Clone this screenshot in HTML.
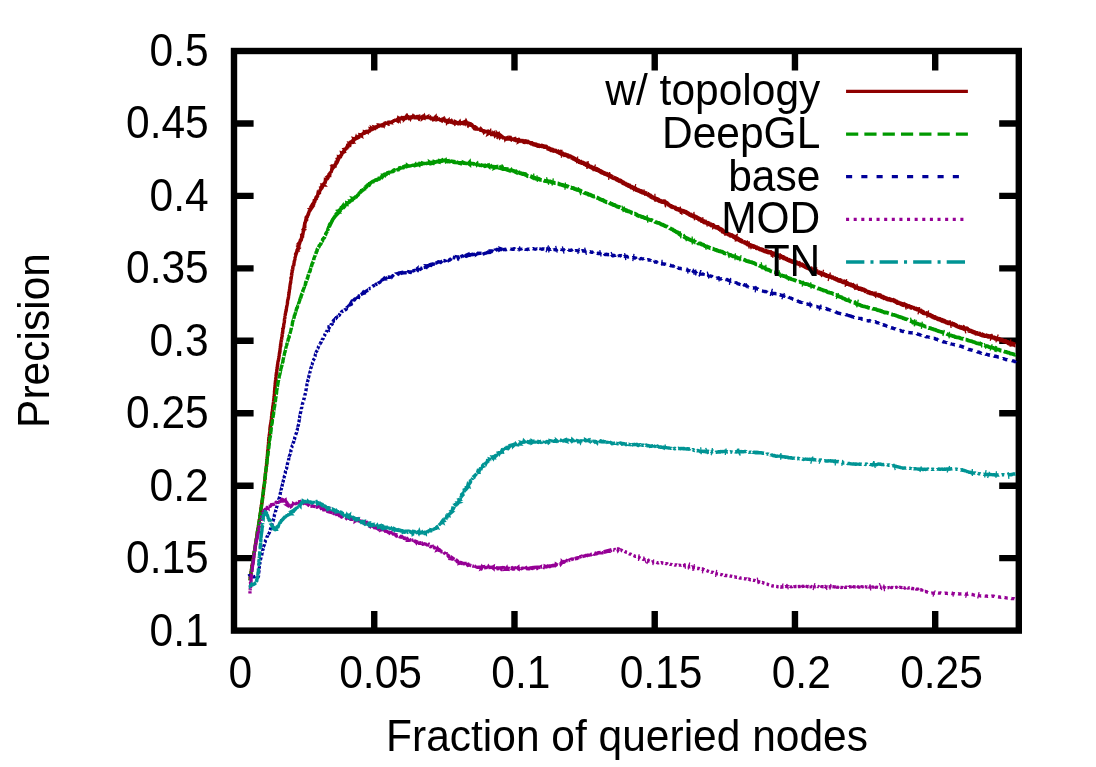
<!DOCTYPE html>
<html><head><meta charset="utf-8"><title>plot</title>
<style>
html,body{margin:0;padding:0;background:#fff;}
svg{display:block;will-change:transform}
text{font-family:"Liberation Sans",sans-serif;font-size:42.5px;fill:#000}
</style></head><body>
<svg width="1096" height="767" viewBox="0 0 1096 767">
<rect width="1096" height="767" fill="#fff"/>

<g stroke="#000" stroke-width="6.4" fill="none" stroke-linecap="butt">
<rect x="234.0" y="51.0" width="784.80" height="579.60"/>
<path d="M234.0,558.15h19.6 M1018.8,558.15h-19.6"/>
<path d="M234.0,485.70h19.6 M1018.8,485.70h-19.6"/>
<path d="M234.0,413.25h19.6 M1018.8,413.25h-19.6"/>
<path d="M234.0,340.80h19.6 M1018.8,340.80h-19.6"/>
<path d="M234.0,268.35h19.6 M1018.8,268.35h-19.6"/>
<path d="M234.0,195.90h19.6 M1018.8,195.90h-19.6"/>
<path d="M234.0,123.45h19.6 M1018.8,123.45h-19.6"/>
<path d="M374.24,630.6v-19.6 M374.24,51.0v19.6"/>
<path d="M514.48,630.6v-19.6 M514.48,51.0v19.6"/>
<path d="M654.72,630.6v-19.6 M654.72,51.0v19.6"/>
<path d="M794.96,630.6v-19.6 M794.96,51.0v19.6"/>
<path d="M935.20,630.6v-19.6 M935.20,51.0v19.6"/>
</g>
<text transform="translate(208.7,645.60) scale(1,1.08)" text-anchor="end">0.1</text>
<text transform="translate(208.7,573.15) scale(1,1.08)" text-anchor="end">0.15</text>
<text transform="translate(208.7,500.70) scale(1,1.08)" text-anchor="end">0.2</text>
<text transform="translate(208.7,428.25) scale(1,1.08)" text-anchor="end">0.25</text>
<text transform="translate(208.7,355.80) scale(1,1.08)" text-anchor="end">0.3</text>
<text transform="translate(208.7,283.35) scale(1,1.08)" text-anchor="end">0.35</text>
<text transform="translate(208.7,210.90) scale(1,1.08)" text-anchor="end">0.4</text>
<text transform="translate(208.7,138.45) scale(1,1.08)" text-anchor="end">0.45</text>
<text transform="translate(208.7,66.00) scale(1,1.08)" text-anchor="end">0.5</text>
<text transform="translate(240.30,688.0) scale(1,1.08)" text-anchor="middle">0</text>
<text transform="translate(380.54,688.0) scale(1,1.08)" text-anchor="middle">0.05</text>
<text transform="translate(520.78,688.0) scale(1,1.08)" text-anchor="middle">0.1</text>
<text transform="translate(661.02,688.0) scale(1,1.08)" text-anchor="middle">0.15</text>
<text transform="translate(801.26,688.0) scale(1,1.08)" text-anchor="middle">0.2</text>
<text transform="translate(941.50,688.0) scale(1,1.08)" text-anchor="middle">0.25</text>
<text transform="translate(627.0,751.3) scale(1,1.035)" text-anchor="middle">Fraction of queried nodes</text>
<text transform="translate(48.9,340.5) rotate(-90) scale(1,1.035)" text-anchor="middle">Precision</text>
<text transform="translate(820.3,105.2) scale(1,1.035)" text-anchor="end">w/ topology</text>
<g stroke="#8f0000" stroke-width="3.3" fill="none" stroke-linejoin="bevel">
<path d="M846.06,91.4H967.9"/>
<path d="M250,580l.2-1.9l0,.7l-.1-.7l0-.5l.4-.3l-.4,1.1l.1-1.1l-.1,1l0-.5l.1-.6l.3-.4l-.1-.3l.1-.7l0-.6l.1-.4l0,.4l.1-.2l.1-.9l0,0l.4-1.5l-.2,.3l.2,.2l-.2,.3l0-.4l-.1,.1l.2-1.3l.1,.6l0-1.1l.5-1.6l-.4,.7l-.1,.6l.1-1.2l.2,.7l0-1.1l0-.3l.3-1.1l-.1-.1l0-.5l.3-1l-.1,.1l.1-.5l-.3,.6l.1-1.1l.3,1.1l-.2-.4l.2-1.8l.1,1.2l0-.6l.2-.3l.1-1.2l-.3,1.6l.4-1.1l-.1-.3l.1-.3l.2-.5l.3-1.7l-.2,1.2l.1-1.4l-.1-.4l.3,.7l-.2,.5l.1-1.7l-.1-.4l.3-.2l-.4,.6l.2-.8l0-.3l.4-.8l-.3,1.9l.1-1.5l.3-.7l-.1-1.2l0,.1l.3-.5l-.2-.3l.1-.1l0-1.1l.1,.4l0-.3l.1-.5l-.1,.2l.1-1.2l0,.6l.2-2l-.2,.6l.4,.5l-.1-.6l.2-1.1l-.1,.3l.1,.1l-.1-.2l.4-.7l-.2,.2l-.1,.5l.6-2.1l-.2-.1l0-.1l0-.1l.1-1l-.2,.7l.2-.7l-.2,.3l.5-1l0,0l0-1.5l0,.8l.1-.1l0-.5l.1,.2l0-1.9l0,.5l.1-.5l.2-1l0,.9l-.1-.2l0-.7l.1-1l.1-.4l.4,.4l-.2-.5l.2-1l-.1,0l-.1,.7l.3-.5l-.2,.4l0-1.5l.2-.4l-.1,.3l.2-1.1l.2-1l0,1.6l.1-1.4l0-1.2l.1-.2l-.2,1l.2-1.3l.1,0l0-.5l.1-.8l-.2,.5l.1,.2l0-1.4l0,0l0-.2l.3-.3l0,.3l-.2,.3l.2-1.1l.2-1l-.1,.7l.2-2.1l-.2,1l.2,.4l0-1.2l.2,.6l.1-1.2l-.2-.9l.4-.3l-.2,.2l.3-.2l-.2-.2l.1-.9l0,.4l.3-.6l.1-.4l-.3,.4l.4-1l-.1,.8l0-1.7l.1,.4l0,.2l-.2-.9l.4-.8l-.3,.6l.4-1.2l-.3,1l.1-.9l0-.5l0,.1l.4-1.6l0,.8l-.1-.5l.3-1.2l-.3,0l.3-.9l0-.1l.1-.7l.1,.3l-.3,1.2l.3-.9l.2-1.7l-.4,1.6l.2-1.3l.4,0l.1-1.7l-.3,.3l.3-.8l-.1,1.1l.1-1.9l-.2,.6l.2-1.2l-.1,1.2l.1-1.2l.4-.7l-.2,.1l.2,.4l-.1-1.8l.1,.3l.2-1.7l-.4,2.6l.2-.6l.1-1l.1-.9l-.1,.5l0-.6l.2-.3l-.1,.4l.2-1.2l0,0l.3-1.8l-.2,1.1l0-.7l.4-1.2l-.2,1l-.1-.4l-.1,.2l.1-1.2l.3-.8l.1,0l-.3,1.5l.4-1.7l.1-.6l-.3,.4l.1,.1l0-1.5l.3-1.2l-.1,1.5l.1-.3l-.1-.4l.5-1.8l-.3,.5l0-.7l.5-1.1l-.2,1l0-.7l0-.1l.1,.4l-.1-.1l.1-1l-.1-.3l.2-1.3l.1,.2l.1,.4l.2-1.1l-.4,.7l.3-.3l-.2,.5l.2-1.3l.3-2.2l-.2,.9l-.1-.1l.1,.1l.1-.8l-.1,0l.1-.9l.4,.4l-.1-.5l-.1-.6l.3-1.1l-.1,.2l.1-1l-.1,1.8l0-1.5l.2,.1l-.2-.9l.3-.3l-.2,1l0-1.3l.4-.4l-.1-.8l-.1-.4l.3-.7l-.2,.6l0-.9l0-.2l.1-1.7l.2,2.4l-.2-1l.3-.7l-.3,.3l.1-1.5l.2-.5l-.1,.1l.1-.2l-.1,.4l.1-1.1l.3,.3l.1-1.3l0,.5l-.2,.4l.1-.2l.1-.8l.2-1.7l-.1-.1l.1,.9l-.1-.3l.1-.7l0,.2l.2,.3l0-1.6l-.1-.6l-.1,1.8l.3-1.9l0-.4l.1,.3l.1-.4l-.3,.4l.4-3.4l.2-.4l-.3,2.5l0-2.4l.1-.5l-.1,1.4l.1-.1l.1-1.2l0-.2l.3-.9l-.1,.2l-.1-.4l-.1,.8l.2-1.8l.1,.4l.1-.8l-.1,.8l-.1-.9l0,0l.2-.9l-.2,.6l.1-1.5l.3,.1l.1-1.5l-.1,.9l0-.2l-.1,0l0,.2l.2-1.4l.1-.4l0-.3l.1-1l0,.5l0-.7l.1-.3l-.1,0l.1,1.1l.1-1.7l-.1,.5l.1-1.5l.1-.4l.1-1l.1-.4l0-.2l0,.5l0-.6l-.3,.1l.2,.1l.3-.8l-.1-1.4l-.2,.8l.1,1.1l.1-2.2l0-.3l.3-1.4l-.1,.9l0,.2l.1-1.8l-.1,1.1l.2-1.5l.1-.2l-.2,.3l0,0l.2-.7l-.1,.2l.3-1.6l-.3,2.2l.1-1.7l-.1-.9l.2,.2l0-.5l0-.3l0,.8l.1-.6l0-1.8l.1-.3l.1,.8l0,0l0,.5l-.2-.9l.3-2.5l-.2,2.7l.1-2.3l0,0l.1-2l.1,1.3l-.1,.1l-.2-.4l.3-1l.1,.2l-.3,.4l.3-2.1l0-.2l.2-1l-.3,1.3l.2-.8l-.1,1.2l.2-1.2l.1-1.5l-.1,.8l-.1,.3l.2-2.2l0,.8l0-.3l.2-1.4l-.3,.5l.2,.1l0,0l-.2-.2l.4-1.4l-.1-.3l-.1,.8l.3-1.2l.1-.2l-.2,0l0-.4l0-.6l.1-.2l.1-.2l0-.7l0-1.3l-.1,1.3l.2-.8l-.2-.1l.2,.1l0-1.8l.1-.3l0,1.3l.2-2.3l-.2,1.5l.2-.7l0,0l-.1-.7l.3-.9l-.1,.9l-.2-.8l.1-.1l.2-1.1l0,1l-.1-1.2l.2-.6l.1-.8l0-.4l.2,.1l-.1,.1l0-.3l-.1-.2l-.1,.6l.7-2.5l-.2,.8l-.1-.3l.1,0l-.1-1.6l-.1,.8l.3-1.3l-.2,1l.1-2.1l0,.7l.1-.1l.1-.1l-.1-1.1l0,.6l0-.7l.1-.7l.4-1.6l-.3,.3l0,1l0-.8l.2-.3l0-.3l-.1,.5l.2-1l0-.6l.1,.7l-.3,.7l.6-3.3l-.3,.5l.1,.1l.1,.4l0-.6l.2-.9l.1-.3l.2-.4l-.4,.5l.3-1.6l-.1,1.1l.3-1l0-1.1l-.1-.1l.2,0l-.1-.2l-.1,.7l.2-1.6l.1-.8l-.2,1.2l.3-1.3l-.3,.3l.2-.9l.1-.1l.2-.9l.1-.3l-.3,.5l.1-.6l-.1-.1l.2-.4l0,.3l0-2.1l.2,.7l-.2,0l.1-.9l.3-1.1l-.3,1l.3-1l-.2,1.5l0-1.1l.2-.2l.2-1.4l-.1-.3l-.1-.4l.1,.5l.4-2l-.1,0l0,.3l.1,.2l-.2-.3l.2,.6l.1-1.6l0-.1l-.1,0l.1-.4l0,.3l.1-.7l0-1.3l0,0l.3-.2l-.1-.3l.1-1.2l-.1,.7l.3-.6l-.1-.5l.3-.7l-.1-.2l0,.3l-.3,1.2l.2-1.5l.1-.2l.1-1.7l-.1,1l0-1.4l.1,.7l.2-1.1l0-.1l0-1.1l.3-.3l-.2-.6l-.1,1.4l-.1-.3l.3-1.3l.1,.1l-.1-.8l-.1-.5l.1,.7l-.2,.9l.4-1.9l-.1,.2l-.1,.3l.2-1.4l0-.6l0-.6l.2,.2l-.1-.4l.1,.4l-.1-.2l-.2,.4l.3-.8l0-1l.1-.7l-.2-.3l.1,1l.1-.5l0-1l.1-.8l0,0l0,.6l0-1.3l.3-1.3l-.1,.3l-.1,.4l0-1.1l.2-.2l0-.4l-.1,.2l0,.6l.2-1.6l0-.1l-.1-.3l0-.2l.2-1.3l.1,.1l-.1,.2l-.1-.7l0,.6l.1-.2l-.2,.2l.4-1.7l-.1-1.3l.1,.5l.2-.5l0-1.1l0,.2l-.2,1l.1-.1l.1-1.4l-.1,.1l.2-.5l.2-.5l-.2,.4l.2-.8l-.3,1l.2-1.3l.2-1.2l.1-.5l-.2,.1l.2-.1l-.1-.3l-.2,.1l.3-.8l.3-1.4l-.5,2.2l.2-.8l.3-2.6l0,.3l.1-.4l-.1,.8l-.2-.1l.1,0l.3-.7l.2-1.4l-.1,.1l.2-1.1l0,.6l-.4,.4l.3-.8l0-1l.3-.7l-.1,.6l-.1,.1l.1-.5l0-.5l.3-.4l.1-1.3l-.2,.5l-.3,1.1l.6-2.4l.1,1.1l-.1-.9l-.2,.7l.1-.7l.1-.3l-.1-.7l.3-1l-.1,1.3l.2-1.9l-.1,.7l0-.5l.2-1.3l0,.2l-.1-.2l.2-.9l.2-.6l-.3,1.1l0-.4l.4,.3l-.2-1.3l.6-1.1l-.1,0l-.2-.1l-.1-.5l0,0l.3-.1l-.3,1.1l.5-1.6l.1-1.6l.2-.7l-.1,.7l-.2,.4l0-.3l.3-.9l.3-1l-.4,1.2l.2-.6l0-.4l.1-.5l-.1,0l.1-.9l.2-.2l.1,.2l0-1.2l-.2,1.3l.1-1.5l.2-.4l0,.2l0,.5l.4-2.2l-.3,.6l.1-.7l.2-1l-.2,1.4l.2-1.8l-.1,1l0-.4l.1,0l0-1.8l.2,.3l-.3-.2l.6-1.6l0-.3l-.5,1.5l.5-1.9l-.1,1.1l.3-1l.1-1.6l-.2,1.4l-.3-.7l.3-.7l.2-1.6l0,1.5l0-1.1l-.3,.7l.3-.5l.1-1.3l.1,.8l.2-2l-.3,1.4l.2-1.5l.2-.9l-.2,1.4l.3-1.2l-.2-.4l.3,.6l.1-.7l0-.3l.1-.1l0,.4l-.2-1l.1-.5l-.2-.4l.3-.3l.2-.3l-.3,.3l.1-.1l.1-.3l.3-.4l-.1-1.2l0-.6l.6-1.8l-.5,2l0,.4l.3-2.8l0,1.7l-.2-1.4l0,.5l.4-1l0-.9l0,.8l-.1,.3l.3-1.7l-.2-.2l.4-.1l-.5,0l.2,.5l0-1.2l.2-1.5l-.2,1.7l-.1,.3l.6-2.2l-.1,.6l.1,0l.2-1.9l-.1,.7l-.2-.3l.1,.8l.5-1.9l-.1-.1l.1-.1l-.2-.4l.2-.6l0-.3l.2-.5l-.3,.5l0,.6l.3-1.7l.2-.5l-.1,.2l0,0l.3-1l-.2-.4l.1-.5l.3-.7l-.1,.6l0,0l-.1-.7l-.2,.8l.4-2.4l0-.1l.1,.5l.1-1l0,.2l-.2,.6l.4-2l-.2,.8l0-.3l.1-.8l.2-.6l.1,.3l-.1-.6l-.1-.6l0,.3l.5-1.7l-.3,1.2l0-.2l.3-.5l-.1-.3l.1-1.5l.2,0l.1-.5l0-.1l0,.1l-.2,.7l.8-2.8l-.7,1.5l.3-.3l0,.4l.3-2.1l0-.2l-.3,1.6l.4-1.8l.2-.7l-.4,1l.5-1l-.4,.5l.4-2l-.2,.5l.3-.5l0-.2l.1-1l.1-.1l.2-.4l-.1-.2l.2,.3l.1-1.5l0,.3l-.2-.4l.1,.1l.2-.4l0-.8l-.3,1.4l.2-1.1l.2-.4l-.1,.4l0-.7l.1-1.5l.1-.2l.1-.6l.1,.1l-.3,.7l.6-1.8l0,.5l-.4,.2l.3-.1l.2-2.3l-.1,.9l.2-.2l0,.2l.2-.8l-.2,.2l.2-1l-.1,.3l.1-.8l.1-.9l-.1,.8l.3-1.5l-.1,.7l.2-.8l-.2-.3l-.1,1.8l.2-2.5l-.1,.4l.2-.3l.3-1.5l-.4,1.6l.2-1.3l.1-.2l.2-1.1l.1-.2l-.2,.1l.2-1.2l-.1-.1l.3-.4l-.1,.5l.3-1.6l-.4,1.7l.3-1.9l-.2,.7l.4-1.7l.1-.3l-.2,.5l0-.8l.2-.3l-.1,0l.1-.3l-.1,.9l.1-1.3l-.1,.3l.2-.3l.1-.8l.1,.9l-.2-1l.1,0l0-.7l.2-.4l.1-1.2l.2,.1l-.2,1.1l.1-1.6l0-.8l0,.4l.1-.5l.2-1.1l-.2,.1l.3-1.9l-.2,2.3l.2-1.5l-.1,.6l.2-.5l.1-1.3l.2-.1l-.1-.6l.1-.5l.1,.5l-.1-.1l.4-2.7l-.3,1.6l0,0l0-.7l-.1-.7l.3-.5l-.1,1l.3,.1l-.3-.6l0-.4l.5-1.8l-.1,1l0-.7l.1-1.1l0,.4l-.2,.2l.2-.6l0-.7l-.4,.9l.5-.7l.1-1.1l.1,.9l0,.1l.3-1.5l0-1l.1-.4l-.2,1.6l.1-1.3l.2-.7l-.2,1.2l.1-2.2l.4,.1l.1,.3l.1-.9l0-.4l-.3,.8l.6-.8l.2-1.8l.1,.1l-.2,.6l0-.9l0-.2l.3,.6l-.1-2.5l.3,.6l0,0l0-.6l.2-.2l0-.3l0,.2l-.1,.4l-.1-1.1l.5,0l0-1.5l.1,.3l-.1-.5l.1,.1l.2-.5l.1,.2l-.6,.3l.8-1.7l.2-.1l-.3-.8l.5,.2l-.4-.4l.1-.3l.3-1l-.4,1.3l.5-1.7l-.3,.7" stroke-width="3.4"/>
<path d="M295.7,254.7l.8-1.9l-.5,1.5l.2-.7l0,.1l.2-.8l.4-.6l0-.7l-.4,1.2l-.1,0l.6-1.2l-.3,.5l.4-1.5l.3-.7l0,.2l.3,0l-.2-.4l.2-.2l-.1,0l.2-.8l.3-.4l0-.1l.1-.3l.8-1.6l-.8,1.4l.5-.7l-.6-.7l.9-.7l-.1-.5l-.5,2.2l.6-2.3l0,0l.1,.1l.1-1.1l0-.2l.3-.4l.2,.3l.2-.6l.3-1l.3,.1l-.8,.1l.8-1l-.4,.4l.2-1.1l.6-.2l.1,.2l-.7,.9l.3-1.4l-.2,.3l1-1.7l-.3,.6l.2-.4l.3,0l.2-1.6l0,.9l.4-1.1l-.2-1l-.2,1.4l-.1-.4l.1-.8l.5-.3l-.2,.2l-.1-.5l.7,.1l.1-1.8l-.2,.5l0-1.1l.1,1.1l0-.3l.2-.4l.2-.1l.1-1.3l.1-.8l0,.6l-.3,.4l.4-.9l-.1-.3l.2-.9l.1-.4l.2,.2l-.2,1.2l.1-2.9l-.3,1.5l.2-.4l.2-.1l-.3-.2l.6-.9l.2-1.5l0-.4l-.4,1.1l.3-.9l.2-.7l-.2,.8l.2-.1l.1-1.6l.4-1.1l0,.6l-.5,.9l.4-1.3l.1,.1l0-.6l-.1-.5l.4-.9l.2-.3l-.4,1.7l.1-1l0-.2l.4-.6l.2-.8l.1-.7l.3,.1l-.8,1l1-1.8l0-.1l-.1,.1l.3-.8l.6-1.9l-.5,1.6l-.5,.5l.8-1.2l-.3,.1l.3-.9l.6-.9l-.2,1.1l.3-1l-.5-.1l.8-1l-.2,.3l.1,0l.1-.6l.3-1.1l.1,1.3l.5-1.5l-.6,.6l.9-1.6l-.5,1.2l-.5,.5l.7-1l-.1-.6l.5-1l-.3,.2l.3-.4l.4-1l-.3,1.1l1.3-2l-.4,.6l.7-1l-.4,.1l-.1-.1l.5-.1l-.2,.5l.8-1.6l-.6,.6l.2,.4l.2-1.3l-.1,.1l.4-1.3l-.2,.8l.3-.4l1-.8l-.6-.4l.5,0l-.9,0l1.1-1.8l.1,1.1l.1,.2l.7-1l-.4-.7l.1-.2l-.7,.9l1.3-2l.2,.3l0,.1l-.3,.2l.2-1l.4,.2l.6-.6l-.7,1l.5-1.2l-.1-.5l.3,0l.2-.9l.3-.3l-.2-.1l.4-.9l.4,.4l-.2-1l0-.1l.5-.1l-.3,.7l.5-1l.7-.6l-1,.4l1.1-.8l.9-1l-1.2,.9l0-.2l.7-.2l-.3-.1l.4-2.1l.7,1.1l-.3-.9l.2-.4l-.5,.4l.1-.1l.1-.2l.8-.4l.5-.5l-.1-.9l0,.3l.4-1.3l-.1,.7l.3-1.5l-.4,1l.1-.1l.6-.9l.1-.1l.7-1.5l-.9,1.3l1.2-1.5l-.7,.8l.8-.7l-.5-.8l.9-.4l-.3,1l.1-.9l.5,.5l-.4-.5l.2,.2l.6-.9l-.3,.6l.4-1.4l.3-.3l-.3-.5l1.1,0l-.3-.3l.3-.5l.5-1.1l-1.3,1.7l1.2-1.1l-.9,.8l1.1-1.6l.3-.5l-.1,.2l.4-.5l0-.4l.2,.3l.1-1.2l.3,.3l.2-.7l.2-.3l.3-1.4l-.2,1.9l-.2-.5l.2-.6l.9-.8l.5-.3l.4-.6l-.9,1.5l.4-.5l.5-.6l.4-1.2l-.3,.5l-.7-.6l1.5-1.2l.4,.6l-.6-.5l-.4,.9l.7-1.1l.8,0l0-.6l-1.2,1.1l.5-1.8l.6-.2l.2,.2l.2-.5l.5-.8l-1.1,.7l.5-.6l1.2-.7l-.1,.2l.2-1.1l-.7-.5l1,.7l-.2-.4l-.1,.6l.7-2.1l-.2,.6l0-1.1l-.4,.7l1.5-1.7l-.7,1.1l.3-.7l-.2,.5l-.1,.4l.6-1.3l.5-.5l-.5-.8l1,.1l-.1,.1l-.2-.4l.9-.3l-.4-.5l.1,0l1-1.2l-.8,.9l.7-.1l.2-.4l.3-.4l-.1,0l-.6-.9l.5,.8l.5-1l.4-.1l.2-1.1l-.3,.1l0,0l.1-.6l1.4-.5l-1,.6l.7-1.2l0,.1l-.5,.1l1-.9l-.1-1l-.1-.2l.6-.2l-.4,.1l.6-.1l.2,.5l.9-2l-.9,.9l0-.5l.7-.1l.5-.6l.1,.5l0-.8l0,.7l-.4-.7l1.2,.1l.6-1.1l-.3,.4l-.5-.1l1.4-2.2l-.2,.9l-.5,.2l1-1.2l-.1,.1l-.1,.3l.3,.5l-.4-1.6l.3,.1l.4,0l1-.8l-.7,.1l1-.4l-.5-.5l.7,.1l.5-1.2l-.4,.4l-.1,.2l.5-1l-.6,.8l.6,.2l.6-1.9l-.4,.9l.2-.2l-.4-.5l1.5-.4l.5-1.2l.1,.5l-.6,.2l1-1.4l0-.2l.1,.3l.1-.4l.3,.2l.5-.1l.3-1.4l-.7,.8l.3-1.3l.5-.1l.7,.2l-.2,.3l.7-.7l.1-.1l.3,.2l.1-.4l.2,.2l-.7-1.3l.9,.1l.4,.6l0-.1l-.4-1.3l1.3,.9l-.4-.9l.8-.1l0-.4l.4,0l-.6-.7l1.2-.5l.2,.3l.3-.5l.1-.2l-.3-.5l1.6-.8l-1.1-.3l.4,.9l.6-.8l-.8,.2l1.1-.8l.7,.2l-.9,.4l.9-.3l.2-.6l.3,.7l0-.8l.8-.4l.6-.3l-.1-.1l-1.1,.5l.9-.8l.6-.3l.5,.1l.4-.8l.1,1.3l.2-.8l-.3,.5l.5-1.3l0,.4l.4-.7l.8,.4l-.3-.8l1.2,.2l0,0l.1-.7l.7-.4l-.4-.2l-.4-.2l1.1,.3l.7-.3l-.4,.1l1.1-.3l0,0l.1-1.2l.7,.3l-.7,0l1.1-.4l.1-.3l.6-.3l-.9-.3l1.2,.9l.4-.4l.6,.3l-.9-.9l1,.8l.2-1.1l-.1,.4l.9-.1l-.3,.3l1.3-.9l-.3-.7l.4,.3l.4,.7l.9-.9l-.8,.4l1.2-.9l-.4,.1l0,.8l-.3-1.1l1.6,.5l.6,0l-.2,.5l-.4-1.5l1.2,.8l-.8-1.1l.9-.3l.4-.4l-.5,.2l.7,.6l-.6-1l1.6,.8l.2-.5l-.3-.5l2,.4l-1.6-.9l2.2,.2l-.5,.3l-.4-.2l1.3-.1l-.8-.2l.4-.4l.8-.4l.7,.3l.4-.2l-.5-.3l-.2-.5l.8,.1l.6,0l.1,.8l-.3-.8l1.2,.2l0-.6l-.1,.2l.5,.4l.7-1.2l-.1,.2l.9,.7l0-.7l-.1-.2l.2-.1l.5-.2l.4,.2l.1-1.1l-.1,1.1l.6-.9l.2-.3l.8-.1l.1,0l.6-.8l0,1l.6,.1l.3,.1l-.3-.8l.9,.9l.5-.9l1.1,.6l-1.4-.9l1.5-.1l-1,.3l1.2-.1l1,.2l-.3-.7l.2-.5l0,.5l.3,.5l1.1,.2l-.5-.5l.4-.3l.2-.1l.9-.1l.2-.3l.4-.4l.3-.1l-.2,.1l0,0l.8-.3l.9,.9l-.2-1l.1,1.1l.2-1.4l1.1,0l-.8-.4l.4,.4l1.2,.8l.1-.9l.7,.2l0-.9l.1-.4l.3,.4l.1,.3l.1,.1l-.1-1.4l1.1-.1l0,.1l.6,.4l.1,.2l.5-.2l.2-.8l-.2,0l.6-.3l.4,.3l.4,.3l.3-.9l.3,1.1l.5-.3l.3-.2l-.1-.4l1-.2l-.1,1.4l.7-.7l.3-.5l.1,.5l.2,.1l.6-.7l.1,0l1.1,.4l-.3-.6l-.1,.3l.3-.2l.6,.6l.1-.2l0-.1l.8-.8l.4,0l.2-.4l.3,1.7l.1-1.8l.5,1.6l.5-.9l.3,0l.8-.3l-.2,1l.6-1l.4,1l.7,.3l-1.2-1.2l1-.5l.9,1l-.2,.3l.3-.7l.5,.4l-.1,.1l.7-.3l0,1.4l.9-1.3l.3-.1l-.4,.7l.8,0l.7,.3l.5-.6l.1,.1l0-.6l.3,.1l.3,0l.2,1.1l.9-.7l-.6,.3l.6-.3l.9-.6l.5,0l-.7,1l.9-.8l.2,.4l.4,0l.4-.4l-.1,1l.8-.6l0,.7l.4-.5l.2,.2l.4,.2l.3-.6l0-.5l.9,.3l.2,0l0,.2l.3-.1l1.2-.6l0,0l-.1,.8l.8,0l.1,0l-.1-.1l1-.4l-.9,.2l1.6,.8l0-.6l-.4,.9l.8-.8l.4,.7l.7-.4l-.3,.2l.6,.2l.4-.3l.6-.9l0,1.1l.3,.7l.4-.4l.6-.8l0,.3l.3,0l.4-.2l.4-.4l0,1.5l.2-.1l.8-.9l.5-.1l.1,1l0,.2l.8-1l-.4,.7l.7,.3l.2-.7l-.3,1.1l1.2-.4l.7,.4l-.5,0l1.2-.5l-.8,.2l.4,.3l.3,.5l.9-.1l-.2,.5l.7,.4l.3-1.1l.5-.3l-.3,1.2l.2-.5l1,.8l-.4-.8l.6,0l.7,.4l.7,0l-.4,.6l.3-.5l.2,.5l.1,.1l1.7,.1l-1.3,0l.9-.3l-.1,0l.9,.5l0-.4l.1,1l.8-.9l0,.6l.6-.4l.4,.1l.6,.4l-.5-.2l.8-.4l0,.4l.8,1.1l-.2-1l.2,.7l-.4-.5l1.6,.8l0,.1l.3-1l.7,1l.7,.3l-.2-1.3l.9,1.2l.2-.5l-.6-.1l.6-.3l.4,.2l.2,.2l.1-.1l1,.5l-.2-.9l.6,.3l.1,.7l0,.3l.3-.7l1,.4l-.4-1.5l.9,1.3l.2,0l.8,0l-.6-.1l.6-.7l.2,.8l.9,0l-.1,.7l.3-.7l.3,.1l.3-1.2l.1,1.4l1.5-.7l-.3,.7l-.2-.2l.8-.1l.5-.1l.2,.2l.2,.2l.4-1l0,.3l0,.1l.9,0l.1,.2l.4-1l.2,.4l.4,.6l0-.2l.3,1.2l1-.3l-.8,0l.6,.6l.9-.8l-.3-.1l.3,1.2l.5-.8l-.1,1.1l.9-.6l-.4,.4l-.3,.7l.4,0l1-.3l.1,.5l.5,.1l.6,.2l.4-.3l.2,.3l0,.1l-.2,.1l.7,1l.2-.5l.5,.2l-.4,.2l0,.5l1.1,.7l-.5-.8l1.2-.2l.4,.3l-.1,1l1.2-.3l-.8,.1l.1,.5l.6-.3l.4,.6l0,.4l1.1,.2l.2,.3l-.4-.6l.7,0l1.1,.3l-.2,1.1l.7-.9l-.8,1.1l.5-.9l.6,.5l.3,0l.4-1l.7,.8l-.1,.6l.3-.7l-.3,1.3l1-.8l-.3-.1l.4,.3l.6,1.4l.2-1.1l.4,1l.8-.9l-.8-.3l.7,.2l.1,.9l.6-.2l.3-1.8l.2,1.8l.8-.2l-.4,1.5l1.1-1.2l-.4,.4l.5-.6l.8,.4l.3-.1l.2,.9l-.2,.6l.8-.5l.6-.8l.1,.7l.4,.8l0-1.2l.1,1.5l.2-.4l.7,.1l-.6-.4l.4,1.1l.6-.1l.7,.1l.2-.4l.1,.2l.1,0l.8-.7l0,.2l1.1,.4l-1.3,1l1.2-.4l.3,.9l.2-.2l.1-1l.7,.5l.8-.4l-.4,1.5l.4-1.3l.6,1.3l.4-.8l-.1-.1l.6,.8l-.1,.6l.5-.2l.2-1l.3,.7l.1-.3l.6,1.4l.7-.9l-.4,.4l.6,1.1l.1-1.9l1,.8l-.3,.1l1,1l.2-.1l0-.1l.9-1l-.1,.9l.2-.8l-.1,.8l.4,.7l.6,.1l.2-1.3l.4,1.9l.8-1.1l.2-.2l-.1,.7l.7-.3l0,1.3l.2-.5l.5-.1l.8-1.4l-.2,1.4l-.2,.4l.8-.1l.6-.4l.5-.7l.4,.3l0,1.3l-.8-.5l.9,.4l.6-.5l.1-.2l.6,.8l-.8,.3l.5-.8l1.3,.3l.9-.2l-.2,.6l.2,.1l.6-.6l-.9,.3l.6-.1l.3,.6l.5-.1l0,.4l.7,.3l.4-1.2l-.2,.2l.6,.8l1,.1l-.1-.5l0,0l.4,.2l.7-.2l.4,.5l.8,.8l-.4,.2l.4-1.2l.5,.5l.6,.7" stroke-width="3.4" stroke-linejoin="miter" stroke-miterlimit="3"/>
<path d="M520.6,141.3l-.1-.8l.4-.3l-.1,.7l.6,0l0,.1l.5-.5l.5,.4l.2,.6l.6-.3l-.1,.6l.5-.4l1,0l-1.3-.1l1.1,.7l.6-.2l-.5-.5l1.4,.1l.2,.3l-.2-.4l.4,0l-.3,.3l.7-.1l.4,.5l.5,0l.2,.1l1.4-.3l-.9,.4l.7-.2l.4,1l.2-.7l.5,.7l0-.1l.1,.5l.2-.7l.4,.5l2,.4l-.8-.1l-.5,.3l.5-.2l1,.2l0-.2l-.3,.4l.4,.1l.7,.2l.7-.2l.7,.6l-.6-.2l.8,.1l-.4,.2l.3-.6l.5,.5l.6,.4l-.2,.2l.9-.6l-1.1,0l1.2,.8l.2,.2l1.1-.1l-.6-.1l1.3,.1l0,.1l-.6,.3l1-.2l.4,.3l.6,.5l.3-.8l.4,.6l.2-.6l.4,0l.4,.3l-.6,0l.6,.1l.2,.3l.6-.3l.7,.3l.8-.2l-.5,.3l-.2-.3l1,.7l-1.1-.6l1,.4l.7-.1l1.4,.5l-1.2,.6l1.3-.6l-.1,.4l0,.1l1.2,0l-1.1,.5l1.2,.3l-.1-.4l-.2,.3l.5-.3l1.6,1l-1.2-.4l1.1,.5l-.3-.1l.4,.2l.7,.2l1,.8l-1.6-1.1l1.8,1l.4-.2l-.4-.3l1.1,.2l.2,.6l.3,.1l.1,0l.4,.1l-1.1-.5l.8,.2l.3-.2l1.2,.9l0-.2l-.3-.2l.4,.5l.6-.2l.8,.2l.2-.2l-.3-.3l.6,.7l.6,.6l-.2-.1l.7,.4l-.2-.7l.6,0l.1,.3l.4,.4l-.3,0l1.2,.7l-.1-.4l.4,.3l1.3,.7l.2,.3l-1.4-.7l1.8,.9l-.8-.7l.4,.5l1,0l-.8-.5l.9,.5l.5,.6l1,.1l-.7,.4l.7,.1l-.3-.7l.7,.4l1.5,.1l-.9,.1l.2,.2l.4-.1l0-.3l.1,0l.1,.6l-.2,.1l1.2-.2l1.1,.3l-.2,.7l.6,.2l-.4-.5l1,0l-.6,.4l1.4,.2l-.4,.3l.5-.3l.4,0l.3,.4l0,.2l-.4,0l1.6,.2l.4,.7l1,.3l-1-.7l1.3,.9l-1.2-.1l.5-.5l-.1,.5l1.4,.2l.6,.5l-.1,0l-.4-.2l.4,.2l1.7,1.1l-.7-.7l.4,.5l-.4,0l.5,0l0,0l.8-.1l.5,.9l.4-.1l-.1,.1l.1,0l.7,.5l-.7,.3l1.3,.1l-.7-.4l1.3,.8l.7,.2l-.6-.6l-.2-.4l1.7,1.3l-.4-.6l.4,.5l.7,.5l-1.1-.6l.8,.4l.7-.4l.6,.6l-.2-.1l0,.4l-.1-.4l.8,.3l.3,.2l0,.2l.6,.4l-.5-.5l1.2,.8l0-.2l-.1,.3l.7,.1l-.5,0l1.7,.6l.5,.5l.6-.1l0,.3l-1.2-1.2l.9,.8l.5,.2l.6,.5l-.9-.6l.8,.4l0,.3l.8,.2l-.6,0l2,.7l-.5-.1l1,0l.1,.3l.9,.2l-.5,.1l-.9-.8l.2,.3l.8,.8l1.5,.3l-.5-.2l.6,.5l-.4-.6l.8,.7l-.2,.1l1.3,.2l.2,.4l.6,.3l-.5,.1l.4-.7l.5,0l1,1.4l-.9-1l-.5-.5l2.6,1.4l-1.5-.5l.8,0l.2,.1l.2,.2l0,.3l.4,.1l1.2,.7l.2-.3l.9,.9l-.6-.4l-.6-.3l1.9,.9l-.3-.4l-1.2,0l1.5,.7l.4,0l-.4-.1l.3,.2l.3,0l.9,.4l.3-.1l.4,.4l.6,.3l-.2-.2l-.5,0l1.1,.6l.1-.2l.6,.1l-.1,0l.6,.2l.8,.5l-.2-.4l.8,.8l0,.1l-.4-.5l.2,.1l.6,.6l.8,0l1.1,.4l-1.6-.4l1.6,.7l-.2,.1l-.1,.2l1.2,.1l.6,.3l-1-.3l1.4,.5l-.4-.5l-.1,.4l.8,.5l-1.1-.6l1.5,.8l.1-.5l.2,.7l.6,.5l-.3-.5l0,.2l1.3,.4l-.3,0l1.4,.4l-.4,.3l-.4-.6l1.1,.5l.5,.6l0-.4l.3,.5l.3,.1l.2-.1l-.4-.3l.8,.2l.1,.5l.5,.2l.3,0l.1,.4l.8,.2l-.6-.5l1.3,1l-.4-.5l.4,.1l-.2,0l.6,.2l1.2,1.1l-.3,0l.4-.2l.8,.5l-.6-.2l.5,.4l1,.2l-1.6-.1l1.7,.2l.2,.6l-.3-.5l1.2,.1l-.3,.4l.6,.4l.1-.1l0,0l-.3-.5l.3,.7l1.3,.1l-.6,0l.7,.6l1.3,.4l-.6-.2l0-.1l1.1,.8l-.7-.2l.2-.3l1.4,.9l.3-.1l.5,0l-.8-.4l.1,.6l1.4,.7l-.1-.3l.4,.3l-.6,.2l.8,.2l2.1,.6l-.7-.2l-1.2-.6l.7,.7l1-.3l0,.3l-.8-.1l1.4,.7l.2-.2l.9,.3l-.9-.4l.5,.5l.4,.5l-.2-.7l.9,.6l.4,.7l.6,.2l.2-.4l.4,.4l-.5-.1l.8,.6l.2,0l.5,.1l1.4,.5l-1.2-.5l.1,.1l.4-.1l-.3,.3l.7-.2l.3,.5l.1,.1l.9,.2l.3,.5l.4,.2l-.5-.3l-.3-.7l1.8,.8l-.4,0l1.1,.9l-.5-.2l.6-.2l0-.1l1.1,.8l-.1-.4l.4,.5l1,.2l-.5-.4l.6,0l-.2,.1l1.1,.7l.1-.3l.3,.6l-.1-.5l.4,.5l1.2,.6l-.7-.4l-.3-.1l1.2,.6l-.5,.2l1.4,.6l-1.1-.7l.9,.5l.5,0l.5,.6l-.3-.5l.8,.9l-.3-.1l.3,.2l.9,.7l-.1-.2l.3,.1l.4,.2l.7,.3l-.6-.2l.2,.1l.3,.1l.2,.6l-.1-.3l1.5,.3l.2,.6l.6,0l-.5-.4l.1,0l.8,1.1l.3-.1l.6,0l-.5,0l-.1-.4l1.7,.5l0-.1l-.5,.2l1.4,.8l-1.1-.8l1,.8l.9,0l-.6,.2l.1-.2l-.9-.5l1.2,.8l1.7,.6l-.3,0l-.5,0l.3,.3l-.6-.5l1.6,.3l.2,0l-.3,.2l1.5,.4l0,0l.9-.2l-.4-.3l.6,0l.7,.7l-.5,0l1.6,.4l-.5,.4l.2-.5l1.4,1l-.9-.6l.2,.2l.3,0l.6,.3l.8,.3l-.4,.5l.9,.2l0,0l.6,.1l-.3,0l-.3,.1l.7,.3l-.8,.2l1.4-.1l.2,.9l.7,0l0-.1l0,.1l-.4,.1l1.8,.5l-.3,.1l.3,.3l.2,0l-.2,0l1,.3l.5,.3l-.2-.3l.2,.3l.3,.3l.1-.5l.5,.8l-.2-.3l1.1,.2l-.3-.2l-.1,.1l1.2,.7l.6,.4l-.9-.3l1.7,.5l.6,.4l-1-.4l.7-.2l.1,.2l.1,.1l.8,.2l.1,.3l.6,.2l.3,.1l-.2,.2l.3,0l-.2-.1l1.3,.5l.3,.1l-.5-.4l.5,.2l1.8,.7l-.5-.3l-.1-.4l.4,.5l.2,.2l1.3,.6l.6,0l-.7,0l.3-.3l.5,.4l.3,.3l.5-.3l-.3,0l.7,.3l-.4,.2l-.3-.6l1.1,.9l.2-.2l-.2,.2l.8,.4l-.3-.3l.5,.6l.9,.3l.5,.4l.3,0l-.5,.2l.8,.2l.1,.3l1.5,.2l-.9-.6l0,.3l.7,.3l0,.4l.6,.2l-.3-.2l.8,.7l.1-.8l.2,.1l.4,.6l1,.4l-.7-.3l.3-.2l.2,.1l-.4-.1l1.6,1l-.3-.1l.2,.3l1.5-.5l-.8,.6l-.8-.8l1.3,1l1.5,.5l-.7-.3l.3,.2l1.2,.3l-.4,.2l-.2,.1l1.6,.2l-.8,0l1.4,.6l-1.2-.3l.6,.4l-.9-.2l1.5-.3l1.1,1.4l-.1-.4l1,.3l-.6-.1l-.5,0l.9,.6l.7,.7l.1-.3l.8,.2l-.6-.7l.8,.8l-.1,.1l1.3,.7l-.9-.8l-.1,.8l.3-.5l1,.7l-.3-.4l1,.5l.4-.2l-.2,.4l.5,0l.4,.4l.2,0l0-.9l.5,1l.9,.4l.4-.3l-.1,.1l-.9-.3l1.9,.8l-.3,.1l.6,.5l-.4-.7l0,.1l.3,.4l.6,.7l-.2-.6l1.1,.8l.5,.2l-1.2-.5l1.5,.2l-.3,.2l1,.3l-.9-.5l1.2,.5l.5,.6l-.3,0l.9,.3l.6,.5l.2-.1l1.3,.5l-.4-.4l-.1,.1l.1,.2l.3,0l-.2,.1l.4-.3l1.1,.6l-.9-.3l-.2-.3l1.9,1.2l-.4-.7l.6,.8l.6-.1l.1,.4l-.4-.1l.6,.5l.3-.1l.1,.5l-.1-.4l1.3,.4l.5,.3l-.3,.3l0,.1l-.4-.6l1.1,.5l.8,.7l-.6-.4l1,1.1l.3,.7l-1.5-1.2l2,.5l0,.7l.5,.2l-.4-.4l.4,.1l.3,.7l.8-.1l.5,.6l.3,.2l-.8-.2l.2-.2l.9,.1l.4,.3l-.4,.3l.2-.3l1.8,1l.4,.4l-.7-.7l.1,.4l.2-.6l.5,.7l.1,0l.5,.2l-.1,.3l1.4,.5l.2-.1l0,.6l.1-.8l.5,.3l-.9-.5l1.4,.3l0,.6l.9,.1l0,.1l1,.8l.2-.2l-1.2-.3l.9,.5l.7,.2l-.6-.7l1.2,1l-.5,.1l0-.2l1.3,.7l-.3,0l.4,.7l1.4,.1l-1.6-.6l0,.2l1.8,.1l.4,.7l-.2-.4l.2,.1l.9,.6l-.5-.2l.7,.5l0,.4l-.2-.1l.5-.4l.2,.3l.6,.1l.6,.8l-1-.5l1.5,.5l.2,.1l0,.1l.3,.2l.7,.3l.7-.3l-.2,.4l.4,.3l.1,.1l0,0l-.1,0l1.9,.4l-.4,.1l.7,.1l-1.3,.2l.7-.2l.1,.2l1.4,.3l-.8,.4l-.1-.9l1,.6l.3,.6l.7,.3l.5,.5l.3-.3l-.2-.3l.7,1l.3-.2l.7,.4l-.7-.4l.2,.3l-.2-.4l1.1,1l-.2-.5l1.1,.4l-.1,.3l1.2,.2l-.8-.7l.6,.8l-.7-.4l.4,0l1.7,.4l.3,.4l-1.1-.7l1.9,1.1l-1.2-.9l1.3,.8l-.1-.5l.3,.8l.5-.1l.1-.2l.6,.5l-.3,.1l1.1,.6l-.6-.6l.9-.2l-.1,.5l.5,.4l.3-.6l0,.5l-.1,.1l1.1,0l.1,.7l1.2,.2l-.4-.4l1.2,.9l-.6-.3l.5-.3l.5,.5l.4-.2l.1,.7l-.3-.6l1,.6l.6,.1l.1-.1l-.1,.1l.7,0l-.1,.1l.3,.6l.4,.1l.1-.4l1,.6l-.3-.3l.9,.8l-.4-.4l-.4-.3l2.4,1l-.4-.4l-.1,.2l-.2,.1l.6,.2l1.1-.2l-.1,.3l.1,.2l.2-.4l.5,.1l.2,.2l.1,.1l.5,0l.6,.2l-.1-.1l0,.2l.7,.6l.5-.4l.2,0l-.4,.3l1.6,.9l.4-.4l-1.3-.6l.7,1.2l-.1-.4l1.8,.5l-.4-.7l.1,.6l-.9,.2l1.3,.2l-.3,.1l.5-.2l.5,.3l1.1,.5l-.6-.4l.5,.1l.9,0l.8,1.1l.1-.8l-.4,.4l.3,.2l.8-.2l0,.1l.1,.3l.8,.2l-.1,.2l.2-.5l1.3,.6l-1.2-.3l1.1,.3l1,.5l-1,0l.4-.3l1.6,.3l0,.6l-.9-.1l.9,.2l-.1-.3l-.2,.3l1.7,.1l-1.1,0l1.8,.5l-.6,.2l1.3,.1l.2,.4l-.7-.6l1,.6l-.7-.6l1,.8l-.6-.3l.1,.5l1.7-.3l-.5,.4l-.1-.3l.7,.5l.4,.2l.5,.2l.7,.3l-.9-.4l1.2,.8l-.1-.4l0,.4l.8,0l.4,.2l-.2-.1l1.1,.6l0-.2l.4,.4l.2-.2l-.4,0l0,.1l1.6,.3l.1,0l-.4,0l.4,.5l1.1-.4l-.1,.4l-.1-.4l1.3,.3l-.9,.6l1.8-.1l-1.7-.8l1.2,.7l1,.6l-.4-.5l.4,.4l-.4-.4l1.5,.6l.8,.7l-1.4-1l.8,.9l-.1-.6l.8,.4l.6,.6l.7-.2l.5,.2l.3,.4l-.6-.5l1.1,.7l-1.3-1l.9,.7l1.1,.3l-.1,.2l.2,0l.1,.3l1.1,.4l.9-.1l-.2,.2l.3,.4l-.4,.2l-.1-.6l.4,.6l1.8,.7l-1.6-.6l.5,.2l.5,.1l1.2,.6l-.2-.5l0-.3l.2,.7l.4,.1l.8,.7l.4,0l-.4-.6l.4,.8l.6,.1l.3-.1l.3,.2l1.3,.2l-.8,.1l.5,.8l-.8-.8l1.6,.5l-.3-.2l.7,.2l-.1-.1l.9,.2l-1.1-.2l1.4,.6l.2,.1l.8,.3l-.8-.2l.9,.4l.4,.2l1.1,.4l-.4-.2l-1-.4l1.3,.1l.9,.6l-1-.3l.4,.2l.4,.3l.6-.2l-.2,.2l1.6,1.1l-.7-.4l.8,.2l.1,.2l.3-.1l.5,.1l-.2,.2l.3-.4l.7,.5l-1.2-.4l1.3,1l1,.2l.5-.3l-1.1,.3l1.7,.2l-.7-.1l.4,.2l0-.5l1,.8l0-.3l1.4,.9l-.8-.1l.2-.1l.2,.3l1.1-.2l0,.3l.3-.1l.6,.1l-1,.1l.5,.2l1.1,.1l.5-.2l-.3,.6l.7,0l.3-.3l-.1,.3l1.2-.2l-.1,.6l-.3-.5l-.2,.2l2.1,.6l-.8-.2l.9-.1l-.3,.1l.4,.7l.5,0l.5,.3l-.2-.1l1.5,.2l-.5,0l.6,0l-.2-.2l.1,.2l.3,.5l-.3-.1l2,.8l-.4-.3l-.1-.1l.2,.4l.7,.3l.4,.1l.7,.1l-.6-.1l.4,0l.8-.1l-.2,1l.2-.4l.6,.4l.7,.2l-.4,.1l1.2,.1l-1.1-.7l1.4,.5l-.5-.2l1.7,.7l-.6-.3l.6,.5l.8,.1l-.3-.4l.7,.8l-.3-.5l.2,.6l1.1,.4l-.1-.1l-.4-.8l1.7,.9l-.5-.5l-.4-.2l0,.7l1.9,.4l-.8-.3l.7,.2l.8,.4l-.5-.2l0-.1l1.9,1.1l-.4-.1l-.9-.1l.8,.5l.8-.3l-.1,.3l.3-.3l.6,.7l-.5-.6l.2,.5l.8,.1l.7,.5l-.6-.5l1.2,.2l.3,.6l1-.1l-.4,.4l-.5-.4l.6,.3l.3,.6l.2-.7l.5,.3l0,.1l2,.4l-1.7,.4l1.2,0l-.7-.6l.7,.8l1,.3l.1,.4l.7,.1l.3-.3l.4,.5l0-.2l.4,.1l.3,0l-.7,0l1.1,.4l-.5,.1l.7,.2l.3,.2l-.2,.2l.8-.1l.4-.1l.9,.5l-.5-.2l-.3-.3l1,.5l-.5-.4l1.3,.6l.9,.4l-1.2-.6l1.3,.2l.2,.3l.7,.6l-.5-.5l.5,.1l.7,.5l-.2-.3l1.5,.6l-.5-.1l1.1,1l-1.2-1.3l.6,.9l.4,0l.6,.6l-.2-.5l.8,.7l-.2,0l.6,0l.8,.5l-.7-.6l1.4,.7l-1-.6l1.2,.9l-1-.3l.8-.3l1.6,.9l-.6-.2l.1,.2l.1-.5l.5,.5l1.1,.2l.6,.6l-.5-.6l.7,.3l.5-.1l-.3,.2l.6-.1l0-.2l0,.3l1.2,.4l0,0l.4-.2l.3,.4l-.9,0l1.1,.4l.5,.2l.3-.4l.4-.1l-.1,.1l.5,.5l.1-.3l.6,.4l.6-.1l.6,.5l-.9-.2l1,.3l1.2,.2l0,.1l-1.3-.5l1.2,.2l.8,.1l0,.6l-.4,.2l.4-.1l.2,.1l1,.4l-.3,.2l1,.1l.2,.3l-.3-.3l-.1-.1l1.2,.3l-.2,.4l1.3,.6l-.7-.5l.5,.4l-.8-.4l1-.1l-.3,.6l-.7-.8l1.9,.8l.6,.3l1,.3l-.7-.3l.5-.1l-.3,.2l1.4,.7l.2,.4l-.5-1.2l.5,.4l-.4-.3l1.5,1.2l-.3-.4l.3-.2l.7,.4l1,.3l.9-.1l-.1,.2l0,.3l.1-.2l0-.4l.8,.4l-.4-.3l1.3,.5l-.6,.1l2,.2l-1.6-.2l2,.6l-.2,0l-1-.3l1.4,.9l.3-.4l-.2,0l.9,.9l.4-.4l-1.6-.2l1.2,.4l-.2,.3l1.3,.5l-.4-.3l1.1,.2l.5,.1l0-.1l-.2,0l-.1,.4l.1,0l1.8,.3l-.6,.2l.6-.2l.6,.7l-1-1l1.6,1.4l-.6-.5l.9,.2l.9,.6l.3,.1l-.5-.5l.8,.1l.4-.1l-.3-.2l.3,.6l.8,.5l-.2-.1l.4-.2l.9,.2l.1,.6l-.2-.6l.8,.4l-.5,0l1,.4l-.4-.3l.6,.1l-.8,.2l2.2,1l-.9-1.1l1.3,.6l-.8-.3l1.6,.5l.1-.2l.5,.5l-.9,.2l1.9,0l-1.3,.1l1.3,.2l.8,.4l-.1-.2l0,.2l.4-.5l.6,.6l0,.3l.3-.2l.1-.1l0,.6l.9-.2l.2-.1l-.2,0l.7,.6l.5-.3l-.2,.1l.6,.5l-.1-.5l-.5,.1l1.3,.3l-.4-.2l1,.5l-.3-.2l1.1,.5l0-.3l1.3,.3l-.3,.1l.3,.8l-.1-.5l.4,.4l.3,.1l.1-.4l.4,.4l.2,.7l1.3,.6l-1-.5l.4-.3l0,.8l.9,0l1,.4l-1.2-.4l1.9,1.1l-.8,0l.1,.1l1.2-.2l-.1,.2l.5,.3l.5,.4l-.2-.6l-.1-.4l.8,.7l-.6-.6l.8,.4l1.6,.9l-.4-.1l0-.2l0,.1l-1-.1l2.5,.8l-.3,.3l0-.4l.5,.1l-.4,0l.9,.6l-.6-.6l1,.7l.5,.1l.8,.2l.1,.4l-.5-.2l1.1,.3l.5,.3l-.8,.3l.3-.4l.6,.3l.7,.1l-1.4-.3l1.6,.4l-.6,.1l2.8,.7l-1.1-.4l.2,.6l.2,0l.3-.1l-.5-.3l.8,.4l.4-.2l.8,1l.3-.4l-.4,.4l.7-.2l1.1,1l-.7-.6l.4,.1l0-.1l1.1,.4l.6,.1l-.3-.1l.2,.1l.4,.3l-1.2-.8l1.9,1.1l1.1,.2l-.7-.5l.1,.5l1.3,.7l-.2-.6l.1,.5l-.1-.5l.8,.3l.2,.2l.1,.3l.7,.5l-.2-.7l1,.7l-.1,.1l.6,.2l-.7-.3l.7,.3l.4,0l-.3,0l.7,.5l-.6-.3l2.2,.6l-.7-.6l-.1,.5l1.4,.5l.4-.1l-.6-.3l.9,.8l.2-.4l.4,0l.4,.6l.4-.2l-.3,.3l1,.1l.1,.5l.5-.4l.3,.2l.1,0l.4-.5l-1.1-.1l1.9,1.1l-1.1-.6l.8,.1l1.1,.4l.2,0l.3,.4l-.8-.3l2.2,.9l-.6,.3l.5-.3l.3,.2l-.4-.2l-.1,.4l1.1,.1l.3-.2l-.1,.4l.6,0l-.4-.3l.9,.7l1.4,.2l-.9,.5l.1-.5l.5,0l.1,.4l.7,.1l.2,.2l-.4-.5l1.2,.5l.9,.2l-.1,0l-.5,0l.2,.1l1.5,.4l.1,.2l-.3,.1l.8,.1l-.2-.2l.5-.2l.8,.4l-.2-.3l1.2,.7l-.5-.1l.3-.5l-.2-.2l1.2,.4l.5,.5l-.2,.5l.6-.3l0,.3l.7,0l.2,.4l.2-.3l-.6,.4l1.5,.7l-.6-.7l0,.3l1.1,.3l-.3,0l.5-.1l.3,.3l.5,.2l1.5,.4l-1,0l.3,.1l1.3,.4l-1.7-.6l1.9,.7l1.2,.4l0-.2l0,0l-1.2-.2l.7,.1l-.1,.2l1.4,.2l-.2,.3l.9,.3l1.1,.1l-.7,.1l0,.4l-1.1-.8l1.3,.2l1,.2l-.1-.1l.2,.2l1,.2l-.2,.2l.1-.1l-.4-.2l2.1,.4l-1,.1l.4,.3l.9-.2l-.3,.3l.6,.5l0-.9l1.4,.7l-1.2-.4l.2,.4l.8,.4l1.9,.2l-1.4-.5l.9,.3l-.1,.3l1.2,.3l.2-.2l.1-.7l.6,.6l.1,0l.7,.2l.2-.1l-.1-.2l.3,.4l.5,.2l.2-.2l.1,0l.9,.8l-1.2-.5l2,.2l1,.1l-1.4-.5l1.4,.6l.5-.2l-.8-.4l.2,.4l-.1-.2l1.4,.4l.1,.5l.1-.5l-.2,.2l1.2,1.1l.9-.7l-.9,.3l.7-.1l0,.3l-.2-.3l1.2,.6l1,.6l-1.1-.4l1.2-.3l-.7,.2l1.9,.7l-.5-.3l-.6-.1l1.3,.8l.1-.1l-.3-.4l.6,.5l.3-.1l.7,.2l.1-.3l-.6-.3l.9,.8l0-.1l1-.1l.1,.1l.5,.4l.4-.2l-1.2,.3l1.5,.1l-.1-.2l1.7,.7l-.2-.1l.6,.3l.1,0l-.1-.1l0-.4l.2,.3l.5,.4l.6,.5l1-.3l-.3,0l.4,.1l-.3-.2l1,.4l-.9,.1l.4,.1l.7-.3l.3,.6l2,.6l-1.1,0l.5,.2l.3-.2l-.4,.2l.3,.4l.8,.4l.1,.1l-.5-.7l.6,.4l1.1-.1l.8,.6l-.3,.1l-.8-.4l1.8,.8l-.7-1l1.2,.6l0,.5l.2-.2l.9,.9l-.6-.9l0-.2l1.9,.6l-.8,0l.2,.4l.8,0l-.1,0l.5,0" stroke-width="4.5"/>
<path d="M560.5,149.6l1.2,6.6M562.0,149.7l-0.6,8.0M577.7,156.5l-1.2,6.9M586.9,161.4l0.0,7.6M588.3,161.1l-0.9,7.4M595.5,164.4l-2.6,6.9M609.7,172.0l-1.1,7.8M635.8,184.1l-2.4,7.3M643.9,189.4l1.1,6.6M654.9,193.8l0.2,8.3M665.1,199.4l-0.0,7.0M665.1,199.7l0.5,7.7M680.4,206.6l0.0,7.5M679.9,207.1l2.2,7.8M693.9,211.9l0.6,8.5M702.7,217.1l0.9,7.1M705.9,219.6l1.4,7.0M713.7,223.0l-1.2,6.5M718.5,225.2l1.2,6.5M727.2,228.9l-2.6,6.9M737.6,233.6l-2.5,8.0M736.4,234.2l0.5,7.2M747.3,240.4l1.9,8.3M748.9,241.2l2.3,8.0M770.4,250.4l1.0,6.5M771.3,250.3l1.7,7.5M780.1,252.9l-0.2,7.2M799.7,260.9l0.3,6.8M811.6,266.4l0.9,7.2M816.9,267.3l-2.2,7.0M823.6,269.8l-2.3,7.3M830.4,272.5l-2.3,8.5M846.7,279.2l-1.6,7.7M853.3,282.9l1.7,7.1M856.8,283.8l2.0,7.1M876.0,291.2l-0.3,6.9M904.0,301.8l2.2,7.9M919.6,307.1l-1.6,7.3M928.6,310.4l-1.8,7.4M950.0,320.0l1.1,8.0M963.4,324.9l2.0,7.1M964.2,325.5l1.6,7.9M992.2,333.8l-2.0,6.9M998.2,334.5l-2.3,7.9M1010.8,339.3l-0.7,7.5M1010.5,339.6l0.6,6.9" stroke-width="1.3"/>
</g>
<text transform="translate(820.3,147.9) scale(1,1.035)" text-anchor="end">DeepGL</text>
<g stroke="#009900" stroke-width="3.3" fill="none" stroke-linejoin="bevel">
<path d="M846.06,134.05H967.9" stroke-dasharray="12.20,6.10"/>
<path d="M250,580l-.1-.4l.3-.3l0-.4l.2-.3l-.1-.3l.2-.4l-.1-.3l0-.4l.2-.3l.3-.3l-.1-.4l.1-.4l-.1-.3l.2-.4l0-.3l-.1-.4l.2-.3l.1-.4l-.2-.4l.2-.3l.4-.3l-.4-.4l0-.4l.1-.3l.2-.3l-.1-.4l.2-.3l-.3-.4l.3-.3l.1-.4l-.2-.4l-.1-.3l.4-.4l0-.3l.1-.3l0-.4l.1-.4l0-.3l.3-.3l-.1-.4l.1-.3l-.1-.4l0-.4l.2-.3l.3-.3l-.1-.4l-.1-.4l.2-.3l.1-.3l-.2-.4l.2-.3l.4-.3l-.4-.4l.2-.4l0-.3l0-.4l.3-.3l-.1-.4l0-.3l.3-.3l-.2-.4l0-.4l.2-.3l-.1-.4l.1-.3l0-.4l.3-.3l-.2-.4l.1-.3l.2-.4l-.3-.4l.4-.3l.1-.3l-.1-.4l0-.3l.2-.3l0-.4l-.1-.4l.2-.3l0-.4l.2-.3l-.2-.4l.2-.3l.1-.3l-.1-.4l0-.4l.2-.3l-.1-.4l.1-.3l.1-.3l.2-.4l.1-.3l-.1-.4l.1-.3l0-.4l.1-.3l.1-.4l-.3-.4l.2-.3l.4-.3l-.2-.4l.3-.3l-.2-.4l.1-.3l0-.4l-.1-.3l.4-.4l0-.3l0-.4l0-.3l.2-.4l-.1-.3l.2-.4l-.2-.4l.2-.3l.2-.3l-.1-.4l.1-.3l.1-.4l.1-.3l-.1-.4l.3-.3l-.1-.4l.2-.3l.1-.4l-.3-.4l.3-.3l.1-.3l-.1-.4l0-.4l.1-.3l.2-.3l-.2-.4l.1-.4l.1-.3l.1-.4l.2-.3l-.2-.4l0-.3l.2-.4l.3-.3l-.2-.4l.1-.3l.2-.4l.2-.3l0-.3l0-.4l-.1-.4l0-.3l.2-.4l0-.3l.2-.3l.1-.4l0-.3l0-.4l0-.4l0-.3l.1-.4l.2-.3l-.2-.4l.2-.3l.1-.3l-.1-.4l.1-.3l0-.4l.2-.3l-.1-.4l0-.3l.1-.4l.2-.3l0-.4l.1-.3l-.1-.4l.2-.3l0-.3l0-.4l.3-.3l-.2-.4l0-.3l0-.4l.2-.3l0-.3l0-.4l.3-.3l-.2-.4l.1-.3l0-.3l.2-.3l-.1-.4l.1-.3l.3-.3l-.2-.4l.2-.3l-.1-.4l-.1-.3l.3-.3l0-.4l.1-.3l0-.3l-.1-.4l0-.3l.1-.3l.3-.3l-.1-.4l.1-.3l-.1-.4l.2-.3l.1-.3l-.1-.3l.2-.3l-.3-.4l.3-.3l.1-.3l.1-.3l0-.4l.2-.3l-.2-.3l.3-.3l-.3-.4l.1-.3l0-.3l.2-.3l0-.4l.2-.3l-.2-.3l.1-.3l-.1-.4l.3-.2l0-.4l0-.3l0-.3l.3-.3l-.3-.4l.1-.3l0-.3l0-.3l.2-.3l.2-.3l-.2-.4l0-.3l.1-.2l0-.5l.2-.1l.1-.5l0-.2l0-.4l.1-.3l-.2-.3l0-.3l.2-.4l.1-.2l.1-.5l.1-.2l-.2-.3l.1-.3l.2-.4l-.2-.3l0-.3l.3-.3l-.3-.3l.2-.4l.1-.4l0-.2l0-.4l0-.1l.4-.5l-.2-.3l-.1-.4l.2-.2l0-.4l-.1-.2l.2-.3l.1-.4l0-.4l0-.3l-.1-.2l.1-.4l.1-.2l0-.5l.2-.2l-.1-.3l.1-.2l.1-.4l.1-.5l0-.2l0-.4l0-.3l.2-.2l-.1-.4l.1-.3l-.2-.2l.1-.4l.1-.2l0-.4l.1-.3l.1-.4l-.2-.5l.1-.1l.1-.3l.1-.4l0-.3l0-.3l0-.4l.3-.3l-.3-.2l.2-.4l0-.2l-.1-.4l.4-.3l0-.3l-.2-.3l0-.3l0-.4l.1-.4l.2-.3l-.1-.2l0-.5l.1-.2l-.1-.3l.2-.2l-.2-.5l.3-.3l-.2-.3l.2-.2l.1-.3l-.1-.4l.1-.2l0-.5l.1-.2l-.2-.3l.3-.4l.2-.3l-.2-.3l.2-.3l-.1-.3l.2-.3l0-.3l.1-.4l.1-.2l0-.5l-.1-.3l.2-.2l-.1-.4l0-.4l.3-.2l-.2-.5l.2-.2l0-.4l-.1-.2l.2-.2l0-.5l-.1-.2l.1-.4l.1-.4l-.2-.2l.2-.3l0-.2l0-.6l.1,0l0-.5l.2-.4l0-.3l-.3-.2l.3-.4l.1-.4l.1-.3l-.1,0l.2-.6l-.2-.2l0-.4l.4-.3l-.3-.4l0-.3l.4-.3l0-.2l-.1-.4l.1-.2l0-.4l.1-.3l-.1-.3l.1-.4l.2-.2l-.1-.5l.1-.1l0-.5l.1-.2l0-.4l.1-.2l.1-.3l-.3-.5l.2-.3l.1-.2l0-.4l0-.2l.2-.4l-.1-.2l.2-.4l0-.3l-.1-.4l0-.3l.2-.3l0-.4l0-.3l.1-.2l.1-.5l-.2-.2l.4-.3l-.1-.3l.1-.3l-.1-.4l.2-.4l-.1-.2l.2-.3l0-.3l.1-.4l0-.2l0-.3l-.2-.4l.4-.3l-.4-.3l.4-.3l-.1-.5l-.1-.2l.1-.3l-.1-.4l0-.2l.2-.3l.1-.4l.2-.3l0-.3l0-.3l.2-.3l0-.4l0-.3l0-.3l0-.3l0-.4l.2-.3l-.1-.3l.1-.3l.2-.3l-.1-.3l.1-.4l-.1-.3l-.1-.3l.1-.4l.2-.3l0-.3l.1-.3l.1-.3l-.1-.4l.2-.3l0-.3l-.2-.4l.2-.3l-.1-.3l.1-.3l.1-.4l0-.3l0-.3l0-.4l.2-.3l.4-.3l-.1-.3l-.1-.4l-.2-.3l.3-.4l-.1-.3l.1-.3l.1-.4l0-.3l.2-.3l0-.4l.1-.3l0-.4l.1-.3l0-.3l0-.4l.2-.3l-.1-.4l0-.3l.2-.4l-.2-.3l.2-.4l0-.3l.1-.3l.1-.4l.1-.3l.1-.4l-.1-.3l0-.4l.3-.3l0-.3l.1-.4l-.1-.3l0-.4l.2-.3l0-.4l.2-.3l0-.3l-.1-.4l.2-.3l.2-.3l-.3-.4l.1-.4l.2-.3l0-.3l0-.4l-.2-.4l.4-.3l0-.3l.1-.3l-.2-.4l.1-.3l0-.4l.3-.3l-.2-.3l.1-.4l.1-.3l.1-.3l-.1-.4l-.1-.3l.4-.3l.1-.4l0-.3l-.3-.4l.2-.3l.1-.3l.1-.3l-.1-.4l0-.3l.3-.3l.1-.3l-.1-.4l0-.3l.1-.4l.1-.3l.2-.3l0-.4l-.2-.3l.3-.3l.1-.4l-.4-.3l.3-.4l.1-.3l-.1-.3l.1-.4l.2-.3l.1-.3l-.1-.4l.1-.3l.1-.3l0-.4l.1-.3l0-.3l-.1-.4l.1-.4l0-.3l.2-.3l0-.4l.1-.3l.1-.4l0-.3l-.1-.4l.2-.3l-.1-.4l.1-.3l0-.4l.1-.3l0-.4l0-.4l.1-.3l.2-.4l.1-.3l-.1-.4l.4-.3l-.1-.4l-.1-.4l0-.4l.2-.3l0-.4l0-.4l0-.3l.2-.4l0-.4l.2-.3l.1-.4l-.1-.4l0-.4l.1-.4l.2-.3l0-.4l.1-.4l.1-.4l-.1-.4l.3-.3l0-.5l.1-.3l.1-.4l.1-.4l.2-.4l.1-.4l-.2-.4l.1-.4l.1-.4l.2-.4l-.2-.4l.4-.3l-.1-.5l.3-.3l-.1-.5l.3-.3l-.3-.5l.3-.4l.3-.4l-.1-.4l0-.4l0-.4l0-.5l.6-.3l-.1-.4l0-.4l-.1-.5l.4-.3l-.1-.5l0-.4l.3-.4l.1-.4l.1-.4l.1-.5l-.1-.4l.4-.4l.2-.4l-.1-.4l.2-.4l0-.5l.2-.4l.3-.3l-.4-.6l.3-.3l.3-.4l.1-.5l.2-.4l-.1-.4l-.3-.6l.3-.3l.3-.4l0-.5l.1-.4l-.2-.5l.4-.4l.1-.4l0-.5l.1-.4l.1-.5l.3-.4l-.1-.5l.3-.4l0-.5l0-.4l.2-.5l-.3-.5l.4-.4l.3-.4l.5-.4l-.3-.5l-.1-.6l.4-.3l.1-.5l-.3-.6l.6-.3l-.1-.5l.4-.4l-.2-.5l0-.5l.6-.4l-.4-.6l.4-.4l.1-.5l.3-.4l-.1-.5l0-.5l.4-.4l-.2-.5l.5-.4l.1-.5l-.1-.5l.4-.4l.1-.5l.1-.5l-.1-.5l.2-.5l.2-.4l.2-.5l.3-.4l.2-.4l.1-.5l-.3-.6l.1-.5l.5-.3l-.1-.6l.3-.4l.1-.5l.1-.5l.2-.4l0-.5l.6-.4l-.3-.5l.4-.4l-.2-.6l.3-.4l-.1-.6l.2-.4l.4-.4l-.2-.6l.1-.5l.1-.5l.1-.5l.2-.4l.2-.5l.3-.5l-.3-.6l.3-.4l.3-.4l-.2-.6l.1-.5l0-.5l.2-.5l.2-.5l.2-.5l-.1-.5l.4-.4l0-.6l.4-.4l-.1-.6l.4-.4l.1-.5l-.1-.6l.2-.5l0-.5l.3-.5l.4-.4l.1-.5l0-.6l.2-.5l.5-.4l-.3-.7l.1-.5l.6-.4l-.1-.6l.1-.6l.2-.5l.2-.5l-.1-.6l.4-.5l.5-.4l.5-.5l-.7-.8l.5-.4l.1-.6l.5-.4l.5-.4l-.4-.8l.3-.5l.3-.5l.1-.5l.3-.6l0-.6l.8-.3l-.4-.8l-.2-.6l.8-.4" stroke-width="3.4" stroke-dasharray="7,1.6"/>
<path d="M300.4,298.8l.1-.6l.1-.6l.4-.4l0-.7l.2-.5l-.1-.6l.6-.5l.1-.5l.1-.6l.4-.5l.1-.5l.1-.6l.3-.5l0-.7l0-.6l.6-.4l-.1-.6l.5-.5l-.2-.7l.6-.4l.1-.6l0-.6l-.1-.6l1.1-.2l-.3-.8l.4-.4l.2-.6l-.1-.6l.2-.6l.1-.6l.3-.5l.3-.5l.1-.6l.3-.5l.3-.5l.1-.6l.1-.6l.4-.5l0-.6l.3-.6l.2-.5l-.3-.7l.6-.5l.1-.6l.5-.4l0-.6l.1-.6l.2-.6l.4-.5l.2-.5l.2-.6l-.1-.6l.6-.5l-.3-.7l.4-.5l.4-.5l0-.6l-.3-.7l.6-.4l.2-.6l.1-.6l.1-.6l.3-.4l.1-.6l.4-.5l.2-.5l.1-.6l.4-.5l.3-.5l0-.6l0-.6l.2-.5l-.1-.6l.5-.5l-.2-.6l.7-.4l-.2-.7l.5-.4l.1-.6l.3-.6l.2-.5l.2-.6l.3-.6l0-.6l.2-.6l.5-.5l.2-.6l0-.7l.3-.6l.2-.7l.5-.6l.3-.7l.7-.4l0-.9l.3-.7l.9-.5l.3-.7l.5-.7l.1-.8l.3-.9l.8-.5l.3-.7l0-1l.5-.6l.5-.7l.9-.4l.1-.8l.3-.7l.1-.8l.4-.5l.3-.3l0-.4l.1-.1l-.1-.8l.2-.1l.2,0l.4-.5l-.2-.7l.4,.5l.1-.3l.3-1.1l-.1,0l-.2-.3l.7-.3l.4-.8l-.3,.5l.2,.5l0-1.4l-.2,.5l.2-.9l.3,0l.4-.5l-.2,.4l.2-.3l0-1.6l.4,.1l-.2,0l.2-.7l.3,0l.5-.5l-.5-.2l.5-1.2l-.4,2.5l1.1-3.2l-.7,.6" stroke-width="3.6" stroke-dasharray="6,1.4"/>
<path d="M329.7,224.4l.4-.7l0,.8l.4-1.2l0,.7l1.2-1.4l-1.2,1.4l.1-.8l0,.5l1.6-2.8l-1.7,1.6l1.1-1.5l.6,.1l.6-1.3l-.9,2l-.1-.7l.7-1.5l-.2,.4l1.2-.6l-1.2,.6l1.1-1.5l-.5,1.1l1.5-2.7l-.8,1.6l.6-.6l-1,1.2l1-1.9l.6-.8l-.6,1.1l1.2-2.1l-.1,.5l.2-.8l.1,.8l.9-1.2l-1.6,1.8l.1-.8l1.2-.8l-.4,1.1l1.5-2.5l.4,.3l-2,2l1.8-1.9l-1.1,.3l1-.6l0-.4l1.9-2.2l-2.7,2.8l3.4-3.6l-1.8,1.9l.9-.8l-.8,.7l.7,0l-.3-.5l.6-.4l-.4-.3l1.3-.3l.3-1.7l-.8,2l1.5-2.1l-.3,0l-.8,1.1l-.2-.2l.8-1l.1,.6l1.6-1.2l-.1-1.4l-2.3,3.3l2.8-2.7l-.3-.1l-.3-.2l1.5,.1l-1.8,.8l3.5-2.1l-1.4,1.6l-.9-.6l2.1-.7l-2.1,1.2l1.7-2.7l0,1.5l-1.2-.4l1.5-.5l.2-.2l1-.6l.6,.1l-.1-1.5l.7,.2l.8-.8l-1.6,2.3l.6-.8l-1.1,.5l3.9-2.2l-2.7,1.2l.8-.9l-1.1,1.1l2.7-1.7l1.3-1.2l.4,.1l-1.5,.1l.6,1.2l.1-1.3l-.6,.1l.2,.7l2.1-2.3l-1,.9l1,0l.8-1.5l-1.8,2.5l.7-1.6l1.2-.6l-.2-.3l.7,.2l-.4-.2l-1.8,1.3l1.5-.8l.1-.5l1.6-.9l-.1-.2l1.3-1.1l-.6,.8l-1.3,.5l3-1.5l-1.6,1.5l2.5-2.9l-1.6,1.3l-.3,.3l.9-.9l1.2-.8l-1.5,1.3l1.3-.9l.9-1l-1.2,1.1l.2-.2l1.4-1.4l-.8,.3l2-2.1l-2.6,2l.9-.3l2.1-1.5l.4-.5l-1.8,1.1l3.1-2.1l-1.7,.8l.8-1.6l-.3,.6l-1.7,1.5l2-1l-.3,.9l.6-1.1l1.5-1.2l-3.1,2.3l2.8-1.6l0-1.4l-.5,1.8l.9-1.4l.2,.2l.7-.7l1-.6l-1.4,.9l2-.2l-1.7-.3l-.6,.2l2-1l-.3,.2l.8-1l-.3,.4l-.2,.4l1.6-1.4l-1,.1l-.2,.2l1.9-1.1l.4-.6l-.4,.7l-.6,.3l-1-.3l2.2-1.1l.1,.3l.9-.2l-.5,.8l-1.1-.3l1.3-.8l.5-.2l.7-.8l-.5,.4l-1.9,.2l3.8-.9l-1.6,.4l0-1l-.9,1.4l3.8-2.7l-.7,1.5l.4-1.1l-1.1,.6l2-.4l-.2,.1l-.5,0l.7-.8l.1,.7l1.7-1.8l-2.6,1.9l1.9-1.3l1-.8l-.7,.6l1.8-.1l1-1.2l-.6,.3l-1.5,.9l1.6,.1l-1.2-1.6l.4,.5l-.7,.3l4.6-.9l-1.2,.2l-1,1.2l1-1l.3-.9l-2.1,.1l3.1,.3l-.4-.2l.2-.6l2.1-1.4l-1.9,1.9l.5,0l-.3-.2l.9-1.2l-.1-.3l1.5-1l-1.5,1.5l1.4-1.1l-.2,.3l-.3-1l2.4-.2l-1.4,.3l-.4-.2l1.3-1.1l1.3,.8l-1.8-.8l1.1,1.3l.6-.9l-.3-.4l1.1-.3l.9-.3l-1.8,1.4l2.1-.9l-.5-.1l.7-.2l-.5,.1l1.6-.7l-.1,.5l0-.7l-1.3,1.1l1.6-1.4l.7-.8l-.8,1.1l-.3-.4l3.7-.7l-.1-.5l-.6,.5l.7-.1l-.6,.5l.1,.8l.5-2l.8-.3l-.8,1.4l2.1-1.6l.6,.2l-1.5-.7l1.2,.6l.5,.2l-.5-.3l-2.2,.8l2.3-1.1l-1.9,1l2.1,0l1-1.3l1.5,.1l0-.2l.8-.4l-2.3,1l2.7-1l-1,.9l1.4-2.1l.7,.2l-1,.6l1.3,1l-2.6,0l2-1.2l.8-.7l-1.6,1.2l1.4-1.2l.9,.5l-1.2-.1l2.6-.6l.1,0l.1,.8l-1.3-1.5l1.8-.2l-.6,1.6l1.2-.6l-.4,0l.8-1l1.7-1.3l-3.6,1.6l3.5-1l-.9,1.2l.6-.4l1-.5l-.8,0l2-.6l.3-.6l-.8,.6l1.6,.3l-.7,0l-.8,.3l0-1l1,.7l1.3-.1l-.2,0l-1.4-.1l1.9,.1l-.1,0l1.9-.5l.8-.1l-1.3,1.3l1-.8l-.4,.4l-1-.6l2-.6l1.2-.1l1.1,1l-1.6-.5l1.1-.1l-.9,1.2l.5-.9l.6-.7l.1,.6l.4-.2l1.4,.4l-1.9,0l2.3-1.3l-2.1,.5l2.8-1l-.5,.4l-.4,.7l.9-.2l.5,.2l-1.2-.5l3.3-1.3l-.8,.1l-1.7,.8l-.3-.1l1.4,.9l.5-1.6l2.4,.3l-2.8,.6l1.7-.2l.5-.4l1.2-.5l-.6,.6l-.1-.1l1.7-.7l1.5-.1l-2,.7l-.1,.9l-.1-1.2l.9,.3l.8-.3l1.2-.1l-.4,.7l1.8-.8l1.1,.3l-2.9,.2l1.1-.2l2.5-.3l-1.1,.2l1.9-.1l-1.1-.3l1.4,1l-.1-.3l-.2-1.2l1.5,1l-2.1,.1l2.2-.2l.7-1.4l-.8,.4l-1.7,.5l2.7,.3l-.3-1l-.3,1.4l2.8-.7l-1.7-.5l-1.7,.1l2.1,.1l-.1-.6l.3,.4l.3-.8l1.8,.6l-2.8,0l1.7,.5l2.3-.7l-2.8,.5l3.8-1.1l-.7,.3l-.3,.2l-.9-.1l2.3-.5l-2.8,0l3.5,.9l-.1-.9l.2-.4l.1-.3l1.9,.6l-.2-.3l-1.5,.1l.9-.7l-1.1,1.2l.7-.4l3.7-.3l-1.4,.5l-.9-.7l2.3-1.1l-3,1.3l4.5-.6l-2.2,.8l-.1-.4l-.2,.6l3.4-.3l-1.1,0l.8,0l-.4,.2l.5-.6l.4,1.2l1.3-.7l.2,.1l.5,.5l1.7-1l-1.9,.3l1.4,1.2l-.9-.7l-1.2-.2l1.8,.9l-2.1-.7l2.6,.4l1.2-.2l-2-.1l2.5-.3l-1.7,.3l1.4,1l-.6-.9l.2-.1l2.4-.1l0,1.3l-.7-.7l3.3-.2l-3.1-.5l0,.3l1.4,.8l1.7,.1l-1.2,.4l1.4-1.6l-.7,.6l-.6-.2l1.5,1.1l.9-.5l-.6-.1l-.5,.1l2.4-.2l-1,.7l1.9,.2l-1.4-.6l.5,0l-1.5,.2l3.3,.2l-.8,.6l-1-.6l1.9,.1l-.6-.3l-.9,.2l3.3,.4l-.7-.2l-.3,.5l-.7-.6l1.3-.1l.8,0l.6,0l-.9,.6l1.8-1l-.4,.9l.2,.1l2.3-.2l-3.7,.1l4.3,.4l-2.4-.5l-.1-.5l1.5,.7l1.9,.2l-2.4,.1l1.8-.1l.1-.5l.2-.3l1.5,.7l-1.2,0l1.6,.7l-.1-.9l-.9,.7l1.4-1.5l.1,1.8l-1.5-1.3l2.4,1.1l1.8-.7l-.3,0l1,.8l-2,.2l2.1-.4l-2.1-.3l.5-.3l3.4,.7l-1.7-.5l1.9,1.3l-.9-.5l-.8,0l.8-.3l.5,.1l-.8-.7l3.4,1l-.7-.6l.8,1.4l-1-.8l.8-.7l.2,.9l.8-.7l-.8,.1l-1.5,.3l1.4-.1l2.8-.2l-.8,.4l-.2,.9l-.2-.3l2.1-.9l-1.5,1.2l-.5-.2l3,.5l-1.4,.3l1.3-.6l-1.4-.7l2.3,.8l-1-.3l-.7,0l1.3,.9l0-.5l.7-.1l2.4,.6l-2.9-.9l2.5,1.4l1.6-.5l-1.4-.6l-.8-.4l1.7,.2l.9,.7l-1.7,.3l1.8-.1l-.4-.4l1.7-.7l-1.4,.6l1.4-.5l.1,.9l-.5-.4l2.3,.8l-.8-.3l2.1,.1l-2.4-.2l2,.5l1.5-.1l-1.3-.3l.8,.4l-.5-.4l-.4,.7l-.7-.2l3.1,.5l-1-1.6l.8,1.4l-.8,0l2.6-.1l-1.4,.3l.9,.5l-.1-.6l0,.2l2.3,.4l-1.7-.8l-.7,.1l1.1-.2l-.5,1.1l.7-.3l-.5-.5l3,.2l-1.8,.7l3-.2l-.8-.7l-.2,.8l1.3,.5l.1-.1l0,.1l1.1,.1l-.1-.8l2,.6l-.4-.8l-.7,1.1l-.6,.7l.9-.9l-1,.3l.5,.2l1.3,.3l1.9-.5l.1,.3l.8,.7l.3-1l-2-.2l-.1,.8l.3,0l1.1-.1l-1-.4l2.6,.2l-.1,1.7l0-1.9l.7,1.4l-1.6-.6l1.6,.3l2.5,.4l-1.7-.3l.4,.1l-.2-.1l-.1-.4l.4,.6l2,.9l-1-1.7l1.2,1.4l-.3-.2l1,.1l-.4-.7l-.2,.2l2.9,.6l-1.2,.4l-1.3-1.1l1.3,.9l-.6,.9l2.1-1l-1.1-.2l1.3,.5l-.4,.9l-.2,.3l.9-1l.6-.1l0,.9l.2,.1l-.1-.7l.6-.1l.5,.3l.7,.5l.4,0" stroke-width="3.4" stroke-linejoin="miter" stroke-miterlimit="3" stroke-dasharray="12.2,6.1"/>
<path d="M517.7,172.2l.2,.2l.3,.1l.3-.6l.3,.4l.3,.1l.3,.4l.4,.2l.8,.2l1.1,.4l1.1,.4l1.2-.4l.9,1l1,.3l.9,.4l.8,.8l1,.2l1-.4l.9,.3l.7,.5l.9,.1l.7,.9l.9,.1l.9,0l.8,.4l.8,.6l.9,0l.9-.1l.9,.3l.8,.5l.8,.2l.9,.2l.9,.1l.9,.1l.8,.4l.8,.6l.9-.2l.9,.3l.9-.1l.8,.3l.9,.1l.9,0l.9,.3l.8,.4l.8,.4l.9-.1l.8,.4l.9,.2l.9,0l.8,.3l.9,.1l.8,.2l.8,.4l.7,.6l1.1-.4l.7,.7l.9,0l.7,.4l.8,.4l.9,.1l.9-.1l.7,.7l1-.2l.7,.5l.8,.4l.8,.2l1,0l.7,.6l.8,.1l1-.1l.6,.8l.8,.2l.9,.2l.7,.5l.9,.1l.8,.2l.9,.2l.7,.5l.9,.1l.6,.7l.9,.1l.8,.4l.8,.1l.6,1l.9,0l.8,.4l.8,.1l.8,.3l.6,.8l1-.1l.8,.2l.8,.3l.7,.6l.9,.3l.7,.3l.9,.2l1-.2l.6,.7l.7,.6l.8,.3l1-.2l.4,1.3l1-.2l.7,.6l.8,.3l.9,.3l.8,.1l.7,.6l.7,.5l.9,.2l.7,.4l.8,.5l.9,0l1-.1l.7,.6l.7,.3l.7,.6l.9,.2l.8,.4l.7,.5l.8,.2l.9,.1l.7,.5l.8,.5l.7,.4l.9,.2l.7,.5l1-.1l.7,.5l.8,.4l.9,0l.6,.8l.9,.1l.7,.6l.7,.6l1-.1l.7,.3l.7,.7l.9,.2l.9,0l.6,.9l1-.3l.6,.8l.8,.4l.8,.2l.7,.7l1-.2l.8,.3l.8,.4l.7,.4l.7,.7l.9,.2l.7,.4l.8,.3" stroke-width="4.0" stroke-dasharray="12.7,2"/>
<path d="M525.7,172.1l2.1,5.8M533.7,173.6l0.2,6.7M537.0,175.2l0.4,6.7M546.5,177.2l2.2,7.6M553.3,178.4l-1.2,7.3M565.4,182.5l-0.4,7.2M578.3,187.2l2.5,8.0M622.0,205.7l1.3,6.5M624.1,206.4l1.8,6.2" stroke-width="1.3"/>
<path d="M640,216.4l1-.2l.6,.9l1-.1l.8,.2l.7,.6l.9,.1l.7,.7l1.2-.6l.5,1l.8,.4l.9,.2l.8,.3l.9,.2l.9-.1l.8,.6l.7,.4l1.1-.2l.7,.6l.6,1l1-.2l.7,.6l.9,.1l.9,.1l.7,.6l.9,.2l.7,.7l.7,.3l1,0l.7,.6l.8,.3l.7,.7l.9,0l.8,.3l.7,.6l.8,.3l.9,.1l.6,.7l.8,.2l.7,.5l.9,.2l.6,.5l.6,.8l.8,.1l.7,.5l.7,.3l.5,.7l.9,.1l.9,.1l.5,.7l.4,.7l.6,.6l.7,.4l.6,.5l.8,.2l.5,.8l.6,.5l1.2-.4l.5,.8l.8,.4l.6,.5l.8,.4l1.1-.3l.5,.9l.8,.3l.8,.2l.7,.5l.9,.2l.7,.6l.9,0l.6,.9l1.1-.2l.7,.5l.6,.7l1.2-.5l.6,.8l.7,.6l1.2-.5l.8,.4l.6,.7l.9,.2l.9,.2l.7,.5l.8,.6l.8,.4l.8,.2l.9,.1l.7,.7l1,.1l.8,.4l.7,.5l1,0l.8,.5l.9,.1l.8,.4l.9,.3l.8,.3l.9,.2l.8,.5l.9,.1l.8,.5l.9,.2l1,0l.8,.5l.9,0l.8,.6l.8,.4l.7,.9l1.1-.6l.7,1l.8,.4l1-.1l.9,.2l.9,.2l.8,.3l.8,.6l.8,.4l.8,.4l1.1-.4l.8,.5l.8,.6l.9,.2l.7,.8l.9,0l1,0l.8,.6l1-.1l.9,.2l.8,.5l.8,.3l.9,.2l.8,.5l.8,.5l.9,.3l1-.1l.8,.5l.8,.3l.9,.2l1,0l.7,.6l.9,.2l.9,.3l.8,.5l.8,.4l.8,.3l1,0l.8,.5l.7,.7l.9,.2l.8,.4l.7,.5l.8,.4l.9,.3l.9,.1l.7,.6l.6,.9l1.1-.2l.6,.8l.9,.1l.9,.2l.8,.6l.7,.5l.9,.3l.9,.2l.8,.3l.8,.5l.9,.1l.9,.3l.8,.4l.8,.3l.8,.6l.9,0l.8,.5l.9,.2" stroke-width="3.9" stroke-dasharray="15,2.3"/>
<path d="M647.1,214.9l0.7,7.9M680.4,231.3l0.4,7.1M684.2,233.9l2.3,7.4M692.2,236.6l0.1,7.8M694.4,238.5l0.5,5.7M704.2,243.6l2.1,6.1M727.5,251.4l1.7,6.7M735.4,253.3l-0.4,6.9M741.1,255.1l-1.4,6.2M761.3,262.3l0.8,7.2M765.9,264.7l-0.2,6.5M778.9,270.2l1.8,7.6" stroke-width="1.3"/>
<path d="M780.6,274.7l.7,.7l1,0l.8,.6l1-.1l.7,.6l1.1-.1l.6,.9l.8,.4l1,.1l.7,.6l1-.1l.8,.6l.8,.3l.9,.3l.9,.3l.9,.3l.9,.3l.8,.4l.8,.4l.9,.2l.8,.5l1.1-.2l.8,.5l.9,.3l.9,.2l.8,.4l.8,.6l.9,.1l.9,.3l1.1-.1l.8,.4l1,.1l.6,.9l1.1-.1l.9,.3l.8,.5l1,0l.8,.4l.8,.6l.9,.4l.9,.2l.9,.4l.8,.4l1,.1l.9,.2l.8,.7l.9,.2l.9,.2l.8,.7l1-.1l.9,.3l1,.1l.7,.8l.8,.6l1,0l.8,.4l.9,.2l1,.1l.9,.3l.7,.8l1-.1l.8,.6l.8,.5l1-.1l.7,.8l.8,.5l1-.1l.7,.9l1.1-.3l.8,.7l.7,.5l.9,.5l.9,.2l.9,.4l.7,.7l.9,.3l.9,.1l.9,.5l.9,.2l.8,.4l.9,.3l.9,.4l.8,.6l.9,.1l1,.2l.9,.3l1,0l.6,1.3l.9,.1l1.1,0l.8,.5l.9,.4l.9,.4l.9,.2l1,.2l.9,.2l.9,.3l1,.2l.9,.1l.8,.9l1.1-.2l.9,.2l1,.3l.9,.1l.9,.5l1,0l1,.2l1,.1l.8,.7l.9,.2l.9,.4l1.1-.2l.8,.7l1,0l.8,.7l1,.1l.9,.7l1-.1l1,.1l1,.2l.9,.4l.9,.3l1,.4l.9,.3l1,.3l.8,.5l1.1-.1l1,.3l.9,.2l.9,.5l1,.2l.9,.6l1,.2l.9,.3l.9,.4l1,.2l.9,.6l1,0l.8,.6l1,.3l1,.1l.8,.7l1,.2l.8,.6l1,.3l.9,.2l.9,.5l.9,.4l.9,.5l1,.3l.8,.6l1.1-.1l.9,.3l.9,.5l.9,.3l1.1-.1l.8,.8l1.1,0l.9,.4l.8,.6l1,.3l1-.1l.8,.9l.9,.5l.9,.4l1.2-.5l.8,.8l1,.2l1,.3l.8,.6l1.2-.2l.8,.7l.9,.5l1.1-.1l.7,.9l1.2-.2l.7,.7l1.2-.2l.9,.6l.9,.4l1,.2l.9,.3l1,.3l.9,.6l1,.3l.8,.6l1,.2l1.1,0l.9,.5l1,.4l1,0l.9,.8l1,.1l1,.2l1,.2l1.1,.1l.9,.4l1,.5l1,.3l1.1-.2l.9,.6l1,.3l1.1,.1l1,.2l.9,.6l1,.3l1,.2l1.1,.2l1,.2l.9,.5l1,.2l1,.4l1,.5l1,.4l1,.1l1,.5l1.1-.2l1,.2l.9,.8l1.1,0l1,.2l.9,.7l1,.3l1.1,.2l1,.2l.9,.8l1.1,.1l1,.4l1.1,0l1,.2l.9,.6l1,.3l1,.6l1.1,0l1,.4l1.1,0l.9,.8l1.1,0l1,.2l1,.4l1,.4l1,.4l1.1,.1l1,.5l1.1,.1l1,.4l.9,.6l1.1,.1l1.1,.3l1,.1l.9,.9l1-.5" stroke-width="3.8" stroke-dasharray="18,2.5"/>
<path d="M786.2,274.4l2.5,6.3M803.8,280.8l-1.7,5.8M810.7,282.3l0.4,6.4M838.5,293.0l-2.2,6.0M848.6,297.5l1.7,5.8M855.1,300.2l1.1,5.8M858.3,299.7l-1.6,7.7M910.5,317.6l2.1,6.9M914.5,319.2l-0.2,7.0M916.3,319.7l-1.9,6.7M922.3,321.7l-0.9,7.1M944.3,329.9l-1.4,6.1M949.5,331.8l-0.4,6.6M980.3,341.7l1.5,5.8M984.3,343.1l1.6,5.6M992.2,344.3l-2.1,6.3M995.8,345.8l-1.1,5.8M996.6,346.3l-0.6,5.8" stroke-width="1.3"/>
</g>
<text transform="translate(820.3,190.5) scale(1,1.035)" text-anchor="end">base</text>
<g stroke="#000099" stroke-width="3.3" fill="none" stroke-linejoin="bevel">
<path d="M846.06,176.7H967.9" stroke-dasharray="6.10,9.15"/>
<path d="M249.3,574l.2,1.2l1,.6l1.2,.4l.9,.3l1.3,.5l1.8-.8l1.6,1.5l.7-.7l.4-.5l.1-.4l.1-.3l0-.4l0-.4l0-.2l0-.3l0-.4l.1-.8l-.1,0l.2-.7l0-.3l-.1-.2l.3-.7l0-.4l-.1-.1l0-.9l0-.2l.3-.2l0-.4l0-.3l0-.4l-.3-.4l.5-.3l-.1-.4l0-.3l.1-.4l-.1-.4l.2-.3l0-.4l.2-.3l.2-.4l.1-.3l-.2-.5l0-.4l.3-.3l-.1-.4l0-.4l0-.4l.1-.4l.1-.4l.2-.3l-.1-.5l.1-.4l0-.4l.2-.4l.4-.3l-.2-.5l.2-.3l-.2-.5l.4-.3l0-.5l0-.4l.3-.4l-.1-.4l.2-.4l.1-.4l.3-.4l-.1-.5l.1-.4l.4-.4l-.3-.5l.2-.4l.2-.4l.2-.4l.1-.4l-.1-.5l0-.5l.3-.4l0-.5l.1-.4l.3-.4l.2-.5l-.1-.5l-.3-.6l.7-.3l-.2-.6l.3-.4l.2-.5l.2-.4l.1-.6l0-.5l.5-.4l-.3-.7l.4-.4l.2-.5l.1-.6l.1-.6l.4-.6l.3-.6l.4-.6l.2-.6l.1-.8l.2-.7l.6-.5l-.1-.9l1-.3l-.2-1l1-.3l-.2-.8l.5-.5l-.2-.8l.5-.4l0-.6l.2-.6l.2-.6l.3-.5l.1-.6l.2-.5l.1-.5l-.1-.7l.6-.3l.1-.6l.2-.5l.1-.5l.2-.5l0-.6l.2-.5l.2-.5l.2-.5l0-.5l.5-.4l-.1-.6l0-.5l.2-.5l.4-.4l.1-.6l.1-.4l.3-.5l.1-.5l-.3-.6l.5-.4l-.3-.6l0-.5l.5-.4l.1-.5l.1-.5l.3-.5l.2-.4l-.2-.6l.2-.5l.3-.4l-.2-.6l.4-.4l0-.5l.5-.4l0-.5l0-.5l-.1-.6l.6-.3l-.2-.6l.1-.4l.2-.5l0-.5l.7-.3l-.1-.5l.3-.5l-.1-.5l.1-.4l-.1-.6l0-.4l.3-.4l.2-.5l.4-.4l-.1-.5l.2-.4l.1-.5l-.2-.5l.2-.5l.3-.4l.2-.4l0-.5l.2-.4l-.1-.5l.1-.5l.1-.4l.3-.4l.2-.5l-.1-.5l0-.4l.1-.5l.5-.3l-.2-.5l0-.5l.2-.4l.1-.4l.4-.4l-.2-.5l-.1-.5l.4-.3l.1-.5l-.1-.5l.3-.3l-.5-.6l.8-.3l-.1-.5l0-.4l.3-.4l0-.5l.3-.4l-.3-.5l.6-.3l-.1-.5l0-.5l0-.5l.4-.4l-.1-.4l.3-.5l.1-.4l-.1-.5l.2-.4l.2-.4l-.1-.5l.2-.5l0-.4l.6-.4l-.4-.5l.2-.4l.3-.4l0-.5l.3-.4l-.1-.5l-.1-.5l.4-.4l0-.5l.3-.4l0-.4l.2-.5l-.1-.5l-.1-.5l.4-.3l.1-.5l-.1-.5l0-.5l.2-.4l.7-.3l.1-.5l-.2-.5l.3-.4l-.1-.5l.3-.5l-.2-.5l.3-.4l.3-.4l-.2-.5l.3-.4l0-.5l-.1-.6l.5-.3l0-.5l.4-.4l.2-.5l0-.4l0-.5l.1-.5l-.2-.6l.4-.4l.3-.4l-.5-.6l.7-.3l.1-.5l0-.5l-.2-.6l.4-.4l.1-.5l0-.5l.6-.3l-.2-.6l.1-.5l.2-.5l.4-.4l-.1-.5l.2-.5l0-.6l-.1-.5l.4-.5l.3-.5l.1-.5l.3-.4l-.3-.7l.3-.5l.1-.5l.1-.6l.2-.5l.4-.4l0-.6l.2-.6l.2-.4l-.3-.7l.7-.4l.4-.5l-.3-.6l.3-.5l-.3-.7l.7-.3l0-.6l.5-.4l-.1-.6l0-.6l.3-.5l.2-.5l.4-.4l0-.6l0-.5l.2-.5l.1-.5l0-.5l.4-.5l.4-.4l-.2-.6l.2-.4l0-.5l.1-.5l.3-.4l.1-.5l.1-.4l.4-.4l-.4-.6l.7-.3l-.4-.5l.6-.3l-.2-.5l0-.4l-.1-.5l.3-.3l.2-.4l-.1-.5l.4-.3l-.1-.4l.1-.4l0-.4l.2-.4l-.2-.5l.1-.3l.3-.4l-.1-.4l.2-.3l-.1-.5l.1-.3l.2-.4l-.3-.4l.4-.3l.2-.4l-.3-.4l.2-.4l.1-.4l-.2-.4l.5-.3l-.3-.4l0-.4l.4-.3l-.1-.5l.2-.3l0-.4l.2-.4l-.2-.4l.2-.4l.1-.4l.1-.4l0-.4l.3-.3l-.1-.5l.2-.3l-.3-.5l.3-.4l.3-.4l0-.4l0-.5l.1-.4l.2-.4l.2-.4l0-.5l0-.5l.1-.4l.3-.4l-.1-.5l.3-.4l-.1-.6l.2-.4l.3-.4l-.1-.5l.2-.5l.2-.4l.2-.5l0-.5l.1-.5l.3-.4l.2-.4l-.1-.6l0-.5l.4-.4l.2-.4l0-.5l-.2-.5l.4-.4l0-.5l.2-.4l0-.5l.3-.4l0-.5l.2-.4l.2-.4l.1-.4l-.1-.5l0-.5l.1-.4l.2-.4l.2-.4l-.1-.5l.1-.4l.2-.4l-.1-.4l.2-.4l-.1-.5l.4-.3l-.1-.5l.2-.4l.1-.4l0-.4l0-.4l.1-.5l.1-.4l-.4-.5l.4-.3l.3-.4l0-.4l.3-.4l-.2-.4l.1-.5l-.1-.4l.4-.4l.1-.4l0-.4l.1-.4l.1-.4l.3-.4l-.1-.5l.5-.3l-.5-.6l.4-.3l-.1-.5l.3-.4l0-.4l-.2-.6l.5-.3l.1-.4l.3-.5l0-.4l.2-.5l-.1-.5l.2-.4l.1-.5l0-.5l.4-.4l.1-.4l.3-.5l-.1-.5l.1-.5l0-.5l-.2-.6l.5-.4l.2-.4l-.2-.6l.4-.4l.3-.5l.1-.5l.4-.4l-.2-.6l.7-.3l-.5-.7l.2-.5l.4-.4l.3-.5l-.1-.6l-.1-.6l.4-.5l.1-.5l.4-.5l.3-.5l.3-.5l-.1-.6l-.1-.6l.5-.5l.3-.5l.3-.5l-.6-.8l.7-.4l.1-.6l.3-.5l.2-.6l-.3-.8l.9-.3l.1-.7l.5-.5l.2-.6l.3-.6l-.2-.8l.9-.4l-.4-1l.6-.5l-.1-.8l.5-.6l.3-.7l.6-.6" stroke-width="3.3" stroke-dasharray="2.7,2.3"/>
<path d="M320,343.8l.6-.5l.1-.8l.6-.6l0-.9l.7-.5l.2-.8l.5-.6l.5-.7l.2-.8l.5-.6l.2-.8l.5-.7l.2-.7l.4-.8l.4-.7l.4-.7l.2-.8l.7-.6l.4-.7l.1-.9l.6-.6l1-.4l.1-1l.2-.9l1.2-.3l.1-.9l.3-.9l1.2-.3l.3-.9l.1-1l.4-.8l.5-.8l.6-.8l1-.4l.7-.7l.3-1l.8-.6l.2-1.2l1.2-.4l1.1-.3l.4-1.1l.6-.9l1.1-.5l.1-1.4l1.4-.2l1.1-.4l.6-1.1l1.3-.3l.6-.6l0-.7l-.3-1l.8,.3l.1-.5l0-.4l.2,.1l1.3,.5l-.5-.7l.6-.8l-.1,.2l.3-.3l.1,.6l-.2-1.8l.8,1.1l.9-.9l.2,0" stroke-width="3.4" stroke-dasharray="2.6,2"/>
<path d="M327.9,325.1l1.7,7.0M334.0,318.6l-1.5,6.8M334.7,317.3l-0.6,5.4M337.3,314.8l-1.0,5.4" stroke-width="1.3"/>
<path d="M350.7,304.6l.4-.2l-.3-1.2l-.5,.9l.8-.2l.3-.9l.1,.5l.9-.7l-.4-.7l-1.1,1.1l1.8-1.5l.5,.4l.4-.7l-.2,0l.4-.8l-.6,.7l.7-.5l.3-.6l-.7,.8l.9-1.1l-.4,0l.8-.8l1.6,.2l-.1-.7l-.2,.9l0-.5l0,.5l-.2-.3l0-.4l1-.4l-.5,.6l1.7-2.1l-.9,.4l1.7,0l-.9-.1l.5-.4l.3,.2l.3-1l.6,0l-1.1,.5l.5-.7l.5,.1l-.6,.6l.6-1l.5-.9l1,.5l-.6-.1l1.3-.9l-1.1,.5l.8-.4l1.2-.6l-.1-.3l.6-.9l.6,.9l-1.3,.4l1.1-.7l-.7,.6l.5-1.4l.9,1.5l.6-1.2l-.8,.4l1.1-1.1l.9-.6l-1.1,.5l.2,.3l1.5-1.1l.1,.7l.3-.6l0-.8l-.2,.9l.1-1.1l1.1-.3l-.6-.5l.5-.3l-.6,1.1l1.4-1.7l1.7,.2l-1.6,.1l1-.3l.4-.1l-1.2,.5l2-1l-.8,.3l0,.3l1.8-1.2l-.1,0l.3-.1l-.9,.1l.2,.7l0-.3l1.2-.8l.4-.9l1.7-.6l-2.3,1l1.1-.3l-.9,0l.6,1.2l0-.9l1.5-1l-.7-.3l2-.6l-.5,.2l.9-.7l-1.3,1l2-.9l-1.5,.6l1-1.6l.7-.2l.4,.4l.7,.1l-1.5,.8l1.1-1.3l.1-.1l-.7,1.3l1.5-1.4l-.7,.5l1.1-.4l1.4-1.1l-.8,.1l-.1,.1l.8-.8l-.2-.4l1.9-.8l-.5,1.4l-.5-1.6l.4,.1l.6,.8l-1.5,0l1.9-.8l1.2-1.2l.5,.7l-1.6,.1l-1.3,.2l2.9,.6l.3-.9l.1,.2l0-.5l-.1-.5l2.3-.6l-2.8,1l2.5-.6l-.4-.9l-.5,1.3l1-1.6l.7,1.2l.8-.9l1.2-.7l-1.5,.4l.7,.2l.2,1.3l.4-1.3l-.4-.1l1-.2l.1-.7l-.3,.2l1.1-.4l-.9-.2l.9,0l-.2,.4l.6,.3l2.6-2.3l-1.6,2l-.3-1.1l.4,.5l.8,.2l-.6,.1l.7-.6l.4-.5l.4,1.1l.3-.7l.6,0l-1.1-.3l1.4-.5l-.8,.2l1.9-.7l.7-.1l-.8,.8l1-.9l.8-.2l-.4,.1l.6,.4l.6-1l-1.2,.9l.4-.2l.9,.3l-1.2-.2l.5-.1l3.3-.6l-1.7,1.1l.8-.7l.2-.1l-.5-.7l2.9-.6l-1.5,1.7l-.1-1.9l1.5,1.4l.4-.6l1.4,.8l-2.3-.4l1.2-.5l-.2,.3l1.7-.2l-.3,.3l2-.3l-1.2-.2l-.1,.9l1.3-.9l-2,.2l1.1,.5l1.2-.5l0,.3l.8-1.1l1.1,.4l-.8,0l.7-.4l1.8,0l-2.1,.4l.7-.2l-.3,.5l-1.5-.3l3.4-.2l-1.8,.3l2.2,.4l-1.3-1.1l1.2,.6l-.7-.8l1.7-.4l.1,.4l-.9-.4l3.1,0l-1.5,0l-.8,.1l2.6-.9l-3.1,.9l1.5-.2l1.3-1.4l.6,1.1l-.5-1.5l.6,.7l-.1,.3l1.1-.9l-.2,1.1l.6-.7l.8,.7l1.4-2.1l-.4,1.2l.9,0l-1.5-.7l.4,.9l.3,0l.2-1.2l1,.2l.4-.5l-.8,.1l1.7,0l.8-.1l-2.8,1.7l1.5-1.1l1.3-1.1l1.2-.5l.8,0l-.1,1.2l-1.1,.3l-.5-.9l2.1-.3l-.3,.1l2.6-1.3l-.6,1.4l-3.1-.2l1.4-.7l1.2-.1l-.5-.6l2.4,0l-.7,1.1l.8-.7l-.6-.6l2.1,.1l-1.5,0l1,0l-.1-.7l-.7,1.7l1.5-1.9l.2,1.1l.9-1.7l-1,.8l1.4,.2l.3-.3l.2-1l.6-.5l-1.5,1.6l1.8-1.2l-1,.7l-1-.4l2.6-.6l-.5,.6l.4-.4l1.9,.2l-2.6,.2l2.8-2.3l.6,.8l.6,.6l-.1-.7l-.7,.4l-.1,.4l.2-.3l2.1,0l-2.2-.2l1.6-.2l1.2-1.1l1.3-.2l-1.4-.2l1,.9l-.6-.6l.8,0l-1.1,.8l1.1-1.5l.1,1l-1.1,.1l1.6-.1l.8,.5l1.5-1.4l-1.8,1l1-1.4l.9,0l1.4,.2l-.6,.1l0-.5l.9,0l-.4-.6l.4,.7l.8,.3l-.3,.1l-.5-.4l.8,.2l.4-.7l-.9,.9l2-1l0,.3l.4-.1l.2,.5l-.6-.7l.6-.4l-.1,.5l2.1-.2l-1.5-.4l2.5,0l-.4,.3l0-.2l-.5,1l1.6-1l1.8-1.6l-2.7,1.5l1,0l0-.2l.9-.2l.5-.5l.5-.5l.1,.3l-.2-.5l1.1-.2l1.1,.1l-1.9-.6l1.1,.3l.1,.1l.5-.6l-1.4,1.3l1-.8l1.1-.4l1-.6l2-.1l-1.5,1.1l-.1-.6l1.1,.2l.3,.4l.1-.6l.2,1.1l1.1-1l-.2,.2l-.2-.3l1.5,0l-.1-1.2l-.3,1.4l-1-.7l.6,.4l1.4-.3l1.3-.1l-1.6,.7l.8-.8l1.9-.7l-1,1.6l-.5-1.7l1.3,1l.3-.1l.3-.3l-1.2-.1l2.1-.4l-.6,.6l3-1.3l-.3,1l-2.2,.7l1.5-1l.8-1.1l1.2,.9l-1.6,.6l1.3,.2l-.4-1.3l.1,.9l1.7-.8l.1-.2l-1.3,0l1.1,.1l.7,.4l.2-.2l-.3-.2l.6,.3l.6-.5l.3,.4l1.1-.8l.3-.2l-.9,1.1l.2-1.1l1.6,.7l-2.3-.9l.8,.9l1.1-.1l1.7-.5l-1.2-.1l2.1,.5l.4-.4l-1.5,.2l1.1-.6l0,.4l-.1-.2l2.8-1l-1.6,1.1l.1-.6l-.1,.3l1.1-.2l1.5,.1l-.9,.2l-.5,.4l-.2-.3l1.8-.1l1.3-.9l-2,1.3l1.3-.8l.9-.2l.3,0l-.8,.1l-2.3-.1l3.6,.9l-1.3-.7l2.8-.2l0,.4l-.3,.2l1.4-.2l-2.1,.7l1.7-.7l2.3-.8l-3,.1l1.6-.1l.5-.2l0,.2l-1.3,.3l1-.7l1.2,.5l1.5-.6l.3,.3l-1,.1l1.1-.7l-1.1-.3l1,.5l.2-.7l.8,.9l1.3-1.3l-.8,.4l.6,.8l.3-1.1l.3-.1l-.9,.3l.3,0l.9-.1l1.5-.3l-.4,0l.7,.6l-1.9-.7l1.8-.7l1.1,.2l-.9-.7l.7,.1l1.3,.3l.5-.2l-.9-.1l1.1,.8l-.3-.7l.8-.2l-.7,1.2l1.9-2.2l-.8,1l0,.2l.9,0l-.3,.1l.7-.6l.9,.4l-.8,0l1.8-1.8l-1.2,1.1l.4,.8l.8-.7l.9,.4l-.7-.4l.7,.3l.4-.4l-.1-.2l1.1,.4l.3,.1l0-.8l.4,1.3l.3-1.3" stroke-width="3.3" stroke-linejoin="miter" stroke-miterlimit="3" stroke-dasharray="6.1,9.15"/>
<path d="M503.3,248.6l.4,1.1l.3,0l.4-1.1l.5,.6l.5,.5l.5-.1l.5,0l.5-.2l.5,.5l.5-.4l.5-.5l.5-.2l.5,.8l.5-.8l.5,0l.5,.4l.4-.2l.5,.6l.5-.3l.5-.3l.4,.4l.5-.3l.5-.4l.4,0l.5,.7l.4,0l.5-.3l.4,.4l.4-.5l.5,.5l.4,.2l.4-.9l.5,.8l.4-.6l.4,.5l.4-.6l.4-.2l.4,.6l.4,.4l.4-1l.4,.6l.4,.1l.4-.2l.4,.2l.4-.6l.4,.3l.4,.1l.4,.3l.3-.4l.4-.3l.4,.7l.3,.3l.4-.7l.4,.5l.3-.1l.4-.6l.3,.3l.4-.4l.3,.3l.4,.2l.3-.2l.4,.3l.3-.7l.3,.3l.4-.4l.3,.3l.3-.2l.3-.1l.2,.4l.5-.3l.3,0l.4,.1l.3-.1l.3,.3l.3-.3l.3,.4l.5-.2l.2,.3l.4-.1l.1-.1l.4,.4l.4-.8l.3,.2l0,0l.8,.3l.2-.2l.4,.4l0-.4l.6-.1l.1,.2l.4-.5l.3,.3l.3,0l.1,.7l1.1-.9l-.4,.1l.4,.5l.5-.4l.2,.5l.6-.1l.2-.2l.1,0l.6,.2l0,.2l.6-.4l.3,0l.2,.2l.5,.3l.2-.7l.1,.3l1-.3l-.4,.3l.2-.5l.4,.7l.5-.2l.6,0l.1,.2l.4-.3l.4,.6l.2-.3l.3,0l.6-.1l.2,.2l-.1,.2l.5-.1l.4,.3l.3-.5l.2-.3l.7,.8l0-.1l.3,0l.1-.2l.8,.3l.2-.6l.2,.4l.4,.2l.5-.2l0,.3l.3-.4l.7,.3l-.1-.2l.4-.1l.1,.5l1.2-.3l-.3,0l.5,0l-.1,.5l.6-.8l.5,.5l.3-.2l.3,.3l.4,.1l.2,0l.3-.1l.3,0l.4-.3l.1,.1l.4-.1l.5-.1l.3,.2l.2,.3l.3-.4l.2,.5l.5-.8l.4,.6l.1-.2l.1-.2l.4,.4l.7,0l-.1-.6l.5,.3l.6,.2l0,.2l.4-.4l.1-.1l.4,.5l.5,.1l.2,.1l.3,.1l.2-.3l.5,.2l.4-.3l.5,.1l.2,0l0,.4l.4-.2l.5-.1l.5-.3l.3,.3l.4,.1l.3-.1l.3,.5l.1-.6l.5,0l-.1,.4l.6-.2l.4,.4l.2-.5l.7,.1l-.2,.1l.5,.1l.3-.4l.3,.1l.6,.1l.1-.1l.4,.5l.4-.4l.4,.3l0,.5l.3-.2l.5-.3l-.2,0l.5,.4l.5-.4l.1,.7l.8-.4l.2,.3l.4-.3l0,0l.6,.4l.2-.6l-.1,.5l.4-.5l.6,.9l.2-.4l.3-.1l.5-.4l.4,0l.4,.4l.1-.1l.6,.2l.1-.3l.5-.2l.2,.4l.2,.2l.5,0l0,.2l.3,.1l1-.2l0,0l.1,0l.1,.2l.5-.4l.2-.1l.5,.4l.2,.2l.2-.1l.4,.1l.7-.7l-.1,.6l.5,.1l.4-.1l.3,.4l.2,.2l.4-.1l.3,.1l1,0l-.8-.1l.5,.2l.9-.1l-.2,.4l.6,.2l.1,0l.5-.1l.6,.4l-.3-.1l.5-.1l.2,.3l.7-.2l.2,.2l.2,.2l.4-.2l.1,.1l.5,.1l.1,.1l.7-.2l.2-.2l-.2,.4l.5-.2l.1,0l1,.1l.4-.3l.2-.3l0,.6l.4-.2l.1,.5l.1-.2l.7-.4l.7,.1l.2,.2l.3-.2l.1,.4l.6,0l-.1,0l.8,.4l.3,.1l.2-.1l0,.3l.3,.2l.5,0l.3-.3l.4,.1l.4,.2l.3,0l.3,.1l.2-.1l.3,0l.7,.2l-.3,.2l.5-.1l.3,.1l.5-.5l.2,.2l.4,.4l.6-.3l-.4,0l1,.3l.6,.1l-.3-.2l.5,0l0,.5l.7,.3l.2-.4l.5,.2l.4,.1l-.3,.2l.5-.3l.6,0l.2,.6l.4-.6l.1,.3l.2,.2l.3-.3l.5,.4l.4-.6l-.1,.3l.9-.2l0-.1l.7,.1l-.3-.2l.8,.4l.1-.4l.2,.1l.5,.5l.8-.7l-.2,.8l.4-.7l.2,.1l.3,.4l.7,.1l.6-.1l-.2,.2l.3-.5l0,.3l.8,0l-.3,.1l1,.1l-.2,.1l.6,0l.1-.4l.4,.3l.4,.3l.4,.4l.2-.4l.5,.1l.1,0l.2-.2l.8,.3l0,.2l.4,.1l.4,0l.3-.2l.2-.1l.5,.3l.1,.2l.2-.1l.4-.1l.5,.3l.3,0l.1,0l.6,0l.3,0l.1,.2l0-.3l.6,.7l.3,0l.5-.3l.3-.3l.4,.6l.2,0l.3,.2l.2-.3l0,.3l.6,0l.7,.5l-.1-.6l.6,.4l.7,.1l-.1-.4l.1,.3l.6-.1l.3,.1l.4,.2l.1-.1l.7,.3l-.2-.1l.8-.3l0,.4l.3,.1l-.1-.2l.9,.2l.1-.2l.9-.3l.1,.3l.2,.3l.4-.3l.1,.1l.4,.4l0-.2l.5,.3l0-.4l.4,.4l.6,.2l.3,.1l.5-.2l.1-.2l.3,.5l.3-.3l.1,.3l.6,.3l.3-.2l0,.1l.5-.1l.8,.1l-.2,.2l.5,0l.4-.2l.2,.1l.5,.6l-.1-.5l.3,.6l.3-.4l.6,.7l.6-.1l-.1,.2l.5-.2l-.1,.1l.6,.1l.3,.2l.2-.1l.7,.4l-.2-.4l1,.2l-.1,.2l.6,.1l-.3,.4l.4,.1l.4-.1l.2,0l.4-.2l.2,0l.6,.6l0-.4l.3,.4l.6,.2l.2,.1l-.1-.1l.9,.2l.3,0l.5-.2l-.1,.3l.1-.1l.4,.2l.6,.1l.1-.2l.1,.6l.5-.2l.4,.2l.3-.1l.4,.1l.3,.8l.2-.5l0,.2l1.1,0l.2,.1l.1,0l.2,0l.5,.1l.2,.1l.1-.2l.6,.3l.4,.3l0,0l.6-.3l.3,.2l-.1,0l.7,.3l0-.1l.5,0l.6,0l-.1,.1l.2-.1l.7,.3l.3,.2l.3,0l.2,.2l.5,.1l.3,0l-.1,0l.6,.6l.2-.3l.3,0l.2,.1l.3,0l.6,0l.3,0l0,.7l.2-.2l.7,.4l.4,0l.3,.3l0-.2l.2,.2l.5,.1l.1-.1l.5,.4l.3-.3l.1,0l.9,.3l-.3,.2l.6,0l.1,.4l.1,0l.9,.1l-.1-.2l.1,.1l1.1,.3l-.3-.2l.6,.2l.1,.1l.4,0l.3,.1l.6,0l.1,.1l.2,0l.1,.1l.4,.2l.6-.1l.4,0l.3,.1l.2,.1l.6,.2l.2,0l0,0l.1,.3l.3,.3l.5,0l.1-.3l.3,.1l.8,.5l.2-.3l.4,.2l-.1,0l.6,.1l.2,.6l.6-.6l.2,.3l.5,.3l-.2-.2l.6-.2l.4,.4l-.3-.3l.9,.3l0-.1l.4,.2l0-.3l.6,.6l1.2-.2l-.4,0l.1,.4l.5,.1l.3,.2l.3,0l.1,.1l.4-.2l.7,.1l-.1,.2l.5,.5l-.1,0l.5,.2l.5,0l-.1,.4l.6,.2l.3-.4l.3,.5l.2-.1l0,.3l.6,.1l.6,.2l-.4-.2l.7,.3l.7-.1" stroke-width="3.5" stroke-dasharray="5.6,5.2"/>
<path d="M519.7,246.2l-0.6,5.3M548.5,245.4l-2.5,6.9M549.5,246.6l-0.8,5.9M555.7,245.8l1.5,6.9M562.4,246.3l1.6,7.3M579.3,247.8l-1.5,6.2M584.7,247.6l1.7,7.3M599.8,250.1l1.3,6.4M611.1,252.1l2.2,5.4M624.6,253.2l1.2,7.0M634.0,253.8l-1.2,7.4M662.1,259.8l-0.3,5.9M687.1,267.5l0.9,6.2M693.4,268.6l0.8,6.2M695.7,269.5l0.0,5.9M701.1,270.1l-2.1,6.0" stroke-width="1.3"/>
<path d="M700.2,273.9l.1,.1l.6-.3l0,.4l.2,.1l.3-.6l0,.3l.7,.1l.8,.4l-.1-.6l.4,.7l.6-.3l-.1-.1l.6-.1l.2,.2l.2,0l.6-.1l.3,.2l.3,.1l-.1,.3l.4,.1l.6-.1l.2,.5l.5,.1l.3-.7l.1,.8l-.3-.1l1,.1l-.1,.5l.7,0l.4-.2l.1-.2l.3,.4l.1,0l.4,.2l.8,.1l.1,.1l.1,.2l.3,.1l0-.1l.3,.1l.6,.6l.4-.2l.3,.1l.4,.3l.1-.4l.5,.4l.2,.1l.4-.2l.5,.4l-.1,0l.3,.1l.6-.2l.4,.4l-.3,.2l.5,0l.3-.4l.3,.2l.3,0l.4,.1l.1,0l1,.4l0-.1l.4-.4l.1,.5l.3,.2l.4,.2l.5,0l.2,0l.1-.3l.5,.2l.1,.3l.7-.5l.3,.2l0,0l.3,.5l.6-.1l.3,.2l-.1-.2l.4,.3l.5,.1l.1-.5l.6,.2l.5,.2l.2,.2l.3,.3l.1-.4l.4,0l.5,.3l.2,.3l.3-.2l0,.2l.7,.2l.4,.3l.2,0l.1,.1l.3-.1l.5,.3l.1,0l.3,.2l.7-.2l.2,.1l.4,0l0,.3l.3,.1l.5,.1l.4,0l-.2,.4l.6-.1l.1-.2l.6,.6l.6-.1l-.1,0l.2,.1l.4,.4l.4-.3l0,.5l.3-.1l.5,.1l.2,.2l.5,.1l.2,.6l0-.2l.3,.2l.3-.1l.5,.3l.3-.1l0,.1l.4,0l.5,.9l.7-.5l-.1,.2l.3,.1l.2-.2l.5,.4l.5,0l.4,0l.1-.3l.6,.1l-.5,.1l1.2-.1l.1,.3l-.2-.4l.9,.5l.3-.2l.3,.3l.3,0l.1,.3l.3,0l.1-.1l.4,.9l.6-.2l0,0l.2,.1l.6,.3l0,.4l.3,.2l.2-.1l.7,.1l0,.3l.6,.1l0,.3l.3-.1l.3,.1l.3,.2l.5,0l.4-.1l.1,.1l.2-.1l.5,0l.5,.1l.1,0l.4,.1l.3-.1l.3-.1l.6,.1l.2,.5l.2-.3l.6-.1l.1,0l.4,.4l.2,0l.4,.2l-.1-.2l.6,.2l.4-.2l.2,.3l.2,.4l.4,.1l.2,0l.1,.1l.6-.2l.3,.6l.4,.1l.2,.2l.5,0l-.1,.4l.1,.1l.4,0l.5,0l0-.2l.6,.6l.6,0l-.3,0l.8,.2l.1,.3l.1-.1l.6-.3l.2,.5l.1,0l.7-.1l.2,.1l.2,.3l.4-.3l.7,.1l0,.1l.6,.3l-.1-.3l.4,.6l.4-.3l.2,0l.5,.1l.4,.2l.4,0l0,.3l.3,0l.6,0l.1,.2l.3-.2l.1,.5l.4-.2l.7-.1l-.2,.3l.6,.1l.4-.2l.3,.2l.2-.3l.5,.4l.1,0l.2,0l.2,0l.5,.1l.3,.3l.2-.4l.4,.2l.8,.2l-.4,.1l.8,.1l.3,0l.1,.1l.5-.2l.4-.2l.3,.5l0,.5l.4-.5l.7-.2l0,.3l0,.4l.4,.1l.5-.1l.3,.3l.5,.1l.1,.1l.5,0l.2,.1l.1,.1l.3,.3l.1-.2l.7,.2l.2-.1l.5,.2l-.2,.2l.8,.1l-.1,.3l.5-.2l.6,.2l-.2,0l.8-.2l.3,.4l.1,.3l.6-.2l.1,.4l.2-.3l.4-.3l.1,.4l.6,.2l-.2,.1l.6-.3l.4,.5l.3,0l0,.6l.4-.2l.7-.3l.2,.6l.5,.1l.1,.1l.3-.1l.1,.1l.3,.3l.3-.1l.5,.6l.1,0l.3,.2l.3,.1l.6,.2l0,.1l.6,.2l-.1-.1l.3,.5l.4,0l.5-.3l.1,.4l.3,.5l.2-.4l.2,.4l.6,.3l.1-.1l.5,.3l.2-.3l.6,.1l0,.5l.3,0l.2,.1l.3-.1l.4,0l.4,.5l.2,.2l.2-.1l.3,.2l.4-.3l.2,.3l.4-.1l.4-.2l.1,.5l.5,.1l.4,0l.2,0l.1,.5l.5-.1l.3,.2l.2,0l.3,.3l.1-.2l.7,.2l.1,.4l.5-.5l.4,.3l.2,0l.3,0l.5,.4l.1-.2l.1-.2l.5,.5l.2,.3l.4-.2l.4,0l.1,.2l.4,.1l.4,0l.3-.2l.3,.1l.3,.7l.2-.4l.5,0l.5,.2l-.1,.1l.4,.2l.3,.1l.2,.2l.4,0l.6,.1l0-.2l.4,.4l.3,.1l.4-.1l.2,.1l.3,.3l.5-.1l0,.2l.5,0l.3,.1l.3,.1l.3,.3l.4-.4l.3,.3l.3,.2l.3-.3l.1,.4l.5,0l.2,0l.3,.4l.3-.4l.2,.2l.6,0l.3-.1l.3,.1l.3,.4l.3-.1l.5-.3l.2,.2l.3,.2l.2,.1l.5,.2l.2,.2l.5-.5l.1,.5l.4-.1l.2,0l.4,.4l.3-.2l.3,0l.3,.5l.3,.1l.2-.1l.4,0l0,.5l.5,.2l.5-.4l.4-.2l.1,.6l.2,.3l.4-.1l.3,.1l.3-.1l.2,.3l.3,.1l.6,0l0,0l.3,.5l.6-.1l0,.1l.4,.1l.4,.2l.3-.2l.2,.4l.3-.1l.3,.5l.3-.2l.4,.2l.3-.1l.3,.1l.2,.3l.3,.1l.3,.3l.3-.1l.3,.3l.3,0l.3,.3l.3,.1l.4-.2l.2,.3l.3,.1l.3,.1l.4-.1l.2,.4l.4,0l.3,0l.2,.3l.4-.1l.3,.3l.4-.4l.3,.1l.2,.5l.3,.1l.4,0l.4-.3l.2,.4l.4,0l.3,0l.4-.1l.3,.1l.3,0l.4,0l.2,.3l.4,0l.3-.1l.3,.3l.3,.3l.4-.3l.4-.1l.2,.5l.3,0l.4-.2l.3,.3l.3,.2l.2,.5l.3-.1l.5-.5" stroke-width="3.5" stroke-dasharray="6.6,6"/>
<path d="M700.7,270.2l-1.4,6.5M707.3,271.7l1.5,6.9M718.9,275.9l0.2,5.6M730.7,277.9l-1.3,6.9M746.1,283.2l2.3,5.4M756.0,285.8l-0.8,6.5M772.5,288.7l-2.3,7.3M771.7,289.6l0.7,6.3M784.4,293.1l-2.6,6.1M809.9,301.6l0.6,6.2M821.1,304.5l-1.9,6.0" stroke-width="1.3"/>
<path d="M850.3,315.6l.1,.8l.5-.3l.3,.1l.3,.2l.3,.2l.3,.2l.4-.1l.3,.1l.3,.1l.3,.2l.2,.4l.4-.1l.3,.2l.5-.4l.2,.5l.3,0l.4-.1l.2,.4l.4,.1l.3,.1l.4-.1l.3,.1l.4-.2l.3,.2l.4,0l.3,.1l.3,.2l.4-.2l.3,.1l.3,.2l.4-.3l.3,.2l.4,0l.3,.1l.3,.3l.3,.3l.3,.1l.4,0l.3-.1l.4,0l.2,.5l.3,.1l.4,0l.3,.2l.4-.1l.2,.4l.4,0l.3,.3l.4-.4l.3,.5l.3,0l.4-.1l.3,.2l.4-.1l.3,0l.3,.3l.3,.1l.5-.6l.4,.1l.2,.5l.4-.1l.3,0l.4,.1l.4-.2l.3,0l.3,.2l.3,.2l.4,.2l.4-.4l.3,.4l.3,.1l.3,.1l.4-.2l.3,.4l.4-.2l.3,.1l.3,.2l.4-.1l.2,.6l.4-.1l.3,.3l.3,.1l.4-.1l.3,.2l.3,.4l.4-.3l.2,.4l.4,.1l.3,.2l.3,.1l.3,.1l.3,.4l.5-.6l.2,.5l.3,.3l.3,.1l.4-.1l.3,.3l.4-.1l.3,.2l.3,.1l.4-.1l.3,.1l.3,.2l.4,.1l.3,0l.3,.3l.3,.2l.4-.1l.2,.5l.4-.1l.3,.1l.3,.1l.4,0l.2,.5l.3,.2l.5-.3l.1,.7l.5-.4l.2,.4l.4,.1l.3,.1l.4,.1l.3,.1l.3,.1l.3,.3l.4-.2l.4,0l.3,.1l.3,.3l.3,.2l.4-.1l.3,.2l.4-.1l.3,.1l.4,0l.3,.3l.3,0l.3,.2l.4,0l.3,.1l.3,.2l.4,0l.2,.4l.4,.1l.4,0l.3,.1l.4,0l.3,.1l.2,.6l.4-.2l.4,0l.4,0l.2,.4l.3,.4l.4-.3l.3,.2l.4,.1l.3,0l.4,0l.4-.1l.3,.3l.3,.2l.4-.1l.3,.4l.4-.3l.3,.2l.4,.3l.4-.2l.3,.2l.4-.1l.3,.3l.4-.3l.3,.2l.4,0l.3,.1l.4,0l.3,.3l.5-.2l.3,.1l.3,.4l.4-.3l.4-.1l.3,.3l.4-.2l.4,.1l.3,0l.4,.2l.3,0l.4-.1l.3,.4l.4-.1l.4,0l.4,0l.3,.2l.4-.1l.3,.4l.4-.4l.3,.6l.3,0l.4,.1l.3,.2l.4,.1l.3,.2l.4-.1l.4,.1l.3,.2l.3,.1l.3,.3l.5-.2l.2,.3l.4,0l.3,.5l.4-.3l.4-.1l.4,.2l.3,.3l.3,.1l.4-.1l.3,.5l.4-.1l.4-.1l.4,0l.2,.4l.4,.1l.4,0l.3,.1l.3,.4l.5-.4l.3,.3l.4-.2l.2,.6l.5-.4l.4,.1l.3,.1l.3,.2l.4,0l.4-.1l.4,.1l.3,.3l.5-.3l.2,.6l.3,0l.4,.3l.4-.2l.3,.1l.4,0l.4-.1l.3,.3l.3,.3l.4,.1l.3,.2l.3,.2l.4-.1l.4,.1l.3,.2l.4,0l.2,.5l.4,0l.4,.1l.4,.1l.2,.3l.4,.1l.4-.1l.2,.6l.4-.1l.3,.3l.4,0l.4,.1l.4-.1l.3,.1l.4,.2l.3,.2l.4,.1l.4,0l.3,0l.4,.1l.4,.1l.4-.1l.2,.6l.4-.1l.5-.3l.2,.5l.5-.2l.3,.3l.3,.2l.3,.2l.4,0l.5-.1l.3,.2l.2,.6l.5-.3l.3,.2l.4,.1l.3,.1l.3,.4l.5-.4l.3,.4l.5-.3l.3,.3l.3,.2l.4-.1l.4,0l.3,.3l.5-.1l.3,.1l.5-.1l.2,.4l.5-.1l.3,.1l.4,0l.4,.2l.3,.2l.4-.1l.3,.4l.5-.2l.3,.2l.4,.2l.3,0l.5,0l.3,.2l.4,0l.4-.1l.3,.4l.3,.2l.4,0l.4,0l.3,.3l.4,.3l.4,0l.3,.1l.3,.5l.4,0l.4,0l.3,.2l.4,0l.3,.5l.3,.1l.4,.1l.4,.1l.4,.1l.3,.2l.3,.3l.5-.1l.3,.3l.4-.2l.4,.1l.3,.2l.4,.4l.4-.2l.4,0l.3,.3l.4,0l.4,.2l.4-.2l.4,.4l.4,0l.4-.1l.3,.3l.4,.1l.4,0l.3,.3l.5-.1l.3,.2l.4,0l.3,.4l.4,.1l.4,.2l.3,.2l.5-.3l.4,.3l.3,.2l.3,.3l.5,0l.3,.1l.3,.5l.5-.3l.5-.1l.3,.3l.4,.1l.5-.3l.3,.5l.4-.1l.3,.4l.4,0l.4,.2l.5-.3l.3,.3l.4,.2l.4,.2l.5-.3l.3,.4l.4,0l.4,.1l.3,.3l.5,.1l.4-.2l.4,0l.4,.1l.3,.5l.5,0l.4-.1l.4,.1l.4,.2l.3,.2l.5-.3l.3,.5l.6-.4l.3,.5l.4,0l.4,.1l.4,.1l.4-.1l.4,.1l.4,.2l.5-.1l.3,.2l.4,.2l.4,.1l.4,0l.5,0l.3,.2l.4,.3l.5-.2l.3,.5l.4,0l.4-.1l.4,.2l.4,.3l.5-.1l.2,.6l.5-.3l.4,.3l.4,.1l.4-.1l.3,.6l.4,0l.4,.2l.4,.1l.5-.2l.3,.4l.5,0l.4,0l.4,.1l.5,0l.3,.3l.5-.2l.4,.2l.3,.3l.5-.1l.4,.1l.4,.3l.5-.3l.4,.2l.4,.1l.4,.1l.3,.5l.5-.2l.4,.1l.3,.3l.4,.4l.5-.4l0,.4" stroke-width="3.5" stroke-dasharray="5,5.3"/>
</g>
<text transform="translate(820.3,233.2) scale(1,1.035)" text-anchor="end">MOD</text>
<g stroke="#950095" stroke-width="3.3" fill="none" stroke-linejoin="bevel">
<path d="M846.06,219.35H967.9" stroke-dasharray="3.05,4.57"/>
<path d="M250,592.7l0,.8l-.1-2.4l.1,.1l.1-.8l-.1,1.1l.1-.7l0-.8l-.1,0l.1-.4l0,.6l.2-1.8l-.1,.5l-.1,1l.3-3.5l.1-1.1l-.3,4.1l.4-3.6l-.1,.5l0,1.1l.4-3l-.4,3.2l.3-1.4l-.1-1.9l-.1,1.7l.3-1.4l-.2-.9l-.1,0l.2,1.8l0-2.4l-.1,.1l.1,1.3l0-.8l.1,.2l0-1.4l.2-1.4l-.2,2.3l.2-3.3l-.1-.4l0,2.1l.2-4l-.2,2.3l.1-1.7l.1-.2l.2,.8l-.2-.3l0-1l.1-1.6l0,2.2l.3-3.5l-.3,2.4l0,0l-.2,.1l.6-3.7l-.1,1.8l.2-1.6l-.2,.3l.1,.4l.1-.1l-.4,1.4l.4-4.1l.2,0l0,.6l0-1.1l-.2,.2l.1-.3l.1,.9l0-.4l0-1.4l-.1,.8l.3-.9l-.1,.9l0-1.1l.1-.6l0-1l.1,.9l-.1,.6l0-.6l.2-2l0,.9l-.4,1.6l.5-2.7l.1,.1l.2-1.7l-.5,2.2l.6-4l-.2,1.5l-.3,1l.5-1.9l-.1-.2l.3-1.2l-.2-.2l-.2,1.3l.6-2.3l-.1,.6l0-.1l0-1.3l-.2,2.7l.1-2l0,.9l-.1-.5l.5-1.2l.1-1.9l-.2,.8l-.1,.5l.1,.2l.1-.4l.6-3.3l-.4,.9l.2-.6l-.4,1.5l0-.8l.3-.9l-.2-.3l.4-.1l.2-1.5l-.7,3.8l.5-3l0-1l0-.1l.5-1.1l-.3,1.1l-.1-.4l-.2,.1l.2-.3l.1,.9l0,0l.8-4.5l-.3,.6l0-.2l.3-1.8l-.3,2.1l.2-1.8l-.2,1.1l-.1,.8l.1-.3l-.2,1l-.1,.4l.8-4.9l-.5,3.2l.5-2.4l-.1,1.1l0-.8l0-.4l-.2,.8l.6-2.7l0,.1l-.1,.3l.2-1.3l-.1,.9l-.3,.3l0-.4l.4-1l.3-1.3l0-.1l.4-1.2l-.4,.8l.5-2.5l-.3,1.5l-.2,1.2l-.2-.7l.7-2.9l.5-.4l-.6,1.6l.1-.6l.1,.7l.2-3.4l-.4,3.9l.3-1.1l-.1-1.1l.5-1.5l0-.1l.3-1.2l-.5,3.4l.2-2.2l0-.1l.3,.1l.4-2.2l-.3,1.6l0-.9l.4-1.7l-.5,1.9l.1-.7l.5-1.3l.1-1.4l.3-.1l.1-.8l-.2,1l-.7,2.4l1.2-5.3l-.8,2.3l.2,.8l0-.1l.1-.3l.5-2.3l-.5,2.3l.1-1.9l.1,1.5l.4-2.3l.2-1.8l-.5,2l1-4.1l-.5,.4l.1,1.4l0-1.9l.1,.6l.4-.7l-.5,1.4l0,.2l.7-2.7l-.2,.3l.2-.2l-.7,2.1l.2-1.2l.7-1.5l-.1,.1l-.2-.6l.3,.6l-.2,.4l.1-.9l.5-2l-.1,.8l.6-2.4l-.2,0l0,1.1l0-.3l-.1,.1l.5-1.4l0,.6l.2-1.5l-.1-.6l-.2,.7l-.2,.7l.4-.5l.4-1.2l-.3,.3l.5-2.1l.1,1l-.5,.7l-.2,.1l1-1.3l.2-1.4l-.7,1.2l.5-.9l-.6,1.2l1.9-3.8l-.5,.2l0,.2l0,0l.5-1l.5-.9l-.9,1.5l.1,1l.5-2l-.2,.5l.2-.9l.4,.5l.1-.1l-.4,.1l-.3-.6l1-1.2l-.4,.2l.9-.6l.6-1.2l-.3,.2l-1.4,2.3l.8-.7l1.8-2.8l-.1,.6l-.7,.7l.4-.7l-.2-.1l.4,.5l0,.2l.3-.3l1.5-.9l-2,.5l1-1l.9,.6l-.1-1.1l.7,.4l-.9-.2l1.4-.6l-.7-.1l1-.3l.8,.1l1.1-.7l-1.4,.1l.6-.4l1,.3l.3-.1l.3-.4l-1.7-.2l1.2-.4l1.6-.2l.2-.2l1.1-1.2l-2,1.7l1.9-.5l2.8-1.2l-.8,.4l-.8-.7l-.5,.1l2.1-.4l-2,1l1-.7l.6-.7l-1.5,1.2l1.6-1.5l.9-.5l-1.3,1.3l1.1-.8l1.4,.7l-1.2-.2l1.8,.6l-.5-.1l1.8-2.1l.2,.6l-.9,.1l1.3,.4l1.1-.5l-1,.1l.6,0l.6-1.5l-1.7,1.2l1.2,.3l-.3-.3l1,.7l.6-.7l.8-1l.2,.8l-1.6,.1l.2-.9l3.2,1.5l-.9,0l-.2-1.3l-1.3,.9l2.2,1.3l-.8-1.1l-.1-.3l0-.2l.9,1.2l1.7,2l-1.5-1.8l.8,1.6l-.4-.6l1.2,2.3l-.5-1.4l.4,.9l-.5-1.4l1.4,1.8l-.4-.5l1.4,1.6l-1.1-1.2l.6-.2l-1.7,.3l3.5,2.2l-1-1.7l.1,.2l1.7,0l-.9,.5l-.3-.9l-.3-.4l.9-.5l2.2-.1l-1.8,.6l-.1,.7l1.5-1.8l-1,1.1l.8-1.5l.7,1.1l0-1l1.1,.6l-.1-.7l-.1-.4l1.4,.1l-1.4-.1l1.3,.4l1.4-.6l.5-.3l-.6-.2l.4-.3l.3,.6l.9,.2l-.8-.9l1.6-.5l0,.5l-1.3,.4l.4-1.1l.7,.3l-.6,.2l.6,.3l1.4,.5l.8-.7l-2.1,.6l2.5-.8l.6,.6l-.5,0l.2,1.3l-1.1-1.6l1.5,.2l.9,1.2l.7-.7l-.6-.9l.2,1.3l-.8,.3l2,0l-1.3-1.3l.1,.1l1.2,.5l2.4,1.4l-1.3-.8l-.8-.1l2.8,.1l-2,.2l1.6,.7l.8,0l-1-.4l.9,.9l.9-.9l-.5,1.3l1.2,.7l-.5-1l-.1,0l1.3,.6l-.4-.1l2,1l-2.8-1l4.1,.8l-3.1-.8l2,0l-.5-.6l0,.7l.3-.1l1.6,1.2l-1.2-1l0,.9l.4,0l2.6,.1l-3.5-.7l2,.6l1.3,.3l.2,0l1.1,.2l.4-.4l-1.2,.1l.5,.1l.5,0l1.1-.1l.6,.5l.7,.4l-1.8-1.1l2.2,0l-1.3,1.4l.8-.2l.3,0l1.1,.1l-.6-.4l1.4,1.2l-1.4-.2l2.4,1.1l-1.1-1.3l-.2,1.1l.7-1l2.2-.2l-.6,1.4l1.2-.8l-1.1-.1l-1-.3l2.2,1.8l-1.9-1.1l.5,.8l.9,0l.6-.2l.8-.6l-1.5,.7l3.3-.5l-.7,.9l.8,.6l-.5-.5l.6,1.3l.8-1.2l-2.3,.1l1.1,0l1.4,1.1l.4,.5l.1-1.6l-.3,.2l.2,1.1l-.1-.2l1.1,.2l.2,.4l-.7-.2l1.3-.9l.7,.6l-.3,1l1.5-.3l-.6-.4l.3-.3l-1.5,.3l1.7,1l-1.7,.1l1.2-.2l1.5,.5l1.2,.9l-.4-.5l1.1,1l.9-.3l-3.2-1.4l3.8,.8l-1.9-.1l.6,.7l-.6,.1l1.1-.6l1.5,1.2l.3,.2l.6-1l-1.2,.8l1.1,.3l.3-1.7l.6,.3l-1.1,1.4l.9-.4l2.1,1.8l1.2-1l-3.3-1.6l1.8,1.9l.9-.5l-.1,1l.4-1.1l-.4,.4l1.6,.4l.2,.5l-.9-.1l-.6-1l2.2,.7l-.6,.2l1.1,.3l.1,.7l0-.7l1.4,1.4l.3-.3l-1.3,.6l1-1.2l-.2,.3l-.9-.3l2.1-.6l-1.6,.4l2.6,.7l-.5-.6l2.2,.5l-2.2,.5l2.5-.1l-.4,.2l0-1l-.6,.7l.9,0l.1,.1l-1-.2l2.2,0l.2,1.9l.4-.2l-.4-.6l.7,.1l-.7,0l.3-.6l1.1,.6l1.9,.3l-1.3-.5l2.3,.5l-1.7,.2l.6,.2l.4,.4l-1-1.2l1.1-.1l-.2,1.8l1.1-.7l-.3,1l.8-.6l-1.2-.8l.7,1l.9,.3l1.9-.4l1.3,.6l-.7,.2l-2.2-.1l2.7-.2l-1.1,.5l.9-.8l-.9,.7l2.6,1.2l0-1.4l1.4,.3l-1.7,.9l1.1-.2l1.2,.3l.1,.4l-1.7-.7l2,.4l0,.7l.1-.3l-1.3-.6l2.1,1.6l-1.3-1.4l1.1-.1l-.6,.7l2.4,.7l-.5-.2l-.5-.8l-.2,.5l.6-.5l1,.5l-.1,.1l-.3-.7l.6,1.6l1.2,0l0-.5l.8,.8l0,1.1l-1.1-.7l2.3,.9l-2.9-2.7l4.2,3.1l-1.7-1.1l.3,.8l.2,.3l.2-.9l-.3-.3l-.5,.3l1.9,.7l.6-.5l.5,.5l0,.2l1.4,.8l0-.3l1.4,.2l-2.7,.2l1,.1l1.1,.2l.3-1l.7,1l-.1-1l1.2,1.3l-.6-.4l.1,.5l-1.2-.8l4.2,1.4l-.7-.8l.1-.5l-.2,1l-.8-.3l.7-.1l1.6,.1l-1.3-.3l.9,.6l-.2-.4l1.9,.2l-1,.5l.9,.7l2.9,1.1l-3.5-1.8l2.2,1.3l-1.9-.6l-.2,.1l.1-.5l2.8,2.2l.4-1.9l-.4,.5l-.1-.3l1.4,.7l-1.2,0l.7,1l-.1-1.4l1.4,1.1l-1.1-.5l.5,1.3l-.4-.4l2.2,.3l1.7,1l-3.7-2l1.3,.5l.5,.8l.8,.3l.9,.9l-.7-1.2l2.1,1.4l-.6-.9l.2,.1l1.1,.7l-1,.1l-.2-.7l1.4-.3l1.7,1.6l-1.1-.5l2,.4l-.8-.6l.8,1.2l-2.2-1.4l1.9,1.6l-.4-.7l.8,.2l-.7,.4l1-.8l-.8,.3l.1,.8l.9-.7l2,1l0-.4l-.4,.7l-.6-.6l1.7,.2l1.3,1l-3.5-.8l3.8,.9l.3,0l.1-.1l-.2-.4l1.8,1.6l-.3-.8l-1.3,.4l0-1.3l.1-.5l.6,1.7l2.2,.6l-.8,.6l1.1-1.2l.1,.1l-.3-.1l.5,.8l-.4-.1l-1-1.4l1.9,1.4l1.6,.5l-.3-.4l-.2,1.3l.4-1l-.1,.6l.8,.2l.1-.8l.6-.1l-.4,.9l-1.3-.5l2.1,1l.8-.3l.1,.2l-.8-1.2l2.4,.9l-1.1,.6l0,.8l1.4-.3l.2-.4l-.7,.8l2.1,0l-1.4-.6l.2-.1l.7,.5l-1-.6l.5,.6l1.6-.3l.3,.6l-1-.4l.4,0l1.8,.3l-.4,.1l1-.5l-2.2,.6l2.2-.7l-.5,1l2.3,.6l-2-1.3l1.7,.4l-1.1,.4l1,.7l1.2-.2l-1.1-.3l1.5,1.8l.9-.6l0-.6l-.9,.5l-.4-.3l.3,.5l.4-.7l3.6,1.3l-2.1-.7l.7,.9l1.2-.3l.7,1.1l-1.4-1.4l-1.3,.3l1.5,.4l1.5,.1l-.9,.2l2.1,.5l-1.1-.7l.7-.2l.8,1l1.1-.1l-.5,.3l-.1-.8l.1,.5l1.2-.5l-1.4-.1l3.3,.9l-1.8,.5l1.3-1l-.3,1l0-.1l1.5-.2l-1.6,.3l2.8,.1l.4,.1l-1.2-.2l-.3,.9l1.4-1.2l1.1,2.2l-1.2-.3l.5-.4l1.3,.7l-.5-.3l.8,.3l.9-.3l-.1-.3l-1.6,.2l.8,.3l1.2,.2l.1-.5l-1.5,.2l1.6,.1l.7,.1l.1,1.1l.8-.4l1.8-.5l-2.6,1.1l1.5-.9l-.2-.5l.6,.8l-.3,.9l-.4-1l1.6,1.1l-.6,.2l.8-.4l.1,.2l1.5,.6l.3,.2l.7-.2l-.5,.5l-.8,.3l.5-1.3l.8,1.2l1,0l-1-.8l.7,.7l.1,.7l.7,.2l-.3-.6l-1-1l1.6,2.6l.9-.6l-1.4-.5l.8,.3l.8,.4l2.4,1.3l-3.2-.8l3.7,.4l-.7-.1l-.1-.2l-.5,.3l2.4,1.7l-2.7-2l2.3,2.1l-1.1-1.7l1.6,1.8l.4-.7l-.2,.4l.8,.4l-.4-1.8l-.1,1l.1,1.2l1.4,.5l-.2-.8l-.1,1.1l-.8,.1l1.2-.1l.2-.1l1.4,1.3l.6-.3l-1.8-1.3l-.4,.6l1.1,1.1l1.5-.4l-1.2,.9l1.4-1.3l.8,2l-.6-.4l.9,.7l-1.5-1.1l.5,1.1l.4-1l-.6,1.5l1.8,.2l1.7,0l1.2-.3l-.4,.3l-.8,.7l0-.7l-.8,.2l-.1-.7l2.3,1.7l-1-1.5l2.8,1.9l-1.1-.4l0-.8l-.7,.3l1.7,.4l-1.3-.3l.9,1.1l.3-.3l-.9-.6l2,1.6l-1.9-.6l1.7,1.1l-.2-1.7l1.2,1.9l-.1-1.2l.6,.8l.3,.3l-.2,1.1l1.8-.8l.2,.3l-2.2-.7l3.1,1.1l.5,.3l-1.2,.4l-.3-1l1.7,.3l1.4,1.5l-1-1.5l.2,1.2l-3.8-1.3l3.2,1l1.7-.1l0,1l-1.4-1.5l2.9,.8l-.7-.2l.4,.3l-.2-.3l1.3,.3l.1-.7l-.7,0l1,1.3l1.6,.9l-.5-1.8l-1.8,1.8l2.1-.6l.3-.1l2.1,.1l-3.4-1.3l2.4,2l1-.5l.2-1.2l-1.2,1l.2,.1l.6,.4l-.7-.1l1.5,.2l1.3,.6l-.3,.7l-.2-1.4l1,.8l-.8-.2l1.4-.2l-.6,.6l2-.1l.5,.4l-1.6-1l1.3,.8l.9,.2l-1.1,0l.4-.9l.5,.7l.7,.2l-.9,.5l1.9-.2l-.7,.9l.9,.6l0-2l-.2-.2l.4,.9l1.7-.1l-1.7,.1l2.2-.1l-.5-.2l2.2-.3l-1,1.7l-1.6-1.2l2.6,.5l-.8,.4l.4-1.1l.6,.9l-1.4-.4l.9,.6l1.6-.3l2.7-.2l-1.9-.3l-.7-.1l.6,.1l.7,1l1-.7l.5-.3l-.2-.1l.5-.2l-1.2,1.3l-.6-.7l2.8,.3l.3-.7l.3-.6l.6,.9l-.9,.4l-.3-1.1l1.6,.8l.9-.5l-.7,.4l1-.3l-.6-.6l1.4,.7l-.7,1.2l1.5-1.7l.2,.9l-.4-.3l1-.6l-.2,1.4l.6-1.7l.2,0l1.4,.5l-1.7,.9l3.4-.3l-1.4-.2l.1-.2l0,.2l.3-.1l1.4,.4l-.6,.2l.7-.3l-.4,.2l.3,.2l.6-.5l.8,.4l-.1,.6l-1.3-.4l-.2-.4l2.7,0l-.4,.8l2.1-.1l-1.6-1.1" stroke-width="3.3" stroke-linejoin="miter" stroke-miterlimit="3" stroke-dasharray="3.05,4.6"/>
<path d="M499.8,567.4l1.2,1.2l1-1.2l-.7,.9l1.3-1l-1.5,1.4l.4,.5l1.2-.7l0-1l.4,0l-1.6,.7l1.2-.6l1.5,.7l-2,.4l1.8-1l1.5,.8l-.1,.6l-.7,0l2.3,.3l-.3-1l-.7,1.1l1.4-.9l.5-.8l-.7,.5l-.8,.8l1.3-.1l.8,.2l.6-1.1l1.4,1.3l-2.6-1.6l1.6,1.5l.2-1.3l1.3,0l1,.8l-1.8-.4l4.1-.1l-4,.1l.2-.3l.6,.1l1-.5l1.1,.9l.7-.5l.6,.3l-1.1-.3l1.3,.6l.1-1.4l1,1.5l1.3-.5l-2.4,.5l.3-.8l1.2-.4l-.9,1l1.6-.5l1.2,.6l-.1-1.1l-.9,.7l2.5,0l-1.8-.3l-.6,.1l2.1,0l.3-.2l0,1.2l.2-.7l.7-.6l-1.5,.9l4-.1l-1.4,.1l-.5-.2l.3,.2l-.2,.1l.8-.4l.1,.1l1.2-.2l0-.8l.6,1.1l.4,.5l.1-1l.5-.4l-1.4,2.2l2.7-2.1l.6,.8l-1.1-.1l0-.4l2.3,.9l-1.3-.8l1.9,.2l-2,.4l.8-.3l2.4-.2l-2.1,.3l1,0l-.4-1l.9,.7l1.7-.5l.5-.6l-.7,.3l2,.8l-.6-.6l-1.7,.4l2.5-.7l-1.7,.8l1.3,.2l1-1l-1.2,.5l2.1-.2l-.6,.5l-.3,.3l.7-1.1l.7-.1l0,.5l.9,.8l1.2-.7l.6-.7l-1.3,.1l.7,.9l1.4-1l-1.3,0l.5,1.1l.3-.1l-1.6-.2l3.3-.5l-.9,.1l.2,0l-.2,.1l1.6-.7l-.1,1.1l.8-1.1l.2,.1l-.3,.5l-.4,.1l1.5-.8l-1.8,.8l2.8-.2l.1-.2l1.5,.3l-1.4,.1l-.3-.3l.7-.3l1.4,.3l-.3,.8l1-1.7l-.5-.2l0,1.4l2.9-1.1l-3.6,.2l1.9-.4l1.7-.5l-1.2,.1l1,.6l0-.9l-.1,.9l.4,0l.6,0l.6-.6l-1.1,0l1.2,.7l0-.4l1.3-.5l-1.3,.5l.4,.2l1.3-.6l1.8-.6l-1.4,.8l2.4-.6l-.7,.1l-.1-.4l1.2-.9l-.8,1.2l-.7,.2l3.3-.8l-1.8-.4l0,.9l.9-.3l.3-.4l.3,.2l.8-.4l-.3,.2l0-.3l1.1,.6l-1.7-.6l.8-.1l.9,.8l-.8-.5l2.2-1.2l0,.5l0-.2l-.4-.1l1.5,.1l.8-.2l.1,.3l.4-.5l-.3-.5l2.6-.6l-3.1,.8l.9-.3l.5-.4l.1,.5l2.3-.5l-1.9,0l-.1-.1l0,.4l1.8-1.5l.3,.2l-.2,.6l-.4-.4l-.5,.1l2.5,.3l-.8-.3l-.2-.6l1.5,.8l-.3-.1l-.1-.2l.9-.9l1.2,.6l-.3-.6l.3-.6l1,.1l.9,.3l0-.5l-1.4,.7l1.5-.3l-.2,.3l.5-.1l.4-.7l.6-.3l-.4,.7l.4-.7l0,0l1-.1l.5-.3l-.3,.5l-.5-.3l.4,0l2-.5l-3,.3l2.8,0l-.2-.2l1.7-.6l0,.3l-.8,.1l1-.5l1.1-.5l.5,.6l-1.1,.4l2-1l-.8,.2l-.6-.2l.4-.2l.8,.1l.2,0l.7-.1l.6,.1l-2.1,.1l1.9,.2l1.2-1.3l-1.2,.5l2-.8l.4,.5l-.7,.2l.9-.1l0-.2l-.3,.5l-.1-.3l1.6-.5l-.3-.1l1.1-.2l.1,.6l-.1-.4l1.4-.1l-.9,0l.9,.3l-.7-.6l1.9-.8l-.2,.5l-.9,0l1.3-.5l.8,.1l-1.3,.8l1.1-.9l.9,.3l.4-.6l.6,.1l.6,.8l-.9-.6l1.4-.2l-.6,.2l-.9,.3l2-.6l-.6-.1l.6,0l.3-.2l-.2,.5l.4-.6l.3,.1l.6,.1l0-.2l.3,.1l.2-.5l1.8,.6l-.6-.5l-.1-.2l.5,.3l1.1-.3l-.9,.2l1.7-.5l-.6,.3l.2-.6l1.3,.4l-.8,0l1.7-.8l-.9,.6l1-.3l-.6,.1l.4-.5l1.8-.4l-.7,.6l.7,.1l.2-.9l-.3,.5l-.4,.1l1.5-.5l-1,.5l2.6,.3l-1-1l.3,.6l1.6,0l-.6-.3l.1-.6l1.4,.2l-.8,.2l.1,.1l1.4-.3l-.3-.4l.5,.4l-.2-.5l.8,.1l-.5,.2l.9,0l.1-.3l.2-.1l.9,0l-.3-.3l-.3-.2l1.1-.3l-.4,.7l1.3-.6l0-.3l1.1,.4l-1.1-.1l1.9,.4l-1.5-.5l1.3,.3l-.1-.3l1.2-.4l-1,.5l.7-.5l1-.4l.8,.2l-.7-.2l.2-.4l.6,.5l1.1,0l-.7-.2l.8-.1l.1,.4l.2,0l1-.1l0-.4l.3,.1l.4-.2l.1,.1l.5,0l-.1,0l.7-.4l.2,.3l.2,.5l.5-.8l.3,0l.4,.7l.5,0l.6,.4" stroke-width="3.4" stroke-linejoin="miter" stroke-miterlimit="3" stroke-dasharray="2.7,3.8"/>
<path d="M620.3,550.2l1.1-.3l.7,1l.9,.3l1.1-.1l.8,.5l.9,.3l.7,.5l1,.2l.7,.6l.8,.5l.8,.4l.9,.1l.8,.5l.9,.2l.7,.5l.8,.3l.8,.3l.8,.4l.9-.1l.7,.6l.8,.2l.8,.2l.7,.4l.8,.4l.7,.4l.7,.3l.8,.1l.7,.5l.9,0l.7,.4l.7,.5l.8,0l.8,.3l.8,0l.8,.4l.8,0l.7,.3l.9,.1l.6,.7l1-.4l.7,.3l.9-.1l.8-.2l.8,.5l.7,.3l.9,.2l.7,.4l1-.7l.8,0l.8,.4l.8-.3l.8,.4l.8,.4l.9,.1l.8-.3l.8,.6l.9-.2l.8,.3l.8,.7l.9-.7l.8,.4l.8,.3l.8-.2l.8,.5l.9-.2l.8,.1l.8,.4l.8-.1l.8-.3l.8,.5l.8,.1l.8,.2l.9-.6l.7,.8l.9-.9l.7,.5l.8,.3l.9-.1l.8-.1l.7,.3l.8,.1l.8,.3l.8-.2l.8,.2l.7,.4l.7,.4l.9-.1l.8,.1l.7,.4l.7,.2l.8,0l.9-.1l.7,.1l.8,.4l.6,.5l.8,.1l.8-.1l.8,.1l.8,.3l.7,.4l.8-.2l.7,.4l.8-.2l.8,.3l.7,.2l.7,.4l.8,.1l.7,.3l.7,.3l.7,.4l.8,.2l.7,.3l.7,.3l.8-.1l.7,.6l.9-.4l.6,.5l.7,.6l.7,.2l.8-.1l.7,.2l.7,.4l.8-.1l.8,.1l.7,.4l.8-.1l.7,.2l.7,.3l.8,0l.7,.4l.8-.2l.8,0l.6,.6l.8,0l.8-.1l.7,.1l.8,.1l.7-.1l.7,.4l.8,.2l.7,0l.8,.2l.7,.2l.7,0l.7,.6l.8-.2l.7,.2l.8,0l.7,.2l.8-.1l.7,.4l.7,0l.7,.4l.8,0l.7,.1l.8,0l.7,.2l.7,.2l.8,.1l.7,.3l.7-.1l.8,.1l.6,.6l.8,0l.8-.6l.7,.5l.7,.4l.7-.2l.8,.2l.7,.2l.6,.3l.7,.2l.8-.3l.7,.3l.7,.3l.7,.3l.6,.3l.7,.1l.7,.2l.7,.2l.7,0l.7,.1l.6,.7l.8-.1l.8-.3l.5,.7l.7,0l.7,.2l.6,.6l.7,.1l.6,.2l.7,.1l.7,.2l.7,.3l.6,.2l.7,.2l.7,.2l.6,.3l.7,.2l.7,.2l.7,0l.7,.1l.7,.3l.7-.2l.7,.1l.7,.1l.7,.4l.7-.2l.8,0l.7,0l.7,.4" stroke-width="3.3" stroke-dasharray="2.6,2.4"/>
<path d="M639.1,554.3l-0.6,6.7M643.6,556.6l2.5,6.3M648.9,558.4l-2.1,5.5M653.7,559.4l-0.8,5.7M684.8,563.0l0.6,5.8M689.7,562.5l-1.5,7.0M691.7,565.1l2.3,5.4M694.5,564.1l-1.8,6.7M702.9,567.3l-0.4,6.1M716.7,569.9l-1.1,7.1M757.3,577.7l1.0,6.5" stroke-width="1.3"/>
<path d="M780.4,587l.6,0l.5-.1l.5-.3l.4,.4l.4,.1l.4-.1l.3,0l.4,0l.3-.4l.3,.2l.5-.4l.1,.4l.5-.2l.2,0l.1,.1l.7-.3l.4,0l.3,.1l.2-.1l.1,.1l.4-.1l.3,.2l.6,.1l.3,0l.6,.1l-.3-.1l.5-.1l.1,.3l.6-.5l.2,.4l.5,.2l.6-.4l-.3,.4l.1-.1l.7,0l.7,0l0-.3l.7,.1l-.2,0l.3-.1l.5,.1l.3-.2l.1-.2l.2,.3l.9-.1l.2,0l.5,0l.6-.2l.3,.1l-.5-.1l.5,.1l.1,.2l1.1-.1l0,0l.3-.3l.2,.2l.4,0l-.1,.1l1,.1l-.6-.4l1.1,.1l.5,0l.2,.3l-.1-.1l.3,0l.6-.3l.3,.1l.1-.1l.6,.2l.8,0l-.2-.2l.4,0l.3,.1l.2,.2l.4,0l-.1-.5l.8,.3l.5,.1l0-.1l.4,0l0,.5l.3,0l.8-.4l.5,.2l.1,.2l0,.1l.2-.2l.8,0l-.2-.1l.6,.4l.5-.3l0-.1l.4,.3l-.2-.4l.8,.1l.3,0l.8,.1l-.4,0l.6-.3l.5,.3l.3-.1l-.2,.1l.8,.1l-.1-.4l.5,.6l.1-.2l.8,.1l-.2,0l.8,0l.8-.4l.5,.1l-.1,0l.1,.1l.8,0l-.8-.3l.9,.2l.7,.4l.1-.2l-.2,.1l.6-.3l.5,0l.4,.1l.1,.3l.3-.6l.4,.3l.1,.1l.6-.2l.4,.2l.1,.2l.2-.1l.2-.1l.8,.3l.5,.2l-.3-.2l.5,0l.4-.1l0,.1l.5-.1l.3-.1l.6,.2l.2-.2l.6,.2l-.3-.2l1.5,0l-.5-.3l.4,.1l.3,0l0,.1l.6,0l.8-.4l.1,.3l.2,0l.3,0l.8,.1l-.2-.1l.2,.1l.5-.3l.3,.4l.1-.2l1,.1l-.1,0l-.4-.1l.9-.1l.1,.2l.5,0l.3,.1l.3,.1l.7-.1l.5,.4l-.1-.4l.2-.3l.3,.2l.4,0l-.1,.4l.9,.3l.2-.5l.3-.2l0,.6l.7-.2l0,0l.6-.1l.7,.4l-.3-.2l.7,0l.9,.3l-.2-.1l.5,.1l.1-.2l.2,.1l0,0l.5-.2l.4,.3l.4,.2l.6-.3l0,.1l0-.2l1,.2l0-.2l.5,.3l-.5-.5l.4,0l.6,.3l.5-.3l.4-.1l.3,.2l.3-.3l.6,0l.2,.1l.3,.2l.4-.4l0-.1l.2,0l.8-.1l.4,0l0,.1l.2-.2l.4,.3l.6,0l0-.1l.2,0l1.1-.1l-.3,.1l.7-.2l.1,.3l.1,0l0-.1l.6-.2l.3,.2l.1,0l.6,.1l.7,0l-.5,0l.8-.3l.2-.2l.3,.5l.9,0l0-.2l.1,.1l.1,.2l.5-.3l.3,.2l.5,.2l.5,0l.5-.2l-.1-.1l.1,.5l.1-.2l.7,.2l.8-.4l-.5,.3l.8-.5l.1,0l.5,.1l.1,.2l.4-.1l.5,.3l.2-.3l.7-.1l.3,.5l0-.3l.2,0l.3-.2l.3,0l.8-.2l-.5,.6l.9-.1l.4-.3l.3,.1l.4-.1l0,.4l.5-.1l.2-.1l.9,.2l-.5-.3l.8,.1l.1,0l.7,.3l-.2-.2l.9-.3l-.1,.2l.3,.1l.5,0l-.8,.1l1-.1l.6-.1l.3,.4l-.1-.1l.5-.2l.6,.1l.5,0l-.2,0l1.5-.2l-.4,.1l0,.3l.5,0l.1-.3l.6,.2l.2-.2l0,.1l.9,.1l.3,.1l.4,.1l.2-.1l.5-.2l.4,.2l0-.3l.3,.2l.2,.1l.8,.1l-.2-.1l1.1-.2l-.8,.1l.7,0l.5,.1l.4-.2l.1,.2l.6-.4l.4,.3l.4-.2l-.3,.4l0-.1l.7,0l.5,.1l.4,.1l0-.2l.6,.5l.1-.1l.1-.2l.8,.1l.2,0l.6-.1l.7,.1l-.6,.1l.4-.1l1,0l-.1-.1l.2-.2l.9,.3l0,.1l-.1-.3l.3-.2l.9,0l-.2,.2l.2,.1l.9-.1l-.2,.1l.3-.6l.2,.3l.8,.1l.5-.2l.3-.1l.3,.5l.2-.1l.1,.1l1.1-.3l.3,0l-.3,.1l.2,0l.3,0l.1,0l1-.2l-.1,.4l.4-.1l0,.1l.6-.4l0,.1l.5,.2l.4-.1l.1,0l.2-.1l.7,0l.4,0l.2,.4l.8-.3l.3,.3l.1-.1l.4-.1l.5,0l-.1,.4l.5-.3l.2-.1l.2,.3l.5-.1l0,.3l.9,0l-.1,.1l.7-.5l-.3,.4l.6,0l.4,.1l.1-.2l.5,.1l.3,.2l.4-.3l.4,.3l-.5-.3l.8,.5l.4-.4l.2-.3l.4,.2l.5,.2l.4-.1l.1-.1l0,.4l.4-.1l.7,.3l.4,0l.5,0l0-.1l.6,.1l0,.3l0-.2l.6,.2l0,0l1,.2l.1-.1l0,.3l.8-.4l.3,.1l-.2-.2l.6,.4l.3,0l.7,0l0,0l.1,.1l.7,0l.3,0l.3,.2l0-.1l.4,.3l-.1-.4l.6,.3l.6,.2l0,.1l.4,.1l.4-.1l.4,.1l.1,.3l.2-.2l.7,.3l-.1,.2l.5-.2l.3,.3l.2,.3l.5-.1l.4,.2l.4,.3l.5,.2" stroke-width="3.3" stroke-dasharray="3.4,2.4"/>
<path d="M783.2,583.5l-2.4,5.2M786.7,583.9l1.6,5.5M814.9,583.1l-1.8,7.0M824.9,584.8l2.1,5.3M830.9,583.8l-1.0,5.8M870.0,584.2l0.7,6.3M879.4,583.1l2.4,7.0M883.8,584.5l0.7,6.8" stroke-width="1.3"/>
<path d="M924.9,591.5l.9-.1l.7,.3l.7,.5l.7,.1l.7,.5l.8-.1l.8,.3l.7,.2l.9-.2l.7,.2l.8-.1l.8,.2l.8-.3l.8,.2l.7,0l.8-.1l.8-.2l.8,.2l.8,.1l.8-.3l.8,.3l.8-.1l.8,.3l.7,0l.8-.1l.8-.2l.8,.2l.8-.1l.8,.4l.8-.1l.7,0l.8-.1l.8,.1l.8-.1l.8,.2l.7,.1l.8,0l.8,0l.7,.2l.8,0l.8-.2l.7,.2l.8-.2l.7,.3l.8-.1l.8,0l.7,.1l.8,0l.7-.1l.8-.1l.7,0l.8,.4l.7-.1l.8,0l.7,.2l.8-.4l.7,.3l.8,.2l.7-.2l.8,.2l.7,.1l.7,0l.8,.3l.7,.2l.7,.3l.8-.3l.7,0l.7,.3l.7,.1l.8,.1l.7,.2l.7-.3l.7,.6l.8-.1l.7,0l.7-.1l.7,.3l.7,0l.8,.1l.7,0l.7-.2l.7,.1l.7,.3l.8-.2l.7-.1l.7,.2l.7-.1l.7,0l.8-.2l.6,.3l.8-.2l.7,.2l.6,.3l.7-.1l.8,.1l.6,.3l.7-.1l.7,.1l.7,.1l.7-.2l.7,.5l.7-.2l.7,0l.7,.4l.7,0l.7,0l.7,0l.6,.2l.7,.1l.7,0l.6,.4l.7,0l.7-.2l.7,.1l.7,.1l.7,0l.6,.3l.7,.1l.7,.1l.7,0l.7-.1l.6,.4l.7,0l.1,0" stroke-width="3.3" stroke-dasharray="3.3,3.6"/>
<path d="M935.2,590.4l-2.2,6.2M952.5,591.5l0.8,5.2M967.5,591.6l-1.9,6.1M979.1,592.1l-1.4,6.4" stroke-width="1.3"/>
</g>
<text transform="translate(820.3,275.8) scale(1,1.035)" text-anchor="end">TN</text>
<g stroke="#009494" stroke-width="3.3" fill="none" stroke-linejoin="bevel">
<path d="M846.06,262.0H967.9" stroke-dasharray="18.30,6.10,3.05,6.10"/>
<path d="M250,585l.2,.8l.8-.9l.1,.5l.5-.2l1.1-.8l.8-.1l.5-.2l-.6,.2l-.7-.1l.6,.4l.9-.3l-.3,.1l2-1.5l-1.5,.5l1.5,0l-.3-.4l-.1,1.1l1.1-1.7l-.5,.2l.5-.2l-.1-.6l-.1,.2l.9-2.3l-1,2.9l.3-1.7l.3-1.1l-.5,1.1l.2-.8l.2,.3l0-.3l-.2,.3l.5-1.2l.1-.1l-.2,.6l-.2,1l.3-2.4l-.1,.7l.5-1.7l.1,.3l-.2,.2l.2-1l-.1,1.3l.1-1.1l.1-1l-.3,1.7l.4-2.1l.1,.8l0-1.6l.1-1.4l0,1l0-.2l-.1,.5l-.1-.4l.2-1.5l0-.7l.1,.3l-.1,1.6l.3-2.2l-.2-1l.1,.1l.2-.8l0-.3l-.1,1.7l0-.9l0-.5l0-1.6l.1,.3l-.1,.5l.2-1.2l-.1-.4l.2-.4l.2-.2l-.2-.5l.2-1l0-1.3l-.1,.7l-.2,.8l.2-1.2l.1,.9l.1-1.4l0-.7l-.2,1.2l.1,.2l0-.9l0-.5l.1-.9l.1-2.2l-.2,1.8l.2-2.4l.1,1.3l0-1.1l.1-.9l-.1,1.4l.1-1.2l-.1,0l0,1.5l.1-2.9l0,.3l.2-2.4l-.2,2l.2-1.1l.2-1.1l-.2,.2l.3-2.2l-.3,2.8l.2-1l0-1.5l-.2,1.6l.1-.3l.2-1.8l0-.5l.1-1l.1,.3l-.2,.8l0-.3l.3-.1l-.3-.3l.1,0l0,.2l.1-1.4l-.1-.1l.2-1.5l0,.2l0-.3l.2-1.3l-.1,1.3l0-1.6l0,1.3l0-.3l0-.4l.3-2.3l0,1.8l-.2-.8l.1-.1l.3-1.9l-.4,3.4l.1-2.6l.1-.7l.1-1.2l.2-.8l0,.5l-.3,1.3l.2-1.8l.2-.4l.1-1.9l-.3,1.9l.1-1.5l-.1,.3l.2,.3l-.1-1.7l0,.1l-.1,.9l.1-.4l.1-.5l.2-.3l-.1-.7l-.1-.1l.2-2.1l-.1,.9l.1,.4l0-1.4l.1,.1l0,.3l0,.1l0,.3l.3-2.9l-.1,.6l0-.1l.1-1.2l-.1,.9l.1-.1l.2-1.9l.2,.2l-.3-.6l.1,1.1l-.1,1l.1-1.9l0-.3l.3-1.7l.2-1.6l-.4,2.9l.1-.2l.3-2.3l-.2,.7l.2-1.2l-.2,1.8l0-1.2l.2-.9l-.1,.3l.1-.6l0-.5l.3-1.6l.1,.1l-.3,1.4l.4-2.6l0,.6l-.2-.4l.2-1.3l.1-1l0,1.1l-.1-.7l.1-.9l-.1,.2l0,.1l.4-2.2l0,.2l-.2,.4l.1-.6l.2-1.3l0,.2l-.1,.2l.1-1.6l.2,.2l.1-1l-.3,1.6l.2-2.3l0-1l.3-.3l-.1,1.3l.1-2.1l0,.9l-.2,.3l0-.5l.4-1.3l-.2,.7l.2-1.2l0-.4l-.1,.7l.2-.7l.1-.1l0-1l.1,1.3l.3-2.3l.5,.3l.2-.2l-.4,.4l.2,.3l-.2-.2l-.3,.3l.4-.4l1.2,.5l-1.3-.5l.5,.2l.7,1.1l-.5-.8l0,.2l.6,.3l-.4,.6l1.3,1.8l-.1-.5l-.5-1.5l.6,1.1l-.7-.6l.3,.2l.6,1.2l-.2-.8l-.3-1l1.5,4.1l-1.6-3l1.2,2l.7,1.6l.4,.1l-.9-.1l.8,0l-.5-.2l0,.6l.5,.6l.5,.7l.3,.1l.4,.4l-.4,.1l-.4-.5l1.3,1.6l-.8-.8l.3,.2l-.3,.2l1.5,1.7l-.2,1l-.5-1.3l.1,1.4l1.2,1.2l-.7-1.5l.1,.8l.2-.4l.4,1.1l-.2-.7l.6,2.5l.9,.4l-.7-.8l-.5-.9l1.4,1.6l.7,1.4l-.6-1.2l.3,.6l-.1,.3l.7,.4l-.3-.2l.5,.5l.3,.4l0,0l-1,.3l.3,.1l2.2,.2l-1.3-1.3l.7,1l-.1,0l-1.5,.9l1.7-.4l-1,.1l.5,.4l.3-1.7l-.1,.8l.8-1.1l-.1,1l.3-1.1l-1.5,.9l.8,.2l.9-.8l.1-.8l.4,.1l.9-1.9l-.3,.2l-.4,.6l.9-.1l.2-.6l-.6-.1l0-.2l.9-.5l-.3,.2l.7-1.2l1.1-1.7l0,.1l-.4,.2l.3-.7l-1,1.3l1-.7l.2-.9l.1-.3l.4-.3l.6-1l-.9,1.7l1.4-2.2l.1-.4l-.2,1l.5-.6l0,.1l1-1.2l-.8,1.1l.9-.9l.3-.3l-.3,.2l.2-.4l1.4-1l-.8,1.5l1.2-.6l-.6-.4l-.1,.1l1.1,0l-.6-1l.8-.4l0-.8l1,.3l-.8,.6l.1,.1l1-1.2l.6,0l-2.1,.3l2-.7l.7-.4l.5-1.1l-.8,1.4l.3-.2l.8-.5l1.8-.9l-1-.2l.2,.1l.4,.4l-.3,0l.3-.7l-.2,.1l.7-1.2l0,1.1l.1-.7l1.3-1.1l-.3,1.3l.6-.9l.4-1.3l-.7,1.4l-.3-.1l2.1-1.6l-1.6,.8l.9,.2l1.1-2.1l-1.1,1.5l1.7-1.1l-.4,.3l.5,0l-.7,.3l1.3-1.6l-.2,0l-.3,.6l1.6-.8l-1,.3l.8-.6l.7-.8l.7,.2l-1.7,.3l.9,0l.3,0l.3-.6l-.1,.1l1.4-1l.9-1.3l-.8,.5l.4,.4l0-.6l.6-.1l-.5,.1l1.1-1.2l-.3,0l-.1,.3l.4-.4l-.1,.2l.5-.8l.4-1.4l.2,.9l.4-.2l.7-.4l-.6,.6l.3-1.9l1,.6l.1,.9l.1-.5l.5-.3l-.4,.3l-.1-.1l.6-.8l.5,1.2l-.4-.6l.6,0l1.4-1.1l-.5,1l-.6-.6l.5,.4l1.3,.1l-.6,.3l0,.9l.7-1.3l.3,.4l-.3,.3l.6,0l.4-.5l-.4,.5l2.4,.6l-1.3-.8l1.2,.3l.7,.5l-.1,.4l-.3-.1l2-.6l-.4-.4l1.5,.4l-.8,.3l-1.2,0l2.2,0l.4,.1l-.9-.4l1,.6l1.5,.1l.2-.3l-.6,0l.2,.3l.7-.8l.7,1.2l-.9,.7l1.4-.7l-.5-.3l.1,.7l.7-.4l.1,.3l-.2-.6l1,.4l.3,.2l-.3-1.3l1.5,1.6l0-.2l.1-.1l1.4,.6l-1.5-.6l1,.7l-.1-.3l.1,.2l-.1,.3l1.6,.7l-1.1-1.3l.2,1l.3,.6l.8-1.3l.4,1.4l.7,.1l1,.1l.1-.1l-.8,.6l.8-.3l-.4,.4l.8,.8l-.8-.5l.5-.1l1.4,1.4l.8,0l.8,.1l-1.2-.5l.7,.1l-.1,.8l.7-.2l0,.6l.5-.3l-.8-.1l2.1,.7l-1.4-.1l1.2-.1l-.7,.5l1.1-.5l.1,.9l.8,.1l0-.4l.3-.2l.7,.4l-.5-.9l.4,.8l.7,.4l.7,.7l-.2-1.1l.8,.4l-1.4-.7l1.4,1.4l.5,.1l-.2-1.6l.8,1.4l.4,.3l-.2,.1l.6-.5l.5,.6l-1-.3l.8,.2l2.1-.5l-1.1,1.2l1.2-.1l-1.8-.2l1.7,.7l-.3,.1l.8-.2l0-.2l1.1,.7l-.6,.8l.9-1.3l.9,.3l-.4-.4l.5,1.4l1.5-.9l-1.4,.6l-.2-.2l1.2,.6l.7,.2l-1-.4l.6,.9l.2-.9l1.1,1.4l-.5,.2l-.1-1.1l.9,.4l-.1,.1l1.6,1.6l-.2-1l.5,.2l-.1-.1l2.1,.6l-1.3-1.1l1.9,1.4l-2,.4l.2-1l.9,1.3l1-.9l-.1,.7l-.4-.6l.2,1.1l1.1-.5l-.4,0l1.2,.5l-.4,.7l.1-.4l.9-.2l-.1,.7l-.1-.6l1,1l.9,.3l.6-.5l-.6-.2l.1,.2l-.5,0l.1-.3l1.4,.1l-.2,1.3l.5-.3l.1,.2l1.5-.1l-.3,1.3l-.3-1.5l1.1,.7l-.3,.6l1.7,.3l-1.1-1.1l1.5,1.2l-.7-.8l.5-.2l-.2,1.2l.6-1.5l.7,.9l-.6,.9l.9-.2l-.1-.2l1,1.1l.4-1.1l-.4,1.8l-.5-1.2l2.7,1.5l-.4-1l-.4,.1l.4,.6l-1.2-.2l2-.4l-1,1.6l1.8-.9l-.1-.2l-1.1,.7l1,0l1.1,1.1l1.5-1.4l-.8,.4l.2,.2l-.1-.1l.4,.5l-.3,.3l.8,.1l1.1,.5l.6-1l-.9,.2l1.4,.1l-.8,.8l-.1-1.1l1.7,.1l.3,.3l-.7,0l.8,.3l-.3-.5l1.3,1.9l-.1-1.3l.6,.3l-.5,.2l.8-.1l-.7,.9l2,0l-1.5-1.1l1.5,.9l.3-.7l.5,1l.4,.2l.9-.3l-.6,0l-.9,0l2.7-.1l-.5-1l-.2,.7l1,.2l-.3,.8l.6-.6l.2,.8l-.2-1l-.3,.9l.1-.3l1.6-.3l-.5,.3l.6,.4l.9-.3l-.3,1.1l1.5-.4l.3,.3l0-.8l.1,.6l-.2-.8l.8,1.5l.2,1l0-1.5l.4,.3l1.3,.1l-2.1,0l3.6-.5l-1.4-.6l.4,1.8l1.1-.7l.6-.7l-1.3,.6l1.6-.1l-.3,1.3l.2-1.1l-.5,.6l1.3,.2l-.2-.2l.3-.2l1.2,.4l.1,.2l-.1,.3l.3,.4l.6,.1l-.2-.2l.7-.1l.4-.3l.6,.2l-.1-.3l.5,1.4l-1.2-1.7l1.1,.2l1.2,.5l.5,.2l-1.5,.3l.7-1l.7,.8l-.3,.1l1.6,0l-.3-.9l1,1.3l.3-.6l-.4-.2l.1-.3l1.2,.6l.4,.6l-.1,0l-.3,.2l2.2,.3l-.6-1l.5,.3l-.6,0l1-.1l.4,.5l-.8,0l1.3-1.1l.1,1l-.8-.5l2.6,.7l-.8,.1l.3,0l1.1,.5l-.4-.3l.8-.2l-1,.6l2.6,.4l-1.4-.9l.3,.5l.3,.3l.4,.2l.1-.1l-.5-.2l.4,1.2l2.3-1l.4,0l-.4,.4l-.7-.4l.7,1.1l.5,0l-.6-1.5l.9,.8l.8,.6l1.2,.1l-1-.2l.8,.3l.6-.4l-.2,.4l.8,.3l-.7-.2l1.1-.2l-.1-1l1.4,.4l-.6,.6l1.2-.5l-1.2-.3l.1,.4l2.6,1.5l.1-.6l-.1-.9l.4-.1l.2-.2l-.6,.6l.1,.8l.7-.9l0-.7l.6,.1l0,.5l.2-.4l-.8,.6l2.3,0l.1,0l-.5,.9l1.8-.9l.4,1.7l-.7-1.1l.4-.7l1.1,.6l.1,0l-.2-.4l.4,.7l.5-1.3l.5,1.3l.9-.2l-.2-.3l.2,.4l.3-.1l.7-.5l.3,1.1l.3-.7l-1.1,.2l1.8,0l-.8,0l1.4-.4l-.1,1l.4-.3l1.5,.2l-1.5-.5l.5,.5l1-.6l0,.3l-.7-.6l.8-.2l.8,.6l-.1-1.3l.4,1.1l.9-1l-.3,.4l.5-.2l.8-.4l-.2,.6l-.2-.8l2-.9l.2,.1l-.4,.8l.1-.6l1.1,.1l.2-.4l.5,.2l-.9-.7l.5,.7l-.2-.9l.6,.1l-.1,1.1l1.9-1.6l-.8,.9l.8-.1l.4-.9l-.6,.2l-.8-.4l1.4,0l.3,.7l-.1,0l1.1-1.2l-1.3,.3l1.8-.6l-.2,.3l.1,1l.9-2.3l-.7,1.5l1.2-1.4l.6,.9l-1.7-1.3l1,.3l-.1-.2l.7-.5l1.2-.5l0-.2l-.5,.7l.4-1.1l1.3-1.4l-1,1.2l.1-.7l.5,1l.3-1.3l.2,.1l.6-.6l.1-1l-.2,1.3l1.2-1.9l-.7,.6l1-1.4l.2,.6l-.8-.5l.5,.1l.9-.7l.4,.3l-.6,.2l1-.7l-1.3,.5l.8-.8l.5-.5l.6,0l-1-.5l1.2-.2l.2-.2l.7-.1l-1.5,.6l1.5-1.2l-.9,1.2l1.3-2l.5,1.1l.2-1.1l.1,.1l.3-.8l-.7,1.2l.8-.5l0-1.3l1.1-.9l-.5,0l.6-.1l.1-.4l-.3,.7l.5,.1l-.3-.8l.6-.1l1.2-1l-.2,0l-.8,.8l1.8-1.7l-1,.8l1.1-.9l-.8,0l1.5-.1l-.7-1l0,1l.9-.7l.1-.3l-.3-.3l1.3-.4l-1.2,1.4l.6-2.4l.4,.6l.1,.1l-.1-.8l.9-1.2l-.7,.9l.6-1l-.4-.1l-.1,.5l1.2-2.1l.2,.9l-.6,.4l.8-.7l.1-.1l.5-1.1l.1-1.1l1.1,.4l-.7,0l.4,.5l-.3-.4l.3-.9l.3-.3l-.5,1l.5-.3l.3,0l1.7-2.3l-1.4,.6l-.5,.7l.3,.3l.9-1.3l-.3-.4l1.3-.3l-.2-.1l-.3-.4l0,.2l.7-.9l-.4,.6l.8-1.7l.4-.1l-.4-.4l1.1-.4l-1.3,1.3l.5-.9l-.6,.8l1.3-1.5l-.1-.7l-.7,.4l.5,.6l.1-1.4l.8-.1l.5-1.1l-.3,1.1l-.1-.6l.1-.2l.4-.8l.5,.9l.1-2.6l-.4,1.3l1.3-.9l-.3-1.2l-1,.9l.4,.8l1.2-2.2l.4-.5l-.3,.1l.4-.1l.1-.2l.4-.3l-1,.6l.4-.5l.7-1.7l-.6,1.2l.7-1.2l-.3,1l1.2-1.1l-.6-.7l.5-.2l.3-.5l-.2,1.4l1.1-1.4l-1,.2l.9-1l-.5,.3l.4-.2l.4-.9l-.4,.1l.1,.6l1.1-1.7l.2-.8l.2,.4l.5,.2l-.4-1.1l.4,.9l-.3-1.3l.2,.9l1.1-1.8l-1.2,.9l-.1,.1l.9-.6l.4-1.3l.1,.7l0,.2l.6-1.3l.8-.6l-1.8,2.4l1.8-3.3l-.4,1.2l.3-.7l-.4,.3l0-.8l1.3-.6l-1.1,.6l1.4-1.5l-.5,.8l.3-.2l-.8,.3l1.6-2l-.1,.4l-.4,.2l.6-.3l.5-1.3l.8,.1l.2-.7l-.8,1l0,0l1-1.3l.4-.7l-.4,.9l-.3-.3l.7-.5l.7-1.3l-1.4,1.9l.6-.7l1.9-1.9l-1.1,1.3l.5-1.1l.9-.1l-.3-.2l-.1-.2l1-.4l-1.2,.2l1.1-.5l.3-1l.4,.6l-.3,0l.8-.8l-1.3,0l2-.7l.2-.7l-.2,.8l-.4-.4l.4-.3l.2-.5l-.5,.5l.1,.1l1-1l-.4,.2l.5-.9l1,.1l.3-1l-.4-.5l.7,.2l.8-.9l-.2-.2l-.7,.5l1.1-.4l-.8-.6l-.4,.3l.7-.6l1.2-.1l-1.7,.2l.3,.4l1-1.1l.1,.1l1.2-.7l-.3,.3l.6-.8l-.8-.2l1.4,0l-.5,.3l1.2-1.1l-.6,.5l.4,.4l.5-1.2l-1.2,1.2l2.5-2l-.4,.4l.2,.2l-.1-.2l-.1-.2l.2-1.2l.5,.1l-.4,.7l1.6-.6l.5-.6l-.3-.8l-.4,.3l.8,1.2l-.3-2l1.5,.5l-.3,.1l-.2-.7l.4-.2l-.1,0l1.3-.7l-.6,.7l.8-.6l-.6,.3l2-1.8l-.4,1.2l-.3-.5l1.4,.3l-.3-1.3l-.1,1.1l-.4-.9l1.6-.5l-.7,.1l1-.8l.8-.2l-.4,1.5l0-1.4l-.5,.2l.8-.1l1-.3l-.7,.6l.1-1.1l.7-.4l0,.3l1-.2l-.2-.2l-.5,0l.2-1.3l2.2-.3l-.7,1.3l-.6-.9l.8-.2l.3,.4l-.6-.3l1.7-.2l.1-.4l-.3-.4l.2,.1l1.6,.2l-.2-1.1l-.7,.3l.7-1.5l.9,.1l-.3,.3l.2-.4l-1,.7l.6-.4l.7-.9l.1,.9l.9-1.8l.6,.7l-.8,0l-.4,.1l1.6-.6l-1,.1l2.8-.9l-.7,.5l.4-1l1.2-.1l-1.5,1.4l1.6,.3l.9-1.3l-1.8-.8l.7,1.1l-.2-.6l1.4-1.1l.6,.9l-.7,.1l.8-.5l-.2-.3l.6-.8l0,.5l1.2-.1l.1-.8l.7,.2l-1.4,.2l.7-.2l.3,.6l-.7-.7l2.6-.7l-.1,.6l0,.1l1.2-1.4l-.8,.8l.2,.5l.7-.7l.5-.6l.5,.7l-1.3-.2l.6-.1l1.4-.9l-.6,.9l.7-.2l-.1,.1l1-.2l.3,.1l-.4-1l1.3,1l.5,0l-.8-.7l.4,0l-.1-.2l.9,.5l.3-.9l1.4,1.1l-.7-.6l1.1-.6l.2-.1l.4,1.1l-.6-.9l.8,.2l-.5-.6l1,1.3l-.9-1.2l1.7-.1l.2-1.1l.8,.8l0,.2l-.2,.5l.3-.7l.8-.3l-.9,.8l1.4,.1l0-.6l1-.4l.3,0l.1-.1l-.7-.2l.6,.6l1.2-.2l.1,.8l-1.2-1l3,.2l-1.5-.4l.2,.2l.7-.1l-.5,1.4l1.4,.3l.6-.6l-.8-.6l1.3,.1l0-.5l.5,.4l-.5-.7l.7,0l-.2,1.2l1.4-.8l.2,.4l.4,.6l1.2-.5l0,.4l-.6-1.5l0,1.1l1.8,.1l-1.5-.3l.5-.1l2.4-.3l-1.4-.6l.7,.5l0,.4l-.3,.3l.8,.3l1.3-.6l.2,.1l-1.4-.4l1.7,.4l1.4-.9l-1.6,1l1,.3l.8-.7l.1,.6l.3-.4l.4,.4l-.9-1.1l.9,1l.5,0l.7,.3l-.7-.4l1.9,.1l.7-.3l-.2-.7l-.3,1l.2-.9l.2,.9l.3,.2l1.6-1.2l-.7,.6l.8,0l-.5,.4l1.2-.5l.3,1.1l-.5-1.3l.7,1.3l1.1-.9l-.8,.2l.6-.6l1.1,.4l-.2,.6l.3-.4l.3-.3l.3,.1l0,1.2l1.1-1.9l-.5-.1l1,1.3l.3-.1l-.3-.7l.8,.1l.5-.8l-.9,.3l2.4,.2l.2,.8l.2-.8l-.5,.8l.1,.5l0-.3l0-1.2l1.7,.5l-.2,.4l-.2-1.1l1.1,.9l-1.6-.9l1.6,1l.4-.2l.6-.2l.2,.2l.6-.5l.1,1l.1-.2l.3,.1l.3-.2l.1-.8l.3-.5l1.6,1.4l-1.3-1l1.3,.6l.2-1.3l.7,1.6l.2-1.4l-.7,.3l.4,.2l0,0l2.4-.6l-1.4,1.5l.6-1l.3,.2l.6,.2l-.3-.6l.7-.7l.2,.4l.6,1.2l.6-.9l1.3,0l-1.2-.5l-.2,1l.1-1.2l1.2,.1l-.3,1.2l0-.8l1.9-.3l-.8,1l.3-.6l1.4,.2l1-.4l-.7,.8l-.7-.8l2.5,.7l-1.2-.6l.1-.7l1.5,1.4l-.1-.6l-.4,1.7l.8-.3l.5-.9l0-.1l.8-.2l-.4,.1l.6,.5l.4-1.2l-.4-.3l.2,.4l1.9,1.2l-.7-.5l1.1-.1l.8,.5l-.9,.3l-.3-.5l1.3-.7l-.2,.4l2.3,.8l-1.3-.8l.3,.6l.1-.3l.7-.1l.3-1.2l-.7,1.1l1.3-.1l-1.1-.5l.7,.9l.8-1.1l-.3,.9l1.4-.1l1.6-.8l.6,.8l-1.5,.4l0-.8l1.2,1.3l1.3-1.3l-1.2-.7l0,1.4l-.4-.5l2.8-.1l.5,.2l-1.1-1l1,.4l.1,.6l-.5,.2l.7-.8l.5,.4l0-.3l1.2-.8l1.1,.2l-.7,.5l1.2-.1l-.3-.4l-.2,1.1l-.3,.1l1.3,.5l-1.3-.5l1.2-.3l.6,.4l-.9,.3l1-.1l-.2-.5l1.4,.6l.9,.2l-1.1-.4l.9,.8l1.1-.9l-1,.3l1.3,.2l-.4-.3l1,1.1l.3-1.7l-.1,.9l-.5,.3l.9-.5l.4,1.3l2.2-.7l-.6-.7l-.4,.2l1.1,0l.6-.7l.6,.2" stroke-width="3.3" stroke-linejoin="miter" stroke-miterlimit="3" stroke-dasharray="14.6,4.9,2.4,4.9"/>
<path d="M601.4,441l-.5,.7l.7,.1l.4-.5l-1.1,.2l.4-.2l.3,.3l.9-.5l-.3,.1l1.4,.9l-.1-1.4l-.5,.7l.6,.1l.3,.2l.6,.2l.2-.3l.7,.4l.2-.7l.4,1.2l.4-.1l.1-.1l.3-.1l.3,.7l.4-.7l.4-.1l.2,1l.6-1.6l.2,1.3l.6-1.3l.3,1.5l.5-.5l.5,.1l.6-.3l.4,1.2l.5,.2l.5-.4l.5-.4l.5,1l.5-.7l.5,0l.5,.2l.6-.9l.4,.8l.5,0l.4,.5l.5-.1l.5-.3l.4,.6l.5-.4l.6-.4l.5-.8l.4,.7l.5,0l.5-.6l.3,1.5l.5,.2l.5-.5l.4-.2l.5-.4l.4,.8l.4,.9l.5-1.2l.4,.5l.5,.4l.4,.1l.5-.7l.4,0l.4,.2l.5-.6l.4,.8l.4,0l.5-.2l.3,.7l.5-.3l.4-.3l.4,.1l.4,.4l.5-.5l.3,.7l.5-.1l.4-1l.4,.5l.4,.6l.4-.4l.4,.1l.4,.4l.4-.5l.3,.8l.5-.9l.4,.1l.4,.2l.3,.3l.4,.3l.4,0l.4,0l.4-.7l.4,.3l.4-.5l.3,.3l.4-.1l.3,.9l.4-.6l.4,.3l.4-.4l.3,.2l.4,.1l.3,0l.4-.1l.3,.4l.4,.1l.4-.1l.3,.2l.4-.2l.3,.1l.4-.4l.3,.1l.3,.6l.4-.4l.3,.2l.4,0l.3,.1l.4-.1l.3,.2l.3,.5l.3-.4l.4-.4l.2,.9l.4,.1l.4-1l.2,.7l.4-.1l.4-.4l.3,.1l.1,1l.5-.8l.4-.1l.3,.2l.2-.6l.4,.4l.2,.2l.6-.2l.1,.5l.2,0l.6-.9l.1,.7l.4,.2l.2-.1l.5,.6l.2-.6l.4-.2l.3,.1l.2,.8l.4-.3l.4-.4l.2,.6l.3,.1l.4,0l.3,.3l.3-.1" stroke-width="3.7" stroke-dasharray="12,2.5,2.5,2.5"/>
<path d="M660.2,447.2l.4,.1l.3-.2l.4,0l.3,.1l.4,.4l.3-.1l.4,.1l.4-.2l.4-.1l.4,.1l.4,.6l.4-.6l.4,.2l.5-.2l.4,.5l.4-.4l.4,.4l.5-.2l.4,.4l.4-.2l.5,.1l.4,.1l.4,.3l.5-.8l.4,.7l.4,0l.5-.2l.4,.5l.4,.3l.4-.3l.5-.2l.4,.3l.5-.8l.4,.5l.4,.3l.4,0l.5-.3l.4,.3l.4,.6l.5-.4l.4-.2l.5,0l.4-.3l.4-.1l.5,.2l.4-.1l.4,.5l.5-.2l.4-.1l.4,.3l.5-.4l.4-.1l.4,.4l.5-.2l.4-.2l.5,.1l.4,0l.4,.4l.4-.2l.5,.3l.4-.2l.4,.3l.5-.1l.4-.3l.5,0l.4,.2l.4,.4l.4-.1l.5-.2l.4,.1l.5-.5l.4,.8l.4,.4l.4-.4l.4,.2l.5,.2l.4-.3l.4,.2l.4,.4l.4,.4l.5-.2l.5-.3l.4,.3l.4-.4l.5-.1l.3,.9l.4,.1l.5-.2l.4-.1l.4,.3l.5,0l.4,.2l.5-.4l.3,.9l.4,.1l.5,0l.5-.5l.4,.2l.4,0l.5-.1l.3,.4l.5-.2l.5-.1l.4,0l.4,.2l.4,.1l.5,0l.4,.2l.5-.2l.4,.1l.5-.3l.4-.1l.4,.1l.4,.2l.5,0l.4,0l.4,0l.5-.1l.4,.9l.5-.9l.4,.6l.4-.5l.4,.2l.5,.1l.4-.2l.5,0l.4,.2l.4,.1l.4,.7l.5-.4l.4,0l.5-.1l.4-.3l.4,.2l.5-.1l.4,.1l.4-.2l.5-.3l.4,.2l.4,.3l.5-.2l.4-.3l.5-.1l.4,.4l.4-.3l.5,.1l.4,.2l.4-.5l.5,.1l.4,.4l.5-.5l.4,0l.4,0l.5,.3l.4-.1l.4,.4l.5-.2l.4-.1l.5,0l.4,.2l.4,0l.5-.4l.4,.7l.4-.3l.5,.1l.4-.4l.5,.6l.4,.1l.4-.4l.5-.1l.4,.3l.5-.1l.4-.2l.4,.1l.5-.1l.4,.4l.4-.2l.5-.2l.4-.2l.5-.2l.4,.3l.4-.4l.5,.5l.4,.3l.4-.5l.5,.1l.4,0l.5,.1l.4,.2l.4-.3l.5-.2l.4,.8l.5-.6l.4-.4l.4,.5l.5-.5l.4,.3l.5-.1l.4-.3l.4,.5l.5,.4l.4-.2l.4,.1l.5-.4l.4,.1l.5,.3l.4,.3l.4,.3l.5-.6l.4,.3l.4,.4l.5-.6l.4,.4l.5-.2l.4-.2l.4,.8l.5-.5l.5-.4l.3,.7l.5-.4l.5-.1l.4,.5l.4,.3l.5-.6l.4-.1l.4,.2l.5,.1l.4,.1l.4,.2l.5-.4l.4,.2l.4,.6l.5-.5l.4,0l.5,.1l.4,.4l.4-.1l.5-.2l.4,.3l.4-.1l.5,0l.3,.6l.5-.4l.4,.5l.4,.1l.4,.4l.5-.5l.4,.1l.5,0l.4-.1l.4,.3l.5,.1l.3,.5l.4,0l.4,.2l.5-.3l.3,.8l.6-.6l.4,.1l.4,.3l.3,.5l.5-.3l.4,.3l.5-.1l.4-.1l.5-.1l.3,.5l.4,.2l.5,0l.4,0l.4,0l.5-.1l.4,.4l.5-.5l.3,.7l.6-.7l.3,.4l.6-.4l.4,.3" stroke-width="3.6" stroke-dasharray="14,3.3,2.4,3.3"/>
<path d="M665.4,444.5l-1.4,5.5M700.7,447.3l0.6,6.9M705.7,447.9l1.8,6.1M705.8,448.3l2.4,5.7M712.4,448.0l-1.2,6.6M713.1,449.1l-1.9,6.1M726.1,448.5l-0.8,6.5M737.2,448.7l2.5,6.3M738.5,448.5l1.7,7.2" stroke-width="1.3"/>
<path d="M780.5,456.3l.4-.2l.4,.3l.4,.3l.4,.1l.5-.2l.5-.1l.3,.5l.5-.5l.4,.4l.5-.2l.4,.5l.4,.1l.5-.2l.4-.2l.4,.3l.5-.2l.4,.3l.4,.2l.4,.3l.4,.4l.5-.5l.4,.1l.5,.2l.4-.1l.5-.2l.4,0l.4,.6l.4,0l.5-.2l.4,.1l.5-.4l.4,.4l.5-.2l.3,.7l.5-.4l.5-.3l.4,.3l.4,.4l.4,0l.5-.1l.5-.3l.4-.1l.4,.6l.5-.2l.4,.1l.4,.4l.5-.1l.4,0l.5-.3l.4,.1l.4,0l.4,.5l.5,.1l.4,0l.5-.7l.4,.7l.5-.4l.4,.1l.4,.1l.4,.6l.5-.5l.4,.6l.5-.7l.5-.2l.4,.5l.4-.2l.5,0l.4,.2l.4,.1l.5-.3l.4,.1l.5-.1l.4,.1l.5,.1l.4,.1l.4,0l.5,.3l.4-.3l.5-.1l.4,.6l.4-.1l.5-.2l.4,.1l.5,.2l.4-.5l.5,.5l.4-.2l.5,.1l.4,.5l.4-.3l.5,.1l.4,.3l.4,.2l.5-.2l.4-.1l.5,.2l.4,0l.5-.1l.4,0l.4,.3l.5-.1l.5-.2l.4,.4l.4,0l.5,0l.4,.1l.4,.4l.5-.4l.4-.1l.5-.2l.5,0l.4-.1l.4,.5l.5-.3l.5-.2l.5-.4l.3,.7l.4,.2l.5-.2l.5,0l.4,.5l.4,0l.5-.3l.5-.2l.4,.2l.4,.3l.5-.1l.4,.3l.4,0l.5-.5l.5,.3l.4,.2l.4,.1l.4,.1l.5,.1l.4,.1l.4,.1l.5,.1l.4-.2l.5,.2l.4,.1l.4,.5l.4,.2l.4-.1l.5,0l.4,0l.5-.3l.5,0l.3,.6l.5-.3l.5,0l.4,.1l.4,.4l.4,.1l.5-.2l.4,0l.5,.1l.4,.1l.5,.1l.4,0l.5-.3l.4,.4l.4,.4l.5-.2l.4,.2l.5-.3l.4,.1l.5-.2l.4,.4l.5-.1l.4-.1l.5,.2l.4-.1l.5-.3l.4,.5l.4-.5l.5,.9l.4-.4l.5,.1l.4-.4l.5,.1l.4,.2l.5-.1l.4-.1l.5,.1l.4-.2l.5,.1l.5,.2l.4,0l.5,.1l.4-.4l.5,.5l.4-.1l.5-.3l.4-.1l.5,.2l.4,.5l.5-.4l.4,0l.5,.2l.4-.1l.5,.2l.4-.4l.5,.5l.4-.2l.5,.2l.4,0l.5-.1l.4-.1l.5-.3l.4,.4l.5,.1l.4,.2l.5-.5l.4,.4l.5,.1l.4-.1l.5-.3l.4,.2l.5-.8l.4,.1l.5,.1l.4,0l.5,.4l.4-.4l.5,.2l.4,.1l.5-.2l.4,.3l.4,.2l.5-.5l.4,.5l.5-.1l.4-.1l.5-.1l.4,.3l.5-.1l.5-.2l.4,.3l.5-.3l.3,.6l.5-.2l.4,.6l.4-.1l.5-.2l.5-.2l.4,.3l.4,.3l.4,.3l.5-.2l.5,0l.4,.2l.4,.2l.6-.5l.4,.3l.4-.1l.4,.3l.5,.2l.4,.3l.5-.3l.4,.1l.4,.6l.4-.2l.5-.3l.5,.3l.3,.4l.6-.5l.3,.6l.5,0l.4,.2l.5-.1l.4,.3l.4,.3l.5-.4l.4,.5l.5-.1l.5,0l.4,.3l.4,.3l.5-.6l.5,0l.4,.5l.5-.4l.4,0l.5-.1l.4,.3l.5,0l.4,0l.5,.1l.4-.1l.5,0l.5,0l.4,.3l.5-.6l.4,.7l.5-.2l.5-.3l.3,1l.5-.3l.5-.2l.4,.1l.5-.2l.5,.2l.4,.4l.5-.3l.4,.1l.4,.5l.5-.6l.5,.2l.4,0l.5,.1l.5,.1l.4,.1l.5-.2l.4-.1l.5,.2l.5-.2l.4,0l.5,.1l.4,.4l.5,0l.4,0l.5-.3l.5,0l.4,.1l.5,0l.4,.2l.5,.1l.5-.7l.4,.4l.5-.4l.4,.2l.5,.4l.5-.1l.4-.3l.5,.3l.4-.2l.5,.2l.5,0l.4-.1l.5,.4l.4-.5l.5,.1l.5,.3l.4-.3l.5-.1l.4,0l.5,.1l.5,0l.4,0l.5,0l.5,.2l.4-.5l.5,.3l.4-.2l.5,0l.5,.3l.4-.1l.5-.1l.5-.2l.4,.4l.5-.4l.4,.1l.5,.2l.5,.1l.4-.2l.5,.3l.5-.4l.4-.2l.5,.3l.4,0l.5-.3l.5,.2l.4-.1l.5,.2l.5-.3l.4,.3l.5-.1l.4-.2l.5-.1l.5,.2l.4-.1l.5-.1l.4,0l.5-.1l.5,.3l.4-.2l.5,0l.4,.3l.5-.1l.4,.4l.5-.1l.5-.4l.4,.5l.5-.2l.4,.2l.5,.1l.5-.1l.4,0l.5,0l.5,.1l.4,.3l.4,.2l.4,.2l.6-.5l.4,.1l.4,.4l.5,.1l.4,0l.5,.1l.4,.2l.5,.1l.4,.1l.5,.1l.3,.4l.6-.2l.3,.4l.5,.1l.4,.2l.5-.2l.4,.5l.4,.1l.5-.1l.4,.3l.6-.2l.4,.2l.4,.5l.4,.1l.6-.4l.4,.4l.4,.1l.5-.3l.4,.5l.5-.3l.5,0l.4,.3l.5,.2l.4,.1l.5-.1l.4,.4l.5-.4l.6-.4l.4,.7l.4,.2l.5-.2l.5,.1l.4,.2l.5-.2l.5,.2l.4-.2l.5,.2l.5-.1l.4,.3l.5-.1l.4,.3l.6-.4l.4,.5l.5-.2l.4,.1l.5-.2l.5,.1l.5,.2l.5-.3l.4,.4l.5-.1l.5-.2l.4,.3l.5-.3l.5,0l.4,.4l.5-.4l.5,.5l.5-.1l.5-.2l.4,.1l.5,0l.5,.2l.4,.2l.5-.1l.5-.1l.5,0l.4-.1l.5,.2l.5,.3l.5-.4l.4-.1l.5,.3l.5-.4l.5,.1l.4,.2l.5,0l.5-.2l.4,0l.5,0l.5,0l.5-.1l.4,.1l.5,.1l.5-.2l.4,0l.5,.3l.5-.1l.5-.1l.5,0l.4-.2l.5-.1l.4-.2l.6,.5l.5,.2l.4-.3l.4-.4l.6,.3l.4,.1l.5-.2l.4-.5l.5,.1l.5-.1l.5-.1l.4,0l.5,.2l.4-.1" stroke-width="3.5" stroke-dasharray="17,3.5,2.6,3.5"/>
<path d="M780.9,453.0l-0.2,6.7M813.0,456.5l-2.3,7.2M821.4,458.3l-2.3,5.5M835.2,459.3l0.1,6.1M842.8,459.8l-1.0,6.1M873.7,461.2l-1.1,5.4M873.9,461.0l1.3,7.0M893.8,463.7l1.4,6.5M921.3,466.4l-1.3,5.6M949.6,465.9l-2.5,6.6M972.3,468.9l0.1,7.1M986.1,470.1l-1.5,7.4M989.5,471.8l-1.9,6.2M996.4,471.2l-0.5,6.7M1008.1,472.1l0.8,6.8" stroke-width="1.3"/>
</g>
</svg></body></html>
